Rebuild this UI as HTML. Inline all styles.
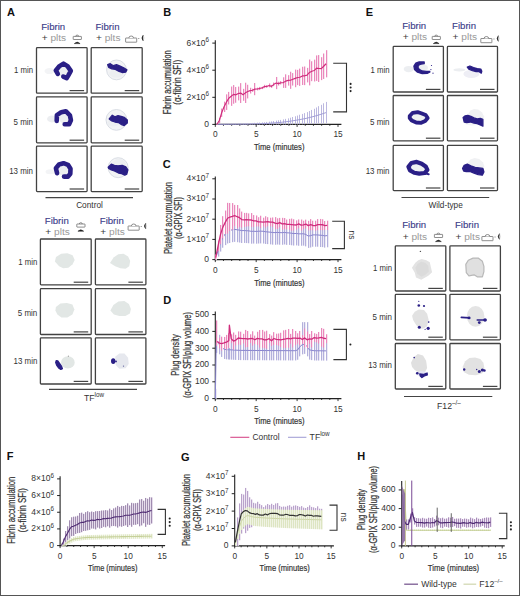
<!DOCTYPE html>
<html><head><meta charset="utf-8"><style>
html,body{margin:0;padding:0;background:#fff;}
svg{display:block;}
text{font-family:"Liberation Sans", sans-serif;}
text.w{stroke-width:0.3px;paint-order:stroke;}
</style></head><body>
<svg width="520" height="596" viewBox="0 0 520 596">
<rect x="0" y="0" width="520" height="596" fill="#fff"/>
<text x="6.9" y="16.2" font-size="11" fill="#111" font-weight="bold">A</text>
<text x="163.2" y="16.2" font-size="11" fill="#111" font-weight="bold">B</text>
<text x="162.8" y="168.4" font-size="11" fill="#111" font-weight="bold">C</text>
<text x="163.2" y="303.5" font-size="11" fill="#111" font-weight="bold">D</text>
<text x="365.8" y="16.2" font-size="11" fill="#111" font-weight="bold">E</text>
<text x="6.7" y="460.4" font-size="11" fill="#111" font-weight="bold">F</text>
<text x="181.0" y="460.6" font-size="11" fill="#111" font-weight="bold">G</text>
<text x="357.2" y="460.4" font-size="11" fill="#111" font-weight="bold">H</text>
<text x="41.2" y="30.2" font-size="9.6" fill="#3a3a88" textLength="24" lengthAdjust="spacingAndGlyphs" stroke="#3a3a88" stroke-width="0.12">Fibrin</text>
<text x="41.7" y="41.2" font-size="9.6" fill="#9a9a9a" textLength="24.5" lengthAdjust="spacingAndGlyphs"><tspan fill="#3a3a3a">+</tspan> plts</text>
<text x="95.5" y="30.2" font-size="9.6" fill="#3a3a88" textLength="24" lengthAdjust="spacingAndGlyphs" stroke="#3a3a88" stroke-width="0.12">Fibrin</text>
<text x="96.0" y="41.2" font-size="9.6" fill="#9a9a9a" textLength="24.5" lengthAdjust="spacingAndGlyphs"><tspan fill="#3a3a3a">+</tspan> plts</text>
<g transform="translate(72.8,35)" fill="none" stroke="#6a6a6a" stroke-width="0.75"><rect x="0.4" y="1.4" width="8.2" height="3.1" rx="0.3"/><path d="M2.9 1.4 A1.5 1.3 0 0 1 5.9 1.4"/><path d="M1.5 8.6 Q4.4 5.6 7.3 8.6 Z" fill="#1e1e1e" stroke="#1e1e1e" stroke-width="0.5"/></g>
<g transform="translate(125.3,35)" fill="none" stroke="#6a6a6a" stroke-width="0.75"><rect x="0.3" y="3.0" width="11.1" height="4.2" rx="0.3"/><path d="M3.6 3.0 A2.3 2.0 0 0 1 8.2 3.0" fill="#fff"/><line x1="12.9" y1="3.5" x2="14.0" y2="3.5"/><path d="M17.9 0.2 Q15.2 3.0 17.9 5.8 Q17.0 3.0 17.9 0.2 Z" fill="#1e1e1e" stroke="#1e1e1e" stroke-width="0.5"/><path d="M17.9 0.2 Q19.4 3.0 17.9 5.8" stroke-width="0.5" stroke="#aaa"/></g>
<rect x="36.50" y="47.60" width="50.60" height="45.60" rx="0.8" fill="#fff" stroke="#424242" stroke-width="1.3"/>
<g transform="translate(36.50,47.60)"><ellipse cx="13" cy="23.5" rx="5" ry="3" fill="#f3f4f6" opacity="1" transform="rotate(0 13 23.5)"/><ellipse cx="27" cy="23.5" rx="6" ry="6" fill="#eceef1" opacity="1" transform="rotate(0 27 23.5)"/><path d="M21.3 26.3 L19.3 22.8 L23.0 18.5 L27.0 16.0 L31.0 18.5 L34.3 23.3 L32.0 27.5 L30.2 30.6 L26.8 29.0" fill="none" stroke="#2a1f86" stroke-width="4.6" stroke-linejoin="round" stroke-linecap="round"/></g>
<line x1="69.60" y1="90.60" x2="84.10" y2="90.60" stroke="#444" stroke-width="1.2"/>
<rect x="91.20" y="47.60" width="51.00" height="45.60" rx="0.8" fill="#fff" stroke="#424242" stroke-width="1.3"/>
<g transform="translate(91.20,47.60)"><circle cx="25.3" cy="22.3" r="9.9" fill="#f2f3f5" stroke="#d6dae2" stroke-width="0.9"/><ellipse cx="25" cy="26" rx="7" ry="4" fill="#eceef1" opacity="1" transform="rotate(0 25 26)"/><path d="M16.5 17.1 L19.1 16.1 L22.2 18.1 L25.3 17.1 L28.9 18.6 L32.5 20.2 L35.7 22.3 L34.6 24.4 L31.0 24.9 L27.9 23.8 L24.2 21.8 L20.6 21.2 L17.5 19.7 Z" fill="#2a1f86" opacity="1" stroke="#2a1f86" stroke-width="1.3" stroke-linejoin="round"/></g>
<line x1="124.70" y1="90.60" x2="139.20" y2="90.60" stroke="#444" stroke-width="1.2"/>
<text x="33.0" y="73.3" font-size="9" fill="#333" text-anchor="end" textLength="19" lengthAdjust="spacingAndGlyphs">1 min</text>
<rect x="36.50" y="96.90" width="50.60" height="45.90" rx="0.8" fill="#fff" stroke="#424242" stroke-width="1.3"/>
<g transform="translate(36.50,96.90)"><ellipse cx="15.5" cy="22" rx="5" ry="3.5" fill="#eceef1" opacity="1" transform="rotate(0 15.5 22)"/><ellipse cx="28" cy="21.5" rx="5.5" ry="5" fill="#eceef1" opacity="1" transform="rotate(0 28 21.5)"/><path d="M20.2 24.0 L20.4 18.2 L24.8 15.3 L29.3 14.3 L33.4 18.4 L34.4 23.3 L32.6 27.3 L28.2 27.4" fill="none" stroke="#2a1f86" stroke-width="4.6" stroke-linejoin="round" stroke-linecap="round"/></g>
<line x1="69.60" y1="140.20" x2="84.10" y2="140.20" stroke="#444" stroke-width="1.2"/>
<rect x="91.20" y="96.90" width="51.00" height="45.90" rx="0.8" fill="#fff" stroke="#424242" stroke-width="1.3"/>
<g transform="translate(91.20,96.90)"><circle cx="25.2" cy="23" r="10.4" fill="#f2f3f5" stroke="#d6dae2" stroke-width="0.9"/><ellipse cx="22" cy="26" rx="6" ry="3.5" fill="#eceef1" opacity="1" transform="rotate(0 22 26)"/><path d="M18.0 22.0 L21.1 18.3 L23.7 19.9 L26.8 18.8 L29.9 19.4 L33.0 20.4 L36.1 23.0 L36.1 26.1 L33.0 28.7 L30.4 27.7 L27.3 25.6 L23.7 25.1 L20.6 24.0 Z" fill="#2a1f86" opacity="1" stroke="#2a1f86" stroke-width="1.3" stroke-linejoin="round"/></g>
<line x1="124.70" y1="140.20" x2="139.20" y2="140.20" stroke="#444" stroke-width="1.2"/>
<text x="33.0" y="125.2" font-size="9" fill="#333" text-anchor="end" textLength="19.5" lengthAdjust="spacingAndGlyphs">5 min</text>
<rect x="36.50" y="146.20" width="50.60" height="45.40" rx="0.8" fill="#fff" stroke="#424242" stroke-width="1.3"/>
<g transform="translate(36.50,146.20)"><ellipse cx="14" cy="25.5" rx="5" ry="2.5" fill="#f3f4f6" opacity="1" transform="rotate(0 14 25.5)"/><ellipse cx="27.5" cy="24.5" rx="5.5" ry="5" fill="#eceef1" opacity="1" transform="rotate(0 27.5 24.5)"/><path d="M20.6 27.0 L19.4 22.0 L22.5 18.3 L27.0 17.0 L31.5 18.6 L34.0 22.5 L33.8 27.5 L31.5 30.4 L27.5 30.4" fill="none" stroke="#2a1f86" stroke-width="4.6" stroke-linejoin="round" stroke-linecap="round"/></g>
<line x1="69.60" y1="189.00" x2="84.10" y2="189.00" stroke="#444" stroke-width="1.2"/>
<rect x="91.20" y="146.20" width="51.00" height="45.40" rx="0.8" fill="#fff" stroke="#424242" stroke-width="1.3"/>
<g transform="translate(91.20,146.20)"><circle cx="27" cy="21.5" r="10" fill="#f2f3f5" stroke="#d6dae2" stroke-width="0.9"/><circle cx="27.8" cy="19.5" r="7" fill="#eceef1"/><path d="M17.0 21.1 L20.1 18.0 L23.2 19.1 L26.8 19.6 L31.0 19.1 L34.6 20.6 L36.7 23.7 L35.6 27.9 L33.6 28.9 L30.4 27.4 L27.3 26.8 L23.2 24.8 L20.1 23.7 L17.5 22.2 Z" fill="#2a1f86" opacity="1" stroke="#2a1f86" stroke-width="1.3" stroke-linejoin="round"/></g>
<line x1="124.70" y1="189.00" x2="139.20" y2="189.00" stroke="#444" stroke-width="1.2"/>
<text x="33.0" y="173.7" font-size="9" fill="#333" text-anchor="end" textLength="23.8" lengthAdjust="spacingAndGlyphs">13 min</text>
<line x1="45.50" y1="197.60" x2="133.00" y2="197.60" stroke="#444" stroke-width="1.2"/>
<text x="89.5" y="207.9" font-size="9" fill="#333" text-anchor="middle" textLength="26.7" lengthAdjust="spacingAndGlyphs">Control</text>
<text x="44.8" y="223.6" font-size="9.6" fill="#3a3a88" textLength="24" lengthAdjust="spacingAndGlyphs" stroke="#3a3a88" stroke-width="0.12">Fibrin</text>
<text x="45.3" y="234.6" font-size="9.6" fill="#9a9a9a" textLength="24.5" lengthAdjust="spacingAndGlyphs"><tspan fill="#3a3a3a">+</tspan> plts</text>
<text x="99.8" y="223.6" font-size="9.6" fill="#3a3a88" textLength="24" lengthAdjust="spacingAndGlyphs" stroke="#3a3a88" stroke-width="0.12">Fibrin</text>
<text x="100.3" y="234.6" font-size="9.6" fill="#9a9a9a" textLength="24.5" lengthAdjust="spacingAndGlyphs"><tspan fill="#3a3a3a">+</tspan> plts</text>
<g transform="translate(76.4,222.6)" fill="none" stroke="#6a6a6a" stroke-width="0.75"><rect x="0.4" y="1.4" width="8.2" height="3.1" rx="0.3"/><path d="M2.9 1.4 A1.5 1.3 0 0 1 5.9 1.4"/><path d="M1.5 8.6 Q4.4 5.6 7.3 8.6 Z" fill="#1e1e1e" stroke="#1e1e1e" stroke-width="0.5"/></g>
<g transform="translate(127.8,223)" fill="none" stroke="#6a6a6a" stroke-width="0.75"><rect x="0.3" y="3.0" width="11.1" height="4.2" rx="0.3"/><path d="M3.6 3.0 A2.3 2.0 0 0 1 8.2 3.0" fill="#fff"/><line x1="12.9" y1="3.5" x2="14.0" y2="3.5"/><path d="M17.9 0.2 Q15.2 3.0 17.9 5.8 Q17.0 3.0 17.9 0.2 Z" fill="#1e1e1e" stroke="#1e1e1e" stroke-width="0.5"/><path d="M17.9 0.2 Q19.4 3.0 17.9 5.8" stroke-width="0.5" stroke="#aaa"/></g>
<rect x="40.40" y="239.00" width="50.80" height="45.80" rx="0.8" fill="#fff" stroke="#424242" stroke-width="1.3"/>
<g transform="translate(40.40,239.00)"><path d="M15.6 17.9 L20.8 14.8 L27.0 14.3 L32.2 16.3 L34.3 21.0 L32.2 25.2 L28.0 28.8 L22.8 29.3 L18.7 27.2 L14.5 22.6 Z" fill="#e2e7e5" opacity="1"/></g>
<line x1="73.70" y1="282.20" x2="88.20" y2="282.20" stroke="#444" stroke-width="1.2"/>
<rect x="95.40" y="239.00" width="50.50" height="45.80" rx="0.8" fill="#fff" stroke="#424242" stroke-width="1.3"/>
<g transform="translate(95.40,239.00)"><path d="M14.6 24.1 L18.2 18.4 L22.9 15.3 L28.1 14.8 L32.7 17.4 L34.8 22.0 L33.8 27.2 L30.2 29.8 L25.0 29.3 L19.8 27.2 Z" fill="#e2e7e5" opacity="1"/></g>
<line x1="128.40" y1="282.20" x2="142.90" y2="282.20" stroke="#444" stroke-width="1.2"/>
<text x="37.3" y="264.7" font-size="9" fill="#333" text-anchor="end" textLength="19" lengthAdjust="spacingAndGlyphs">1 min</text>
<rect x="40.40" y="288.60" width="50.80" height="45.90" rx="0.8" fill="#fff" stroke="#424242" stroke-width="1.3"/>
<g transform="translate(40.40,288.60)"><path d="M15.5 18.5 L20.0 15.0 L26.5 14.4 L32.0 16.0 L34.0 21.0 L32.0 26.0 L27.0 29.0 L21.0 28.8 L17.0 26.0 L15.0 22.0 Z" fill="#e2e7e5" opacity="1"/></g>
<line x1="73.70" y1="331.90" x2="88.20" y2="331.90" stroke="#444" stroke-width="1.2"/>
<rect x="95.40" y="288.60" width="50.50" height="45.90" rx="0.8" fill="#fff" stroke="#424242" stroke-width="1.3"/>
<g transform="translate(95.40,288.60)"><path d="M15.0 22.0 L18.0 16.5 L23.0 13.0 L29.0 12.5 L33.5 15.5 L35.5 20.5 L34.5 25.0 L30.0 27.5 L24.0 27.5 L18.5 26.0 Z" fill="#e2e7e5" opacity="1"/></g>
<line x1="128.40" y1="331.90" x2="142.90" y2="331.90" stroke="#444" stroke-width="1.2"/>
<text x="37.3" y="315.9" font-size="9" fill="#333" text-anchor="end" textLength="19.5" lengthAdjust="spacingAndGlyphs">5 min</text>
<rect x="40.40" y="337.80" width="50.80" height="46.20" rx="0.8" fill="#fff" stroke="#424242" stroke-width="1.3"/>
<g transform="translate(40.40,337.80)"><ellipse cx="27.5" cy="24.6" rx="6.8" ry="6.2" fill="#e2e7e5" opacity="1" transform="rotate(0 27.5 24.6)"/><circle cx="28" cy="18.4" r="0.6" fill="#999"/><path d="M15.8 22.8 L17.4 23.2 L19.3 25.8 L21.2 28.6 L22.0 30.8 L20.4 31.6 L18.2 30.2 L16.4 27.6 L15.3 24.8 Z" fill="#2a1f86" opacity="1" stroke="#2a1f86" stroke-width="1.3" stroke-linejoin="round"/></g>
<line x1="73.70" y1="381.40" x2="88.20" y2="381.40" stroke="#444" stroke-width="1.2"/>
<rect x="95.40" y="337.80" width="50.50" height="46.20" rx="0.8" fill="#fff" stroke="#424242" stroke-width="1.3"/>
<g transform="translate(95.40,337.80)"><path d="M19.8 18.9 L23.9 15.8 L29.1 15.8 L32.7 20.0 L33.3 26.2 L30.2 30.4 L23.9 30.9 L20.3 27.2 Z" fill="#e6e8ee" opacity="1"/><ellipse cx="17.8" cy="23.3" rx="2.2" ry="2.9" fill="#2a1f86" opacity="1" transform="rotate(0 17.8 23.3)"/><circle cx="20.6" cy="23.6" r="0.9" fill="#2a1f86"/><circle cx="28.1" cy="28.3" r="0.7" fill="#5a5a9a"/></g>
<line x1="128.40" y1="381.40" x2="142.90" y2="381.40" stroke="#444" stroke-width="1.2"/>
<text x="37.3" y="364.1" font-size="9" fill="#333" text-anchor="end" textLength="23.8" lengthAdjust="spacingAndGlyphs">13 min</text>
<line x1="49.00" y1="389.30" x2="137.00" y2="389.30" stroke="#444" stroke-width="1.2"/>
<text x="83.9" y="400.9" font-size="8.7" fill="#333" text-anchor="start">TF<tspan font-size="6.3" dy="-4">low</tspan></text>
<text x="402.2" y="29.1" font-size="9.6" fill="#3a3a88" textLength="24" lengthAdjust="spacingAndGlyphs" stroke="#3a3a88" stroke-width="0.12">Fibrin</text>
<text x="402.7" y="40.1" font-size="9.6" fill="#9a9a9a" textLength="24.5" lengthAdjust="spacingAndGlyphs"><tspan fill="#3a3a3a">+</tspan> plts</text>
<text x="452.1" y="29.1" font-size="9.6" fill="#3a3a88" textLength="24" lengthAdjust="spacingAndGlyphs" stroke="#3a3a88" stroke-width="0.12">Fibrin</text>
<text x="452.6" y="40.1" font-size="9.6" fill="#9a9a9a" textLength="24.5" lengthAdjust="spacingAndGlyphs"><tspan fill="#3a3a3a">+</tspan> plts</text>
<g transform="translate(431.8,35)" fill="none" stroke="#6a6a6a" stroke-width="0.75"><rect x="0.4" y="1.4" width="8.2" height="3.1" rx="0.3"/><path d="M2.9 1.4 A1.5 1.3 0 0 1 5.9 1.4"/><path d="M1.5 8.6 Q4.4 5.6 7.3 8.6 Z" fill="#1e1e1e" stroke="#1e1e1e" stroke-width="0.5"/></g>
<g transform="translate(480.5,35.5)" fill="none" stroke="#6a6a6a" stroke-width="0.75"><rect x="0.3" y="3.0" width="11.1" height="4.2" rx="0.3"/><path d="M3.6 3.0 A2.3 2.0 0 0 1 8.2 3.0" fill="#fff"/><line x1="12.9" y1="3.5" x2="14.0" y2="3.5"/><path d="M17.9 0.2 Q15.2 3.0 17.9 5.8 Q17.0 3.0 17.9 0.2 Z" fill="#1e1e1e" stroke="#1e1e1e" stroke-width="0.5"/><path d="M17.9 0.2 Q19.4 3.0 17.9 5.8" stroke-width="0.5" stroke="#aaa"/></g>
<rect x="393.20" y="46.40" width="50.20" height="45.60" rx="0.8" fill="#fff" stroke="#424242" stroke-width="1.3"/>
<g transform="translate(393.20,46.40)"><ellipse cx="15.5" cy="22.7" rx="5" ry="3.2" fill="#eceef1" opacity="1" transform="rotate(0 15.5 22.7)"/><ellipse cx="29" cy="21.5" rx="6" ry="3.8" fill="#f3f4f6" opacity="1" transform="rotate(0 29 21.5)"/><ellipse cx="29.5" cy="21.3" rx="5" ry="3" fill="#eceef1" opacity="1" transform="rotate(0 29.5 21.3)"/><path d="M31.0 15.5 L26.0 15.5 L22.6 16.8 L20.7 19.7 L21.3 23.0 L24.3 25.8 L29.0 27.3 L34.0 26.9 L36.8 25.5 L36.2 24.9 L33.0 25.0 L29.0 24.6 L26.0 23.0 L24.6 20.6 L25.8 18.6 L28.2 17.6 L31.0 17.3 Z" fill="#2a1f86" opacity="1" stroke="#2a1f86" stroke-width="1.3" stroke-linejoin="round"/><circle cx="38.3" cy="19.1" r="0.6" fill="#2a1f86"/><circle cx="37.7" cy="23.2" r="0.6" fill="#2a1f86"/><circle cx="39.8" cy="26.8" r="0.6" fill="#2a1f86"/></g>
<line x1="425.90" y1="89.40" x2="440.40" y2="89.40" stroke="#444" stroke-width="1.2"/>
<rect x="447.40" y="46.40" width="50.10" height="45.60" rx="0.8" fill="#fff" stroke="#424242" stroke-width="1.3"/>
<g transform="translate(447.40,46.40)"><ellipse cx="12" cy="23.5" rx="6" ry="1.6" fill="#eceef1" opacity="1" transform="rotate(0 12 23.5)"/><ellipse cx="24" cy="27.5" rx="8" ry="4" fill="#eeeef5" opacity="1" transform="rotate(0 24 27.5)"/><path d="M19.9 20.6 L22.5 19.6 L26.1 21.1 L29.8 22.2 L33.4 22.7 L34.4 24.8 L33.9 26.8 L31.8 25.3 L28.7 25.3 L25.1 24.2 L21.4 22.7 Z" fill="#2a1f86" opacity="1" stroke="#2a1f86" stroke-width="1.3" stroke-linejoin="round"/></g>
<line x1="480.00" y1="89.40" x2="494.50" y2="89.40" stroke="#444" stroke-width="1.2"/>
<text x="389.5" y="73.4" font-size="9" fill="#333" text-anchor="end" textLength="19" lengthAdjust="spacingAndGlyphs">1 min</text>
<rect x="393.20" y="95.50" width="50.20" height="45.30" rx="0.8" fill="#fff" stroke="#424242" stroke-width="1.3"/>
<g transform="translate(393.20,95.50)"><path d="M16.5 20.5 L19.5 17.3 L24.5 16.6 L28.0 17.7 L32.5 19.5 L34.5 22.5 L32.0 25.5 L28.0 27.3 L23.0 27.0 L18.5 25.0 L16.5 22.5 Z" fill="#eef0f2" opacity="1" stroke="#2a1f86" stroke-width="3.8" stroke-linejoin="round"/></g>
<line x1="425.90" y1="138.20" x2="440.40" y2="138.20" stroke="#444" stroke-width="1.2"/>
<rect x="447.40" y="95.50" width="50.10" height="45.30" rx="0.8" fill="#fff" stroke="#424242" stroke-width="1.3"/>
<g transform="translate(447.40,95.50)"><path d="M20.9 18.2 L23.0 15.1 L26.6 13.6 L30.8 14.1 L34.4 16.7 L37.0 21.3 L35.5 24.0 L20.0 21.0 Z" fill="#f0f1f3" opacity="1"/><ellipse cx="25" cy="27.5" rx="8" ry="2.5" fill="#f3f4f6" opacity="1" transform="rotate(0 25 27.5)"/><path d="M15.7 21.9 L17.8 20.3 L20.4 19.8 L23.5 20.8 L26.6 22.4 L29.8 23.4 L32.9 22.9 L35.5 23.9 L35.5 30.7 L33.4 29.7 L29.8 28.1 L26.6 27.6 L23.0 26.5 L19.4 27.1 L16.8 26.5 Z" fill="#2a1f86" opacity="1" stroke="#2a1f86" stroke-width="1.3" stroke-linejoin="round"/></g>
<line x1="480.00" y1="138.20" x2="494.50" y2="138.20" stroke="#444" stroke-width="1.2"/>
<text x="389.5" y="125.1" font-size="9" fill="#333" text-anchor="end" textLength="19.5" lengthAdjust="spacingAndGlyphs">5 min</text>
<rect x="393.20" y="145.40" width="50.20" height="45.20" rx="0.8" fill="#fff" stroke="#424242" stroke-width="1.3"/>
<g transform="translate(393.20,145.40)"><path d="M15.2 21.3 L18.2 17.6 L23.5 16.5 L28.5 18.3 L32.5 21.0 L34.2 24.5 L31.5 27.6 L26.0 28.2 L21.0 27.4 L16.8 25.0 Z" fill="#eef0f2" opacity="1" stroke="#2a1f86" stroke-width="4.2" stroke-linejoin="round"/><path d="M32.0 28.0 L35.5 28.8" fill="none" stroke="#2a1f86" stroke-width="2" stroke-linejoin="round" stroke-linecap="round"/></g>
<line x1="425.90" y1="188.00" x2="440.40" y2="188.00" stroke="#444" stroke-width="1.2"/>
<rect x="447.40" y="145.40" width="50.10" height="45.20" rx="0.8" fill="#fff" stroke="#424242" stroke-width="1.3"/>
<g transform="translate(447.40,145.40)"><path d="M19.4 18.3 L23.0 14.2 L27.2 12.6 L31.8 13.7 L35.5 16.8 L37.0 20.9 L35.5 24.0 L20.0 21.0 Z" fill="#f0f1f3" opacity="1"/><path d="M15.2 23.0 L16.8 19.9 L19.9 18.8 L23.5 20.4 L27.7 22.0 L31.8 22.5 L35.5 23.0 L36.5 26.6 L34.9 29.8 L30.8 29.2 L26.6 27.7 L22.5 26.1 L18.9 26.1 L16.3 25.6 Z" fill="#2a1f86" opacity="1" stroke="#2a1f86" stroke-width="1.3" stroke-linejoin="round"/></g>
<line x1="480.00" y1="188.00" x2="494.50" y2="188.00" stroke="#444" stroke-width="1.2"/>
<text x="389.5" y="173.9" font-size="9" fill="#333" text-anchor="end" textLength="23.8" lengthAdjust="spacingAndGlyphs">13 min</text>
<line x1="401.50" y1="197.50" x2="489.20" y2="197.50" stroke="#444" stroke-width="1.2"/>
<text x="445.6" y="207.5" font-size="9" fill="#333" text-anchor="middle" textLength="34.3" lengthAdjust="spacingAndGlyphs">Wild-type</text>
<text x="402.2" y="228.4" font-size="9.6" fill="#3a3a88" textLength="24" lengthAdjust="spacingAndGlyphs" stroke="#3a3a88" stroke-width="0.12">Fibrin</text>
<text x="402.7" y="239.8" font-size="9.6" fill="#9a9a9a" textLength="24.5" lengthAdjust="spacingAndGlyphs"><tspan fill="#3a3a3a">+</tspan> plts</text>
<text x="455.0" y="228.4" font-size="9.6" fill="#3a3a88" textLength="24" lengthAdjust="spacingAndGlyphs" stroke="#3a3a88" stroke-width="0.12">Fibrin</text>
<text x="455.5" y="239.8" font-size="9.6" fill="#9a9a9a" textLength="24.5" lengthAdjust="spacingAndGlyphs"><tspan fill="#3a3a3a">+</tspan> plts</text>
<g transform="translate(434,233)" fill="none" stroke="#6a6a6a" stroke-width="0.75"><rect x="0.4" y="1.4" width="8.2" height="3.1" rx="0.3"/><path d="M2.9 1.4 A1.5 1.3 0 0 1 5.9 1.4"/><path d="M1.5 8.6 Q4.4 5.6 7.3 8.6 Z" fill="#1e1e1e" stroke="#1e1e1e" stroke-width="0.5"/></g>
<g transform="translate(481.6,233.5)" fill="none" stroke="#6a6a6a" stroke-width="0.75"><rect x="0.3" y="3.0" width="11.1" height="4.2" rx="0.3"/><path d="M3.6 3.0 A2.3 2.0 0 0 1 8.2 3.0" fill="#fff"/><line x1="12.9" y1="3.5" x2="14.0" y2="3.5"/><path d="M17.9 0.2 Q15.2 3.0 17.9 5.8 Q17.0 3.0 17.9 0.2 Z" fill="#1e1e1e" stroke="#1e1e1e" stroke-width="0.5"/><path d="M17.9 0.2 Q19.4 3.0 17.9 5.8" stroke-width="0.5" stroke="#aaa"/></g>
<rect x="395.30" y="245.80" width="50.50" height="45.20" rx="0.8" fill="#fff" stroke="#424242" stroke-width="1.3"/>
<g transform="translate(395.30,245.80)"><path d="M26.4 13.2 L31.0 14.5 L34.5 16.5 L35.5 21.0 L36.8 26.5 L33.0 30.0 L25.9 34.0 L20.7 31.7 L19.5 27.0 L16.6 21.9 L20.0 17.0 L23.0 14.5 Z" fill="#e3e3e3" opacity="1"/><path d="M26.0 16.0 L30.0 17.0 L33.0 20.0 L33.5 26.0 L30.0 29.0 L26.0 31.0 L22.0 28.0 L20.0 22.0 L22.5 18.0 Z" fill="#dbdbdb" opacity="1"/><circle cx="25.1" cy="5.6" r="0.7" fill="#555"/></g>
<line x1="428.30" y1="288.40" x2="442.80" y2="288.40" stroke="#444" stroke-width="1.2"/>
<rect x="449.90" y="245.80" width="50.50" height="45.20" rx="0.8" fill="#fff" stroke="#424242" stroke-width="1.3"/>
<g transform="translate(449.90,245.80)"><path d="M15.9 18.6 L18.4 14.4 L23.1 12.3 L28.3 12.3 L32.5 15.5 L34.0 20.6 L34.0 25.8 L32.5 31.0 L27.3 31.0 L24.2 29.0 L19.0 30.0 L16.4 26.9 Z" fill="#e0e0e0" opacity="1" stroke="#b8b8b8" stroke-width="1.2" stroke-linejoin="round"/></g>
<line x1="482.90" y1="288.40" x2="497.40" y2="288.40" stroke="#444" stroke-width="1.2"/>
<text x="392.0" y="271.3" font-size="9" fill="#333" text-anchor="end" textLength="19" lengthAdjust="spacingAndGlyphs">1 min</text>
<rect x="395.30" y="294.40" width="50.50" height="45.40" rx="0.8" fill="#fff" stroke="#424242" stroke-width="1.3"/>
<g transform="translate(395.30,294.40)"><path d="M16.8 21.4 L19.4 17.3 L23.5 15.2 L28.7 15.7 L31.8 19.4 L33.4 25.6 L31.8 31.8 L27.7 34.4 L23.5 33.9 L20.4 29.8 L17.8 25.6 Z" fill="#e2e2e2" opacity="1"/><circle cx="23.5" cy="6.9" r="0.6" fill="#2a1f86"/><circle cx="23.5" cy="11.1" r="1.3" fill="#2a1f86"/><circle cx="28.7" cy="11.6" r="1.1" fill="#2a1f86"/><circle cx="24" cy="32.9" r="1.5" fill="#2a1f86"/><circle cx="32.9" cy="33.9" r="1.6" fill="#2a1f86"/><circle cx="33.4" cy="27.7" r="0.8" fill="#2a1f86"/><circle cx="29.8" cy="34.9" r="0.6" fill="#2a1f86"/></g>
<line x1="428.30" y1="337.20" x2="442.80" y2="337.20" stroke="#444" stroke-width="1.2"/>
<rect x="449.90" y="294.40" width="50.50" height="45.40" rx="0.8" fill="#fff" stroke="#424242" stroke-width="1.3"/>
<g transform="translate(449.90,294.40)"><ellipse cx="25.7" cy="22" rx="8.8" ry="10.4" fill="#e4e4e4" opacity="1" transform="rotate(0 25.7 22)"/><path d="M11.5 23.0 L19.5 23.5" fill="none" stroke="#2a1f86" stroke-width="1.8" stroke-linejoin="round" stroke-linecap="round"/><circle cx="19.2" cy="23.5" r="1.4" fill="#2a1f86"/><path d="M27.3 25.6 L36.0 25.6" fill="none" stroke="#2a1f86" stroke-width="1.5" stroke-linejoin="round" stroke-linecap="round"/><circle cx="29.4" cy="28.2" r="1.4" fill="#2a1f86"/><circle cx="35.1" cy="25.6" r="1.8" fill="#2a1f86"/></g>
<line x1="482.90" y1="337.20" x2="497.40" y2="337.20" stroke="#444" stroke-width="1.2"/>
<text x="392.0" y="319.9" font-size="9" fill="#333" text-anchor="end" textLength="19.5" lengthAdjust="spacingAndGlyphs">5 min</text>
<rect x="395.30" y="343.50" width="50.50" height="45.50" rx="0.8" fill="#fff" stroke="#424242" stroke-width="1.3"/>
<g transform="translate(395.30,343.50)"><path d="M15.7 19.3 L18.3 14.1 L22.5 10.4 L27.7 12.0 L30.8 17.2 L31.8 24.5 L29.8 28.6 L24.6 29.7 L19.4 26.5 L16.8 23.4 Z" fill="#e0e0e0" opacity="1"/><ellipse cx="26" cy="30" rx="5.5" ry="2.5" fill="#e4e4f2" opacity="1" transform="rotate(0 26 30)"/><circle cx="18.9" cy="14.1" r="0.8" fill="#2a1f86"/><circle cx="22" cy="29.7" r="1.3" fill="#2a1f86"/><path d="M24.5 30.5 L28.0 31.0 L31.8 29.5 L32.0 31.5 L29.0 32.5 L26.6 34.0 L25.0 32.5 Z" fill="#2a1f86" opacity="1" stroke="#2a1f86" stroke-width="1.3" stroke-linejoin="round"/></g>
<line x1="428.30" y1="386.40" x2="442.80" y2="386.40" stroke="#444" stroke-width="1.2"/>
<rect x="449.90" y="343.50" width="50.50" height="45.50" rx="0.8" fill="#fff" stroke="#424242" stroke-width="1.3"/>
<g transform="translate(449.90,343.50)"><path d="M12.7 23.4 L15.3 17.7 L19.5 14.6 L25.2 14.1 L30.4 15.6 L33.5 19.3 L34.5 24.5 L32.5 29.7 L26.2 31.7 L19.0 31.2 L13.8 28.6 Z" fill="#e2e2e2" opacity="1"/><circle cx="14.3" cy="26" r="1.2" fill="#2a1f86"/><circle cx="29.4" cy="28.1" r="1.5" fill="#2a1f86"/><circle cx="32.5" cy="26.5" r="1.6" fill="#2a1f86"/><circle cx="34.5" cy="27" r="1.3" fill="#2a1f86"/><circle cx="26.8" cy="26" r="0.7" fill="#2a1f86"/></g>
<line x1="482.90" y1="386.40" x2="497.40" y2="386.40" stroke="#444" stroke-width="1.2"/>
<text x="392.0" y="368.0" font-size="9" fill="#333" text-anchor="end" textLength="23.8" lengthAdjust="spacingAndGlyphs">13 min</text>
<line x1="404.00" y1="396.50" x2="492.30" y2="396.50" stroke="#444" stroke-width="1.2"/>
<text x="437" y="409.2" font-size="8.7" fill="#333" text-anchor="start">F12<tspan font-size="6.3" dy="-4">–/–</tspan></text>
<line x1="215.30" y1="40.30" x2="215.30" y2="125.00" stroke="#222" stroke-width="1.1"/>
<line x1="214.80" y1="124.40" x2="341.40" y2="124.40" stroke="#222" stroke-width="1.1"/>
<line x1="212.30" y1="124.40" x2="215.30" y2="124.40" stroke="#222" stroke-width="1"/>
<text x="209.1" y="126.8" font-size="8.5" fill="#333" text-anchor="end">0</text>
<line x1="212.30" y1="97.30" x2="215.30" y2="97.30" stroke="#222" stroke-width="1"/>
<text x="209.1" y="99.7" font-size="8.5" fill="#333" text-anchor="end">2×10<tspan font-size="6.3" dy="-3.5">6</tspan></text>
<line x1="212.30" y1="70.20" x2="215.30" y2="70.20" stroke="#222" stroke-width="1"/>
<text x="209.1" y="72.6" font-size="8.5" fill="#333" text-anchor="end">4×10<tspan font-size="6.3" dy="-3.5">6</tspan></text>
<line x1="212.30" y1="43.10" x2="215.30" y2="43.10" stroke="#222" stroke-width="1"/>
<text x="209.1" y="45.5" font-size="8.5" fill="#333" text-anchor="end">6×10<tspan font-size="6.3" dy="-3.5">6</tspan></text>
<line x1="215.30" y1="124.40" x2="215.30" y2="126.90" stroke="#222" stroke-width="0.9"/>
<line x1="223.48" y1="124.40" x2="223.48" y2="125.80" stroke="#222" stroke-width="0.9"/>
<line x1="231.66" y1="124.40" x2="231.66" y2="125.80" stroke="#222" stroke-width="0.9"/>
<line x1="239.84" y1="124.40" x2="239.84" y2="125.80" stroke="#222" stroke-width="0.9"/>
<line x1="248.02" y1="124.40" x2="248.02" y2="125.80" stroke="#222" stroke-width="0.9"/>
<line x1="256.20" y1="124.40" x2="256.20" y2="126.90" stroke="#222" stroke-width="0.9"/>
<line x1="264.38" y1="124.40" x2="264.38" y2="125.80" stroke="#222" stroke-width="0.9"/>
<line x1="272.56" y1="124.40" x2="272.56" y2="125.80" stroke="#222" stroke-width="0.9"/>
<line x1="280.74" y1="124.40" x2="280.74" y2="125.80" stroke="#222" stroke-width="0.9"/>
<line x1="288.92" y1="124.40" x2="288.92" y2="125.80" stroke="#222" stroke-width="0.9"/>
<line x1="297.10" y1="124.40" x2="297.10" y2="126.90" stroke="#222" stroke-width="0.9"/>
<line x1="305.28" y1="124.40" x2="305.28" y2="125.80" stroke="#222" stroke-width="0.9"/>
<line x1="313.46" y1="124.40" x2="313.46" y2="125.80" stroke="#222" stroke-width="0.9"/>
<line x1="321.64" y1="124.40" x2="321.64" y2="125.80" stroke="#222" stroke-width="0.9"/>
<line x1="329.82" y1="124.40" x2="329.82" y2="125.80" stroke="#222" stroke-width="0.9"/>
<line x1="338.00" y1="124.40" x2="338.00" y2="126.90" stroke="#222" stroke-width="0.9"/>
<text x="215.3" y="137.3" font-size="8.3" fill="#333" text-anchor="middle">0</text>
<text x="256.2" y="137.3" font-size="8.3" fill="#333" text-anchor="middle">5</text>
<text x="297.1" y="137.3" font-size="8.3" fill="#333" text-anchor="middle">10</text>
<text x="338.0" y="137.3" font-size="8.3" fill="#333" text-anchor="middle">15</text>
<text transform="translate(171.4,82.3) rotate(-90)" x="0" y="0" font-size="10.4" fill="#333" text-anchor="middle" textLength="64" lengthAdjust="spacingAndGlyphs" stroke="#333" stroke-width="0.22">Fibrin accumulation</text>
<text transform="translate(180.5,82.3) rotate(-90)" x="0" y="0" font-size="10.4" fill="#333" text-anchor="middle" textLength="45" lengthAdjust="spacingAndGlyphs" stroke="#333" stroke-width="0.22">(α-fibrin SFI)</text>
<line x1="216.50" y1="123.72" x2="216.50" y2="124.40" stroke="#bcb8e0" stroke-width="1.0" opacity="1"/>
<line x1="219.50" y1="123.72" x2="219.50" y2="124.40" stroke="#bcb8e0" stroke-width="1.0" opacity="1"/>
<line x1="221.50" y1="123.68" x2="221.50" y2="124.40" stroke="#bcb8e0" stroke-width="1.0" opacity="1"/>
<line x1="224.50" y1="123.64" x2="224.50" y2="124.40" stroke="#bcb8e0" stroke-width="1.0" opacity="1"/>
<line x1="226.50" y1="123.60" x2="226.50" y2="124.40" stroke="#bcb8e0" stroke-width="1.0" opacity="1"/>
<line x1="228.50" y1="123.56" x2="228.50" y2="124.40" stroke="#bcb8e0" stroke-width="1.0" opacity="1"/>
<line x1="231.50" y1="123.52" x2="231.50" y2="124.40" stroke="#bcb8e0" stroke-width="1.0" opacity="1"/>
<line x1="233.50" y1="123.47" x2="233.50" y2="124.40" stroke="#bcb8e0" stroke-width="1.0" opacity="1"/>
<line x1="235.50" y1="123.43" x2="235.50" y2="124.40" stroke="#bcb8e0" stroke-width="1.0" opacity="1"/>
<line x1="238.50" y1="123.39" x2="238.50" y2="124.40" stroke="#bcb8e0" stroke-width="1.0" opacity="1"/>
<line x1="240.50" y1="123.35" x2="240.50" y2="124.40" stroke="#bcb8e0" stroke-width="1.0" opacity="1"/>
<line x1="243.50" y1="123.31" x2="243.50" y2="124.40" stroke="#bcb8e0" stroke-width="1.0" opacity="1"/>
<line x1="245.50" y1="123.27" x2="245.50" y2="124.40" stroke="#bcb8e0" stroke-width="1.0" opacity="1"/>
<line x1="247.50" y1="123.23" x2="247.50" y2="124.40" stroke="#bcb8e0" stroke-width="1.0" opacity="1"/>
<line x1="250.50" y1="123.09" x2="250.50" y2="124.40" stroke="#bcb8e0" stroke-width="1.0" opacity="1"/>
<line x1="252.50" y1="122.95" x2="252.50" y2="124.40" stroke="#bcb8e0" stroke-width="1.0" opacity="1"/>
<line x1="254.50" y1="122.80" x2="254.50" y2="124.40" stroke="#bcb8e0" stroke-width="1.0" opacity="1"/>
<line x1="257.50" y1="122.65" x2="257.50" y2="124.40" stroke="#bcb8e0" stroke-width="1.0" opacity="1"/>
<line x1="259.50" y1="122.51" x2="259.50" y2="124.40" stroke="#bcb8e0" stroke-width="1.0" opacity="1"/>
<line x1="262.50" y1="122.36" x2="262.50" y2="124.40" stroke="#bcb8e0" stroke-width="1.0" opacity="1"/>
<line x1="264.50" y1="122.22" x2="264.50" y2="124.40" stroke="#bcb8e0" stroke-width="1.0" opacity="1"/>
<line x1="266.50" y1="121.93" x2="266.50" y2="124.40" stroke="#bcb8e0" stroke-width="1.0" opacity="1"/>
<line x1="269.50" y1="121.64" x2="269.50" y2="124.40" stroke="#bcb8e0" stroke-width="1.0" opacity="1"/>
<line x1="271.50" y1="121.35" x2="271.50" y2="124.40" stroke="#bcb8e0" stroke-width="1.0" opacity="1"/>
<line x1="273.50" y1="121.02" x2="273.50" y2="124.40" stroke="#bcb8e0" stroke-width="1.0" opacity="1"/>
<line x1="276.50" y1="120.65" x2="276.50" y2="124.40" stroke="#bcb8e0" stroke-width="1.0" opacity="1"/>
<line x1="278.50" y1="120.29" x2="278.50" y2="124.40" stroke="#bcb8e0" stroke-width="1.0" opacity="1"/>
<line x1="280.50" y1="119.91" x2="280.50" y2="124.40" stroke="#bcb8e0" stroke-width="1.0" opacity="1"/>
<line x1="283.50" y1="119.40" x2="283.50" y2="124.40" stroke="#bcb8e0" stroke-width="1.0" opacity="1"/>
<line x1="285.50" y1="118.89" x2="285.50" y2="124.40" stroke="#bcb8e0" stroke-width="1.0" opacity="1"/>
<line x1="288.50" y1="118.38" x2="288.50" y2="124.40" stroke="#bcb8e0" stroke-width="1.0" opacity="1"/>
<line x1="290.50" y1="117.73" x2="290.50" y2="124.40" stroke="#bcb8e0" stroke-width="1.0" opacity="1"/>
<line x1="292.50" y1="117.00" x2="292.50" y2="124.40" stroke="#bcb8e0" stroke-width="1.0" opacity="1"/>
<line x1="295.50" y1="116.28" x2="295.50" y2="124.40" stroke="#bcb8e0" stroke-width="1.0" opacity="1"/>
<line x1="297.50" y1="115.54" x2="297.50" y2="124.40" stroke="#bcb8e0" stroke-width="1.0" opacity="1"/>
<line x1="299.50" y1="114.74" x2="299.50" y2="124.35" stroke="#bcb8e0" stroke-width="1.0" opacity="1"/>
<line x1="302.50" y1="113.94" x2="302.50" y2="124.28" stroke="#bcb8e0" stroke-width="1.0" opacity="1"/>
<line x1="304.50" y1="113.14" x2="304.50" y2="124.22" stroke="#bcb8e0" stroke-width="1.0" opacity="1"/>
<line x1="307.50" y1="112.12" x2="307.50" y2="124.14" stroke="#bcb8e0" stroke-width="1.0" opacity="1"/>
<line x1="309.50" y1="111.03" x2="309.50" y2="124.05" stroke="#bcb8e0" stroke-width="1.0" opacity="1"/>
<line x1="311.50" y1="109.94" x2="311.50" y2="123.96" stroke="#bcb8e0" stroke-width="1.0" opacity="1"/>
<line x1="314.50" y1="108.78" x2="314.50" y2="123.87" stroke="#bcb8e0" stroke-width="1.0" opacity="1"/>
<line x1="316.50" y1="107.47" x2="316.50" y2="123.76" stroke="#bcb8e0" stroke-width="1.0" opacity="1"/>
<line x1="318.50" y1="106.16" x2="318.50" y2="123.65" stroke="#bcb8e0" stroke-width="1.0" opacity="1"/>
<line x1="321.50" y1="104.85" x2="321.50" y2="123.55" stroke="#bcb8e0" stroke-width="1.0" opacity="1"/>
<line x1="323.50" y1="103.29" x2="323.50" y2="123.42" stroke="#bcb8e0" stroke-width="1.0" opacity="1"/>
<line x1="326.50" y1="101.91" x2="326.50" y2="123.31" stroke="#bcb8e0" stroke-width="1.0" opacity="1"/>
<path d="M216.94 124.40 L219.31 124.40 L221.68 124.38 L224.05 124.36 L226.42 124.33 L228.80 124.31 L231.17 124.29 L233.54 124.27 L235.91 124.24 L238.29 124.22 L240.66 124.20 L243.03 124.18 L245.40 124.15 L247.77 124.13 L250.15 124.06 L252.52 123.98 L254.89 123.90 L257.26 123.82 L259.64 123.74 L262.01 123.67 L264.38 123.59 L266.75 123.43 L269.12 123.27 L271.50 123.12 L273.87 122.94 L276.24 122.74 L278.61 122.54 L280.99 122.34 L283.36 122.06 L285.73 121.79 L288.10 121.51 L290.47 121.16 L292.85 120.77 L295.22 120.38 L297.59 119.97 L299.96 119.54 L302.34 119.11 L304.71 118.68 L307.08 118.13 L309.45 117.54 L311.82 116.95 L314.20 116.32 L316.57 115.61 L318.94 114.91 L321.31 114.20 L323.69 113.36 L326.06 112.61" fill="none" stroke="#9a96d2" stroke-width="0.9" stroke-linejoin="round"/>
<line x1="217.50" y1="123.86" x2="217.50" y2="124.40" stroke="#f9e3ee" stroke-width="1"/>
<line x1="216.50" y1="123.86" x2="216.50" y2="124.40" stroke="#ea88bc" stroke-width="1.0" opacity="1"/>
<line x1="220.50" y1="117.90" x2="220.50" y2="123.04" stroke="#f9e3ee" stroke-width="1"/>
<line x1="219.50" y1="117.90" x2="219.50" y2="123.04" stroke="#ea88bc" stroke-width="1.0" opacity="1"/>
<line x1="222.50" y1="108.59" x2="222.50" y2="116.91" stroke="#f9e3ee" stroke-width="1"/>
<line x1="221.50" y1="108.59" x2="221.50" y2="116.91" stroke="#ea88bc" stroke-width="1.0" opacity="1"/>
<line x1="225.50" y1="101.62" x2="225.50" y2="112.02" stroke="#f9e3ee" stroke-width="1"/>
<line x1="224.50" y1="101.62" x2="224.50" y2="112.02" stroke="#ea88bc" stroke-width="1.0" opacity="1"/>
<line x1="227.50" y1="94.35" x2="227.50" y2="109.93" stroke="#f9e3ee" stroke-width="1"/>
<line x1="226.50" y1="94.35" x2="226.50" y2="109.93" stroke="#ea88bc" stroke-width="1.0" opacity="1"/>
<line x1="229.50" y1="91.91" x2="229.50" y2="104.47" stroke="#f9e3ee" stroke-width="1"/>
<line x1="228.50" y1="91.91" x2="228.50" y2="104.47" stroke="#ea88bc" stroke-width="1.0" opacity="1"/>
<line x1="232.50" y1="86.54" x2="232.50" y2="105.85" stroke="#f9e3ee" stroke-width="1"/>
<line x1="231.50" y1="86.54" x2="231.50" y2="105.85" stroke="#ea88bc" stroke-width="1.0" opacity="1"/>
<line x1="234.50" y1="85.08" x2="234.50" y2="103.73" stroke="#f9e3ee" stroke-width="1"/>
<line x1="233.50" y1="85.08" x2="233.50" y2="103.73" stroke="#ea88bc" stroke-width="1.0" opacity="1"/>
<line x1="236.50" y1="86.98" x2="236.50" y2="102.74" stroke="#f9e3ee" stroke-width="1"/>
<line x1="235.50" y1="86.98" x2="235.50" y2="102.74" stroke="#ea88bc" stroke-width="1.0" opacity="1"/>
<line x1="239.50" y1="86.60" x2="239.50" y2="100.39" stroke="#f9e3ee" stroke-width="1"/>
<line x1="238.50" y1="86.60" x2="238.50" y2="100.39" stroke="#ea88bc" stroke-width="1.0" opacity="1"/>
<line x1="241.50" y1="83.11" x2="241.50" y2="103.03" stroke="#f9e3ee" stroke-width="1"/>
<line x1="240.50" y1="83.11" x2="240.50" y2="103.03" stroke="#ea88bc" stroke-width="1.0" opacity="1"/>
<line x1="244.50" y1="88.83" x2="244.50" y2="100.77" stroke="#f9e3ee" stroke-width="1"/>
<line x1="243.50" y1="88.83" x2="243.50" y2="100.77" stroke="#ea88bc" stroke-width="1.0" opacity="1"/>
<line x1="246.50" y1="82.73" x2="246.50" y2="102.99" stroke="#f9e3ee" stroke-width="1"/>
<line x1="245.50" y1="82.73" x2="245.50" y2="102.99" stroke="#ea88bc" stroke-width="1.0" opacity="1"/>
<line x1="248.50" y1="84.75" x2="248.50" y2="98.43" stroke="#f9e3ee" stroke-width="1"/>
<line x1="247.50" y1="84.75" x2="247.50" y2="98.43" stroke="#ea88bc" stroke-width="1.0" opacity="1"/>
<line x1="251.50" y1="87.77" x2="251.50" y2="93.52" stroke="#f9e3ee" stroke-width="1"/>
<line x1="250.50" y1="87.77" x2="250.50" y2="93.52" stroke="#ea88bc" stroke-width="1.0" opacity="1"/>
<line x1="253.50" y1="88.70" x2="253.50" y2="91.84" stroke="#f9e3ee" stroke-width="1"/>
<line x1="252.50" y1="88.70" x2="252.50" y2="91.84" stroke="#ea88bc" stroke-width="1.0" opacity="1"/>
<line x1="255.50" y1="83.02" x2="255.50" y2="95.22" stroke="#f9e3ee" stroke-width="1"/>
<line x1="254.50" y1="83.02" x2="254.50" y2="95.22" stroke="#ea88bc" stroke-width="1.0" opacity="1"/>
<line x1="258.50" y1="87.64" x2="258.50" y2="90.40" stroke="#f9e3ee" stroke-width="1"/>
<line x1="257.50" y1="87.64" x2="257.50" y2="90.40" stroke="#ea88bc" stroke-width="1.0" opacity="1"/>
<line x1="260.50" y1="86.91" x2="260.50" y2="90.09" stroke="#f9e3ee" stroke-width="1"/>
<line x1="259.50" y1="86.91" x2="259.50" y2="90.09" stroke="#ea88bc" stroke-width="1.0" opacity="1"/>
<line x1="263.50" y1="86.74" x2="263.50" y2="89.12" stroke="#f9e3ee" stroke-width="1"/>
<line x1="262.50" y1="86.74" x2="262.50" y2="89.12" stroke="#ea88bc" stroke-width="1.0" opacity="1"/>
<line x1="265.50" y1="84.82" x2="265.50" y2="88.17" stroke="#f9e3ee" stroke-width="1"/>
<line x1="264.50" y1="84.82" x2="264.50" y2="88.17" stroke="#ea88bc" stroke-width="1.0" opacity="1"/>
<line x1="267.50" y1="85.13" x2="267.50" y2="87.81" stroke="#f9e3ee" stroke-width="1"/>
<line x1="266.50" y1="85.13" x2="266.50" y2="87.81" stroke="#ea88bc" stroke-width="1.0" opacity="1"/>
<line x1="270.50" y1="83.46" x2="270.50" y2="87.37" stroke="#f9e3ee" stroke-width="1"/>
<line x1="269.50" y1="83.46" x2="269.50" y2="87.37" stroke="#ea88bc" stroke-width="1.0" opacity="1"/>
<line x1="272.50" y1="84.92" x2="272.50" y2="87.86" stroke="#f9e3ee" stroke-width="1"/>
<line x1="271.50" y1="84.92" x2="271.50" y2="87.86" stroke="#ea88bc" stroke-width="1.0" opacity="1"/>
<line x1="274.50" y1="82.55" x2="274.50" y2="86.18" stroke="#f9e3ee" stroke-width="1"/>
<line x1="273.50" y1="82.55" x2="273.50" y2="86.18" stroke="#ea88bc" stroke-width="1.0" opacity="1"/>
<line x1="277.50" y1="76.98" x2="277.50" y2="89.17" stroke="#f9e3ee" stroke-width="1"/>
<line x1="276.50" y1="76.98" x2="276.50" y2="89.17" stroke="#ea88bc" stroke-width="1.0" opacity="1"/>
<line x1="279.50" y1="81.68" x2="279.50" y2="85.54" stroke="#f9e3ee" stroke-width="1"/>
<line x1="278.50" y1="81.68" x2="278.50" y2="85.54" stroke="#ea88bc" stroke-width="1.0" opacity="1"/>
<line x1="281.50" y1="81.11" x2="281.50" y2="84.46" stroke="#f9e3ee" stroke-width="1"/>
<line x1="280.50" y1="81.11" x2="280.50" y2="84.46" stroke="#ea88bc" stroke-width="1.0" opacity="1"/>
<line x1="284.50" y1="77.29" x2="284.50" y2="87.90" stroke="#f9e3ee" stroke-width="1"/>
<line x1="283.50" y1="77.29" x2="283.50" y2="87.90" stroke="#ea88bc" stroke-width="1.0" opacity="1"/>
<line x1="286.50" y1="74.32" x2="286.50" y2="87.93" stroke="#f9e3ee" stroke-width="1"/>
<line x1="285.50" y1="74.32" x2="285.50" y2="87.93" stroke="#ea88bc" stroke-width="1.0" opacity="1"/>
<line x1="289.50" y1="75.18" x2="289.50" y2="85.63" stroke="#f9e3ee" stroke-width="1"/>
<line x1="288.50" y1="75.18" x2="288.50" y2="85.63" stroke="#ea88bc" stroke-width="1.0" opacity="1"/>
<line x1="291.50" y1="71.73" x2="291.50" y2="88.87" stroke="#f9e3ee" stroke-width="1"/>
<line x1="290.50" y1="71.73" x2="290.50" y2="88.87" stroke="#ea88bc" stroke-width="1.0" opacity="1"/>
<line x1="293.50" y1="73.09" x2="293.50" y2="85.55" stroke="#f9e3ee" stroke-width="1"/>
<line x1="292.50" y1="73.09" x2="292.50" y2="85.55" stroke="#ea88bc" stroke-width="1.0" opacity="1"/>
<line x1="296.50" y1="69.60" x2="296.50" y2="87.21" stroke="#f9e3ee" stroke-width="1"/>
<line x1="295.50" y1="69.60" x2="295.50" y2="87.21" stroke="#ea88bc" stroke-width="1.0" opacity="1"/>
<line x1="298.50" y1="69.87" x2="298.50" y2="85.14" stroke="#f9e3ee" stroke-width="1"/>
<line x1="297.50" y1="69.87" x2="297.50" y2="85.14" stroke="#ea88bc" stroke-width="1.0" opacity="1"/>
<line x1="300.50" y1="68.61" x2="300.50" y2="85.90" stroke="#f9e3ee" stroke-width="1"/>
<line x1="299.50" y1="68.61" x2="299.50" y2="85.90" stroke="#ea88bc" stroke-width="1.0" opacity="1"/>
<line x1="303.50" y1="66.78" x2="303.50" y2="84.98" stroke="#f9e3ee" stroke-width="1"/>
<line x1="302.50" y1="66.78" x2="302.50" y2="84.98" stroke="#ea88bc" stroke-width="1.0" opacity="1"/>
<line x1="305.50" y1="66.48" x2="305.50" y2="85.15" stroke="#f9e3ee" stroke-width="1"/>
<line x1="304.50" y1="66.48" x2="304.50" y2="85.15" stroke="#ea88bc" stroke-width="1.0" opacity="1"/>
<line x1="308.50" y1="67.85" x2="308.50" y2="82.41" stroke="#f9e3ee" stroke-width="1"/>
<line x1="307.50" y1="67.85" x2="307.50" y2="82.41" stroke="#ea88bc" stroke-width="1.0" opacity="1"/>
<line x1="310.50" y1="59.54" x2="310.50" y2="85.40" stroke="#f9e3ee" stroke-width="1"/>
<line x1="309.50" y1="59.54" x2="309.50" y2="85.40" stroke="#ea88bc" stroke-width="1.0" opacity="1"/>
<line x1="312.50" y1="61.28" x2="312.50" y2="81.16" stroke="#f9e3ee" stroke-width="1"/>
<line x1="311.50" y1="61.28" x2="311.50" y2="81.16" stroke="#ea88bc" stroke-width="1.0" opacity="1"/>
<line x1="315.50" y1="59.66" x2="315.50" y2="81.47" stroke="#f9e3ee" stroke-width="1"/>
<line x1="314.50" y1="59.66" x2="314.50" y2="81.47" stroke="#ea88bc" stroke-width="1.0" opacity="1"/>
<line x1="317.50" y1="55.45" x2="317.50" y2="80.91" stroke="#f9e3ee" stroke-width="1"/>
<line x1="316.50" y1="55.45" x2="316.50" y2="80.91" stroke="#ea88bc" stroke-width="1.0" opacity="1"/>
<line x1="319.50" y1="55.07" x2="319.50" y2="82.03" stroke="#f9e3ee" stroke-width="1"/>
<line x1="318.50" y1="55.07" x2="318.50" y2="82.03" stroke="#ea88bc" stroke-width="1.0" opacity="1"/>
<line x1="322.50" y1="57.19" x2="322.50" y2="80.13" stroke="#f9e3ee" stroke-width="1"/>
<line x1="321.50" y1="57.19" x2="321.50" y2="80.13" stroke="#ea88bc" stroke-width="1.0" opacity="1"/>
<line x1="324.50" y1="53.50" x2="324.50" y2="78.95" stroke="#f9e3ee" stroke-width="1"/>
<line x1="323.50" y1="53.50" x2="323.50" y2="78.95" stroke="#ea88bc" stroke-width="1.0" opacity="1"/>
<line x1="327.50" y1="50.20" x2="327.50" y2="77.34" stroke="#f9e3ee" stroke-width="1"/>
<line x1="326.50" y1="50.20" x2="326.50" y2="77.34" stroke="#ea88bc" stroke-width="1.0" opacity="1"/>
<path d="M216.94 124.40 L219.31 120.47 L221.68 112.75 L224.05 106.82 L226.42 102.14 L228.80 98.19 L231.17 96.20 L233.54 94.41 L235.91 94.86 L238.29 93.49 L240.66 93.07 L243.03 94.80 L245.40 92.86 L247.77 91.59 L250.15 90.65 L252.52 90.27 L254.89 89.12 L257.26 89.02 L259.64 88.50 L262.01 87.93 L264.38 86.50 L266.75 86.47 L269.12 85.42 L271.50 86.39 L273.87 84.37 L276.24 83.07 L278.61 83.61 L280.99 82.79 L283.36 82.60 L285.73 81.13 L288.10 80.40 L290.47 80.30 L292.85 79.32 L295.22 78.40 L297.59 77.50 L299.96 77.26 L302.34 75.88 L304.71 75.82 L307.08 75.13 L309.45 72.47 L311.82 71.22 L314.20 70.57 L316.57 68.18 L318.94 68.55 L321.31 68.66 L323.69 66.23 L326.06 63.77" fill="none" stroke="#d02c7c" stroke-width="1.15" stroke-linejoin="round"/>
<path d="M333.2 63.2 H346.5 V111.9 H333.2" fill="none" stroke="#333" stroke-width="1.1"/>
<circle cx="350.6" cy="83.9" r="1.05" fill="#222"/>
<circle cx="350.6" cy="87.5" r="1.05" fill="#222"/>
<circle cx="350.6" cy="91.1" r="1.05" fill="#222"/>
<text x="279.2" y="150.1" font-size="9.5" fill="#333" text-anchor="middle" textLength="50.5" lengthAdjust="spacingAndGlyphs" stroke="#333" stroke-width="0.2">Time (minutes)</text>
<line x1="215.30" y1="176.60" x2="215.30" y2="260.20" stroke="#222" stroke-width="1.1"/>
<line x1="214.80" y1="259.60" x2="341.40" y2="259.60" stroke="#222" stroke-width="1.1"/>
<line x1="212.30" y1="259.60" x2="215.30" y2="259.60" stroke="#222" stroke-width="1"/>
<text x="209.1" y="262.0" font-size="8.5" fill="#333" text-anchor="end">0</text>
<line x1="212.30" y1="239.40" x2="215.30" y2="239.40" stroke="#222" stroke-width="1"/>
<text x="209.1" y="241.8" font-size="8.5" fill="#333" text-anchor="end">1×10<tspan font-size="6.3" dy="-3.5">7</tspan></text>
<line x1="212.30" y1="219.20" x2="215.30" y2="219.20" stroke="#222" stroke-width="1"/>
<text x="209.1" y="221.6" font-size="8.5" fill="#333" text-anchor="end">2×10<tspan font-size="6.3" dy="-3.5">7</tspan></text>
<line x1="212.30" y1="199.00" x2="215.30" y2="199.00" stroke="#222" stroke-width="1"/>
<text x="209.1" y="201.4" font-size="8.5" fill="#333" text-anchor="end">3×10<tspan font-size="6.3" dy="-3.5">7</tspan></text>
<line x1="212.30" y1="178.80" x2="215.30" y2="178.80" stroke="#222" stroke-width="1"/>
<text x="209.1" y="181.2" font-size="8.5" fill="#333" text-anchor="end">4×10<tspan font-size="6.3" dy="-3.5">7</tspan></text>
<line x1="215.30" y1="259.60" x2="215.30" y2="262.10" stroke="#222" stroke-width="0.9"/>
<line x1="223.48" y1="259.60" x2="223.48" y2="261.00" stroke="#222" stroke-width="0.9"/>
<line x1="231.66" y1="259.60" x2="231.66" y2="261.00" stroke="#222" stroke-width="0.9"/>
<line x1="239.84" y1="259.60" x2="239.84" y2="261.00" stroke="#222" stroke-width="0.9"/>
<line x1="248.02" y1="259.60" x2="248.02" y2="261.00" stroke="#222" stroke-width="0.9"/>
<line x1="256.20" y1="259.60" x2="256.20" y2="262.10" stroke="#222" stroke-width="0.9"/>
<line x1="264.38" y1="259.60" x2="264.38" y2="261.00" stroke="#222" stroke-width="0.9"/>
<line x1="272.56" y1="259.60" x2="272.56" y2="261.00" stroke="#222" stroke-width="0.9"/>
<line x1="280.74" y1="259.60" x2="280.74" y2="261.00" stroke="#222" stroke-width="0.9"/>
<line x1="288.92" y1="259.60" x2="288.92" y2="261.00" stroke="#222" stroke-width="0.9"/>
<line x1="297.10" y1="259.60" x2="297.10" y2="262.10" stroke="#222" stroke-width="0.9"/>
<line x1="305.28" y1="259.60" x2="305.28" y2="261.00" stroke="#222" stroke-width="0.9"/>
<line x1="313.46" y1="259.60" x2="313.46" y2="261.00" stroke="#222" stroke-width="0.9"/>
<line x1="321.64" y1="259.60" x2="321.64" y2="261.00" stroke="#222" stroke-width="0.9"/>
<line x1="329.82" y1="259.60" x2="329.82" y2="261.00" stroke="#222" stroke-width="0.9"/>
<line x1="338.00" y1="259.60" x2="338.00" y2="262.10" stroke="#222" stroke-width="0.9"/>
<text x="215.3" y="272.5" font-size="8.3" fill="#333" text-anchor="middle">0</text>
<text x="256.2" y="272.5" font-size="8.3" fill="#333" text-anchor="middle">5</text>
<text x="297.1" y="272.5" font-size="8.3" fill="#333" text-anchor="middle">10</text>
<text x="338.0" y="272.5" font-size="8.3" fill="#333" text-anchor="middle">15</text>
<text transform="translate(171.8,218.0) rotate(-90)" x="0" y="0" font-size="10.4" fill="#333" text-anchor="middle" textLength="72" lengthAdjust="spacingAndGlyphs" stroke="#333" stroke-width="0.22">Platelet accumulation</text>
<text transform="translate(182.0,218.0) rotate(-90)" x="0" y="0" font-size="10.4" fill="#333" text-anchor="middle" textLength="42" lengthAdjust="spacingAndGlyphs" stroke="#333" stroke-width="0.22">(α-GPIX SFI)</text>
<line x1="216.50" y1="255.63" x2="216.50" y2="259.60" stroke="#eceaf6" stroke-width="1"/>
<line x1="215.50" y1="255.63" x2="215.50" y2="259.60" stroke="#b3b0dc" stroke-width="1.0" opacity="1"/>
<line x1="219.50" y1="244.30" x2="219.50" y2="256.58" stroke="#eceaf6" stroke-width="1"/>
<line x1="218.50" y1="244.30" x2="218.50" y2="256.58" stroke="#b3b0dc" stroke-width="1.0" opacity="1"/>
<line x1="221.50" y1="234.25" x2="221.50" y2="251.57" stroke="#eceaf6" stroke-width="1"/>
<line x1="220.50" y1="234.25" x2="220.50" y2="251.57" stroke="#b3b0dc" stroke-width="1.0" opacity="1"/>
<line x1="223.50" y1="227.84" x2="223.50" y2="247.73" stroke="#eceaf6" stroke-width="1"/>
<line x1="222.50" y1="227.84" x2="222.50" y2="247.73" stroke="#b3b0dc" stroke-width="1.0" opacity="1"/>
<line x1="226.50" y1="222.65" x2="226.50" y2="245.12" stroke="#eceaf6" stroke-width="1"/>
<line x1="225.50" y1="222.65" x2="225.50" y2="245.12" stroke="#b3b0dc" stroke-width="1.0" opacity="1"/>
<line x1="228.50" y1="218.43" x2="228.50" y2="243.48" stroke="#eceaf6" stroke-width="1"/>
<line x1="227.50" y1="218.43" x2="227.50" y2="243.48" stroke="#b3b0dc" stroke-width="1.0" opacity="1"/>
<line x1="230.50" y1="218.00" x2="230.50" y2="243.01" stroke="#eceaf6" stroke-width="1"/>
<line x1="229.50" y1="218.00" x2="229.50" y2="243.01" stroke="#b3b0dc" stroke-width="1.0" opacity="1"/>
<line x1="233.50" y1="217.23" x2="233.50" y2="242.20" stroke="#eceaf6" stroke-width="1"/>
<line x1="232.50" y1="217.23" x2="232.50" y2="242.20" stroke="#b3b0dc" stroke-width="1.0" opacity="1"/>
<line x1="235.50" y1="216.94" x2="235.50" y2="241.87" stroke="#eceaf6" stroke-width="1"/>
<line x1="234.50" y1="216.94" x2="234.50" y2="241.87" stroke="#b3b0dc" stroke-width="1.0" opacity="1"/>
<line x1="238.50" y1="217.33" x2="238.50" y2="242.22" stroke="#eceaf6" stroke-width="1"/>
<line x1="237.50" y1="217.33" x2="237.50" y2="242.22" stroke="#b3b0dc" stroke-width="1.0" opacity="1"/>
<line x1="240.50" y1="217.69" x2="240.50" y2="242.55" stroke="#eceaf6" stroke-width="1"/>
<line x1="239.50" y1="217.69" x2="239.50" y2="242.55" stroke="#b3b0dc" stroke-width="1.0" opacity="1"/>
<line x1="242.50" y1="218.20" x2="242.50" y2="243.02" stroke="#eceaf6" stroke-width="1"/>
<line x1="241.50" y1="218.20" x2="241.50" y2="243.02" stroke="#b3b0dc" stroke-width="1.0" opacity="1"/>
<line x1="245.50" y1="218.16" x2="245.50" y2="242.94" stroke="#eceaf6" stroke-width="1"/>
<line x1="244.50" y1="218.16" x2="244.50" y2="242.94" stroke="#b3b0dc" stroke-width="1.0" opacity="1"/>
<line x1="247.50" y1="218.35" x2="247.50" y2="243.09" stroke="#eceaf6" stroke-width="1"/>
<line x1="246.50" y1="218.35" x2="246.50" y2="243.09" stroke="#b3b0dc" stroke-width="1.0" opacity="1"/>
<line x1="249.50" y1="218.54" x2="249.50" y2="243.25" stroke="#eceaf6" stroke-width="1"/>
<line x1="248.50" y1="218.54" x2="248.50" y2="243.25" stroke="#b3b0dc" stroke-width="1.0" opacity="1"/>
<line x1="252.50" y1="219.02" x2="252.50" y2="243.69" stroke="#eceaf6" stroke-width="1"/>
<line x1="251.50" y1="219.02" x2="251.50" y2="243.69" stroke="#b3b0dc" stroke-width="1.0" opacity="1"/>
<line x1="254.50" y1="218.94" x2="254.50" y2="243.56" stroke="#eceaf6" stroke-width="1"/>
<line x1="253.50" y1="218.94" x2="253.50" y2="243.56" stroke="#b3b0dc" stroke-width="1.0" opacity="1"/>
<line x1="257.50" y1="219.10" x2="257.50" y2="243.69" stroke="#eceaf6" stroke-width="1"/>
<line x1="256.50" y1="219.10" x2="256.50" y2="243.69" stroke="#b3b0dc" stroke-width="1.0" opacity="1"/>
<line x1="259.50" y1="218.97" x2="259.50" y2="243.52" stroke="#eceaf6" stroke-width="1"/>
<line x1="258.50" y1="218.97" x2="258.50" y2="243.52" stroke="#b3b0dc" stroke-width="1.0" opacity="1"/>
<line x1="261.50" y1="218.89" x2="261.50" y2="243.40" stroke="#eceaf6" stroke-width="1"/>
<line x1="260.50" y1="218.89" x2="260.50" y2="243.40" stroke="#b3b0dc" stroke-width="1.0" opacity="1"/>
<line x1="264.50" y1="219.06" x2="264.50" y2="243.54" stroke="#eceaf6" stroke-width="1"/>
<line x1="263.50" y1="219.06" x2="263.50" y2="243.54" stroke="#b3b0dc" stroke-width="1.0" opacity="1"/>
<line x1="266.50" y1="219.53" x2="266.50" y2="243.96" stroke="#eceaf6" stroke-width="1"/>
<line x1="265.50" y1="219.53" x2="265.50" y2="243.96" stroke="#b3b0dc" stroke-width="1.0" opacity="1"/>
<line x1="268.50" y1="219.74" x2="268.50" y2="244.14" stroke="#eceaf6" stroke-width="1"/>
<line x1="267.50" y1="219.74" x2="267.50" y2="244.14" stroke="#b3b0dc" stroke-width="1.0" opacity="1"/>
<line x1="271.50" y1="220.02" x2="271.50" y2="244.38" stroke="#eceaf6" stroke-width="1"/>
<line x1="270.50" y1="220.02" x2="270.50" y2="244.38" stroke="#b3b0dc" stroke-width="1.0" opacity="1"/>
<line x1="273.50" y1="220.35" x2="273.50" y2="244.67" stroke="#eceaf6" stroke-width="1"/>
<line x1="272.50" y1="220.35" x2="272.50" y2="244.67" stroke="#b3b0dc" stroke-width="1.0" opacity="1"/>
<line x1="276.50" y1="220.49" x2="276.50" y2="244.77" stroke="#eceaf6" stroke-width="1"/>
<line x1="275.50" y1="220.49" x2="275.50" y2="244.77" stroke="#b3b0dc" stroke-width="1.0" opacity="1"/>
<line x1="278.50" y1="220.27" x2="278.50" y2="244.52" stroke="#eceaf6" stroke-width="1"/>
<line x1="277.50" y1="220.27" x2="277.50" y2="244.52" stroke="#b3b0dc" stroke-width="1.0" opacity="1"/>
<line x1="280.50" y1="220.53" x2="280.50" y2="244.73" stroke="#eceaf6" stroke-width="1"/>
<line x1="279.50" y1="220.53" x2="279.50" y2="244.73" stroke="#b3b0dc" stroke-width="1.0" opacity="1"/>
<line x1="283.50" y1="220.62" x2="283.50" y2="244.78" stroke="#eceaf6" stroke-width="1"/>
<line x1="282.50" y1="220.62" x2="282.50" y2="244.78" stroke="#b3b0dc" stroke-width="1.0" opacity="1"/>
<line x1="285.50" y1="220.34" x2="285.50" y2="244.46" stroke="#eceaf6" stroke-width="1"/>
<line x1="284.50" y1="220.34" x2="284.50" y2="244.46" stroke="#b3b0dc" stroke-width="1.0" opacity="1"/>
<line x1="287.50" y1="220.77" x2="287.50" y2="244.86" stroke="#eceaf6" stroke-width="1"/>
<line x1="286.50" y1="220.77" x2="286.50" y2="244.86" stroke="#b3b0dc" stroke-width="1.0" opacity="1"/>
<line x1="290.50" y1="220.88" x2="290.50" y2="244.93" stroke="#eceaf6" stroke-width="1"/>
<line x1="289.50" y1="220.88" x2="289.50" y2="244.93" stroke="#b3b0dc" stroke-width="1.0" opacity="1"/>
<line x1="292.50" y1="221.28" x2="292.50" y2="245.29" stroke="#eceaf6" stroke-width="1"/>
<line x1="291.50" y1="221.28" x2="291.50" y2="245.29" stroke="#b3b0dc" stroke-width="1.0" opacity="1"/>
<line x1="294.50" y1="221.58" x2="294.50" y2="245.56" stroke="#eceaf6" stroke-width="1"/>
<line x1="293.50" y1="221.58" x2="293.50" y2="245.56" stroke="#b3b0dc" stroke-width="1.0" opacity="1"/>
<line x1="297.50" y1="221.48" x2="297.50" y2="245.41" stroke="#eceaf6" stroke-width="1"/>
<line x1="296.50" y1="221.48" x2="296.50" y2="245.41" stroke="#b3b0dc" stroke-width="1.0" opacity="1"/>
<line x1="299.50" y1="221.89" x2="299.50" y2="245.78" stroke="#eceaf6" stroke-width="1"/>
<line x1="298.50" y1="221.89" x2="298.50" y2="245.78" stroke="#b3b0dc" stroke-width="1.0" opacity="1"/>
<line x1="302.50" y1="221.90" x2="302.50" y2="245.76" stroke="#eceaf6" stroke-width="1"/>
<line x1="301.50" y1="221.90" x2="301.50" y2="245.76" stroke="#b3b0dc" stroke-width="1.0" opacity="1"/>
<line x1="304.50" y1="221.82" x2="304.50" y2="245.63" stroke="#eceaf6" stroke-width="1"/>
<line x1="303.50" y1="221.82" x2="303.50" y2="245.63" stroke="#b3b0dc" stroke-width="1.0" opacity="1"/>
<line x1="306.50" y1="222.60" x2="306.50" y2="246.38" stroke="#eceaf6" stroke-width="1"/>
<line x1="305.50" y1="222.60" x2="305.50" y2="246.38" stroke="#b3b0dc" stroke-width="1.0" opacity="1"/>
<line x1="309.50" y1="224.19" x2="309.50" y2="247.93" stroke="#eceaf6" stroke-width="1"/>
<line x1="308.50" y1="224.19" x2="308.50" y2="247.93" stroke="#b3b0dc" stroke-width="1.0" opacity="1"/>
<line x1="311.50" y1="223.78" x2="311.50" y2="247.48" stroke="#eceaf6" stroke-width="1"/>
<line x1="310.50" y1="223.78" x2="310.50" y2="247.48" stroke="#b3b0dc" stroke-width="1.0" opacity="1"/>
<line x1="313.50" y1="223.05" x2="313.50" y2="246.72" stroke="#eceaf6" stroke-width="1"/>
<line x1="312.50" y1="223.05" x2="312.50" y2="246.72" stroke="#b3b0dc" stroke-width="1.0" opacity="1"/>
<line x1="316.50" y1="223.09" x2="316.50" y2="246.72" stroke="#eceaf6" stroke-width="1"/>
<line x1="315.50" y1="223.09" x2="315.50" y2="246.72" stroke="#b3b0dc" stroke-width="1.0" opacity="1"/>
<line x1="318.50" y1="223.14" x2="318.50" y2="246.73" stroke="#eceaf6" stroke-width="1"/>
<line x1="317.50" y1="223.14" x2="317.50" y2="246.73" stroke="#b3b0dc" stroke-width="1.0" opacity="1"/>
<line x1="321.50" y1="223.45" x2="321.50" y2="247.00" stroke="#eceaf6" stroke-width="1"/>
<line x1="320.50" y1="223.45" x2="320.50" y2="247.00" stroke="#b3b0dc" stroke-width="1.0" opacity="1"/>
<line x1="323.50" y1="223.62" x2="323.50" y2="247.13" stroke="#eceaf6" stroke-width="1"/>
<line x1="322.50" y1="223.62" x2="322.50" y2="247.13" stroke="#b3b0dc" stroke-width="1.0" opacity="1"/>
<line x1="325.50" y1="224.16" x2="325.50" y2="247.64" stroke="#eceaf6" stroke-width="1"/>
<line x1="324.50" y1="224.16" x2="324.50" y2="247.64" stroke="#b3b0dc" stroke-width="1.0" opacity="1"/>
<line x1="328.50" y1="223.85" x2="328.50" y2="247.28" stroke="#eceaf6" stroke-width="1"/>
<line x1="327.50" y1="223.85" x2="327.50" y2="247.28" stroke="#b3b0dc" stroke-width="1.0" opacity="1"/>
<path d="M215.71 258.25 L218.08 250.44 L220.45 242.91 L222.83 237.78 L225.20 233.88 L227.57 230.96 L229.94 230.51 L232.31 229.72 L234.69 229.40 L237.06 229.78 L239.43 230.12 L241.80 230.61 L244.18 230.55 L246.55 230.72 L248.92 230.89 L251.29 231.35 L253.66 231.25 L256.04 231.40 L258.41 231.25 L260.78 231.15 L263.15 231.30 L265.53 231.74 L267.90 231.94 L270.27 232.20 L272.64 232.51 L275.01 232.63 L277.39 232.39 L279.76 232.63 L282.13 232.70 L284.50 232.40 L286.88 232.81 L289.25 232.90 L291.62 233.28 L293.99 233.57 L296.36 233.44 L298.74 233.84 L301.11 233.83 L303.48 233.72 L305.85 234.49 L308.22 236.06 L310.60 235.63 L312.97 234.89 L315.34 234.90 L317.71 234.94 L320.09 235.22 L322.46 235.38 L324.83 235.90 L327.20 235.57" fill="none" stroke="#8a86cf" stroke-width="1.0" stroke-linejoin="round"/>
<line x1="216.50" y1="254.47" x2="216.50" y2="259.60" stroke="#f9e3ee" stroke-width="1"/>
<line x1="215.50" y1="254.47" x2="215.50" y2="259.60" stroke="#ea88bc" stroke-width="1.0" opacity="1"/>
<line x1="219.50" y1="240.56" x2="219.50" y2="251.17" stroke="#f9e3ee" stroke-width="1"/>
<line x1="218.50" y1="240.56" x2="218.50" y2="251.17" stroke="#ea88bc" stroke-width="1.0" opacity="1"/>
<line x1="221.50" y1="224.98" x2="221.50" y2="244.23" stroke="#f9e3ee" stroke-width="1"/>
<line x1="220.50" y1="224.98" x2="220.50" y2="244.23" stroke="#ea88bc" stroke-width="1.0" opacity="1"/>
<line x1="223.50" y1="216.20" x2="223.50" y2="238.36" stroke="#f9e3ee" stroke-width="1"/>
<line x1="222.50" y1="216.20" x2="222.50" y2="238.36" stroke="#ea88bc" stroke-width="1.0" opacity="1"/>
<line x1="226.50" y1="210.55" x2="226.50" y2="234.16" stroke="#f9e3ee" stroke-width="1"/>
<line x1="225.50" y1="210.55" x2="225.50" y2="234.16" stroke="#ea88bc" stroke-width="1.0" opacity="1"/>
<line x1="228.50" y1="202.84" x2="228.50" y2="233.57" stroke="#f9e3ee" stroke-width="1"/>
<line x1="227.50" y1="202.84" x2="227.50" y2="233.57" stroke="#ea88bc" stroke-width="1.0" opacity="1"/>
<line x1="230.50" y1="203.03" x2="230.50" y2="231.00" stroke="#f9e3ee" stroke-width="1"/>
<line x1="229.50" y1="203.03" x2="229.50" y2="231.00" stroke="#ea88bc" stroke-width="1.0" opacity="1"/>
<line x1="233.50" y1="203.07" x2="233.50" y2="229.75" stroke="#f9e3ee" stroke-width="1"/>
<line x1="232.50" y1="203.07" x2="232.50" y2="229.75" stroke="#ea88bc" stroke-width="1.0" opacity="1"/>
<line x1="235.50" y1="204.91" x2="235.50" y2="226.14" stroke="#f9e3ee" stroke-width="1"/>
<line x1="234.50" y1="204.91" x2="234.50" y2="226.14" stroke="#ea88bc" stroke-width="1.0" opacity="1"/>
<line x1="238.50" y1="205.02" x2="238.50" y2="228.40" stroke="#f9e3ee" stroke-width="1"/>
<line x1="237.50" y1="205.02" x2="237.50" y2="228.40" stroke="#ea88bc" stroke-width="1.0" opacity="1"/>
<line x1="240.50" y1="208.45" x2="240.50" y2="226.80" stroke="#f9e3ee" stroke-width="1"/>
<line x1="239.50" y1="208.45" x2="239.50" y2="226.80" stroke="#ea88bc" stroke-width="1.0" opacity="1"/>
<line x1="242.50" y1="211.58" x2="242.50" y2="227.63" stroke="#f9e3ee" stroke-width="1"/>
<line x1="241.50" y1="211.58" x2="241.50" y2="227.63" stroke="#ea88bc" stroke-width="1.0" opacity="1"/>
<line x1="245.50" y1="212.91" x2="245.50" y2="226.89" stroke="#f9e3ee" stroke-width="1"/>
<line x1="244.50" y1="212.91" x2="244.50" y2="226.89" stroke="#ea88bc" stroke-width="1.0" opacity="1"/>
<line x1="247.50" y1="212.86" x2="247.50" y2="226.50" stroke="#f9e3ee" stroke-width="1"/>
<line x1="246.50" y1="212.86" x2="246.50" y2="226.50" stroke="#ea88bc" stroke-width="1.0" opacity="1"/>
<line x1="249.50" y1="213.41" x2="249.50" y2="226.27" stroke="#f9e3ee" stroke-width="1"/>
<line x1="248.50" y1="213.41" x2="248.50" y2="226.27" stroke="#ea88bc" stroke-width="1.0" opacity="1"/>
<line x1="252.50" y1="213.06" x2="252.50" y2="226.93" stroke="#f9e3ee" stroke-width="1"/>
<line x1="251.50" y1="213.06" x2="251.50" y2="226.93" stroke="#ea88bc" stroke-width="1.0" opacity="1"/>
<line x1="254.50" y1="215.07" x2="254.50" y2="226.85" stroke="#f9e3ee" stroke-width="1"/>
<line x1="253.50" y1="215.07" x2="253.50" y2="226.85" stroke="#ea88bc" stroke-width="1.0" opacity="1"/>
<line x1="257.50" y1="215.48" x2="257.50" y2="226.44" stroke="#f9e3ee" stroke-width="1"/>
<line x1="256.50" y1="215.48" x2="256.50" y2="226.44" stroke="#ea88bc" stroke-width="1.0" opacity="1"/>
<line x1="259.50" y1="217.22" x2="259.50" y2="226.48" stroke="#f9e3ee" stroke-width="1"/>
<line x1="258.50" y1="217.22" x2="258.50" y2="226.48" stroke="#ea88bc" stroke-width="1.0" opacity="1"/>
<line x1="261.50" y1="215.73" x2="261.50" y2="228.03" stroke="#f9e3ee" stroke-width="1"/>
<line x1="260.50" y1="215.73" x2="260.50" y2="228.03" stroke="#ea88bc" stroke-width="1.0" opacity="1"/>
<line x1="264.50" y1="217.71" x2="264.50" y2="226.39" stroke="#f9e3ee" stroke-width="1"/>
<line x1="263.50" y1="217.71" x2="263.50" y2="226.39" stroke="#ea88bc" stroke-width="1.0" opacity="1"/>
<line x1="266.50" y1="216.22" x2="266.50" y2="227.61" stroke="#f9e3ee" stroke-width="1"/>
<line x1="265.50" y1="216.22" x2="265.50" y2="227.61" stroke="#ea88bc" stroke-width="1.0" opacity="1"/>
<line x1="268.50" y1="217.20" x2="268.50" y2="226.35" stroke="#f9e3ee" stroke-width="1"/>
<line x1="267.50" y1="217.20" x2="267.50" y2="226.35" stroke="#ea88bc" stroke-width="1.0" opacity="1"/>
<line x1="271.50" y1="217.74" x2="271.50" y2="226.33" stroke="#f9e3ee" stroke-width="1"/>
<line x1="270.50" y1="217.74" x2="270.50" y2="226.33" stroke="#ea88bc" stroke-width="1.0" opacity="1"/>
<line x1="273.50" y1="217.46" x2="273.50" y2="226.93" stroke="#f9e3ee" stroke-width="1"/>
<line x1="272.50" y1="217.46" x2="272.50" y2="226.93" stroke="#ea88bc" stroke-width="1.0" opacity="1"/>
<line x1="276.50" y1="217.14" x2="276.50" y2="229.10" stroke="#f9e3ee" stroke-width="1"/>
<line x1="275.50" y1="217.14" x2="275.50" y2="229.10" stroke="#ea88bc" stroke-width="1.0" opacity="1"/>
<line x1="278.50" y1="218.31" x2="278.50" y2="228.78" stroke="#f9e3ee" stroke-width="1"/>
<line x1="277.50" y1="218.31" x2="277.50" y2="228.78" stroke="#ea88bc" stroke-width="1.0" opacity="1"/>
<line x1="280.50" y1="217.92" x2="280.50" y2="227.23" stroke="#f9e3ee" stroke-width="1"/>
<line x1="279.50" y1="217.92" x2="279.50" y2="227.23" stroke="#ea88bc" stroke-width="1.0" opacity="1"/>
<line x1="283.50" y1="217.84" x2="283.50" y2="229.78" stroke="#f9e3ee" stroke-width="1"/>
<line x1="282.50" y1="217.84" x2="282.50" y2="229.78" stroke="#ea88bc" stroke-width="1.0" opacity="1"/>
<line x1="285.50" y1="218.02" x2="285.50" y2="229.26" stroke="#f9e3ee" stroke-width="1"/>
<line x1="284.50" y1="218.02" x2="284.50" y2="229.26" stroke="#ea88bc" stroke-width="1.0" opacity="1"/>
<line x1="287.50" y1="219.57" x2="287.50" y2="229.33" stroke="#f9e3ee" stroke-width="1"/>
<line x1="286.50" y1="219.57" x2="286.50" y2="229.33" stroke="#ea88bc" stroke-width="1.0" opacity="1"/>
<line x1="290.50" y1="218.88" x2="290.50" y2="229.91" stroke="#f9e3ee" stroke-width="1"/>
<line x1="289.50" y1="218.88" x2="289.50" y2="229.91" stroke="#ea88bc" stroke-width="1.0" opacity="1"/>
<line x1="292.50" y1="218.57" x2="292.50" y2="230.74" stroke="#f9e3ee" stroke-width="1"/>
<line x1="291.50" y1="218.57" x2="291.50" y2="230.74" stroke="#ea88bc" stroke-width="1.0" opacity="1"/>
<line x1="294.50" y1="219.25" x2="294.50" y2="230.48" stroke="#f9e3ee" stroke-width="1"/>
<line x1="293.50" y1="219.25" x2="293.50" y2="230.48" stroke="#ea88bc" stroke-width="1.0" opacity="1"/>
<line x1="297.50" y1="220.35" x2="297.50" y2="229.62" stroke="#f9e3ee" stroke-width="1"/>
<line x1="296.50" y1="220.35" x2="296.50" y2="229.62" stroke="#ea88bc" stroke-width="1.0" opacity="1"/>
<line x1="299.50" y1="219.44" x2="299.50" y2="228.29" stroke="#f9e3ee" stroke-width="1"/>
<line x1="298.50" y1="219.44" x2="298.50" y2="228.29" stroke="#ea88bc" stroke-width="1.0" opacity="1"/>
<line x1="302.50" y1="219.54" x2="302.50" y2="230.58" stroke="#f9e3ee" stroke-width="1"/>
<line x1="301.50" y1="219.54" x2="301.50" y2="230.58" stroke="#ea88bc" stroke-width="1.0" opacity="1"/>
<line x1="304.50" y1="220.73" x2="304.50" y2="229.09" stroke="#f9e3ee" stroke-width="1"/>
<line x1="303.50" y1="220.73" x2="303.50" y2="229.09" stroke="#ea88bc" stroke-width="1.0" opacity="1"/>
<line x1="306.50" y1="219.67" x2="306.50" y2="228.46" stroke="#f9e3ee" stroke-width="1"/>
<line x1="305.50" y1="219.67" x2="305.50" y2="228.46" stroke="#ea88bc" stroke-width="1.0" opacity="1"/>
<line x1="309.50" y1="220.82" x2="309.50" y2="230.39" stroke="#f9e3ee" stroke-width="1"/>
<line x1="308.50" y1="220.82" x2="308.50" y2="230.39" stroke="#ea88bc" stroke-width="1.0" opacity="1"/>
<line x1="311.50" y1="219.08" x2="311.50" y2="230.26" stroke="#f9e3ee" stroke-width="1"/>
<line x1="310.50" y1="219.08" x2="310.50" y2="230.26" stroke="#ea88bc" stroke-width="1.0" opacity="1"/>
<line x1="313.50" y1="220.72" x2="313.50" y2="230.24" stroke="#f9e3ee" stroke-width="1"/>
<line x1="312.50" y1="220.72" x2="312.50" y2="230.24" stroke="#ea88bc" stroke-width="1.0" opacity="1"/>
<line x1="316.50" y1="220.73" x2="316.50" y2="230.69" stroke="#f9e3ee" stroke-width="1"/>
<line x1="315.50" y1="220.73" x2="315.50" y2="230.69" stroke="#ea88bc" stroke-width="1.0" opacity="1"/>
<line x1="318.50" y1="219.07" x2="318.50" y2="230.20" stroke="#f9e3ee" stroke-width="1"/>
<line x1="317.50" y1="219.07" x2="317.50" y2="230.20" stroke="#ea88bc" stroke-width="1.0" opacity="1"/>
<line x1="321.50" y1="218.94" x2="321.50" y2="230.12" stroke="#f9e3ee" stroke-width="1"/>
<line x1="320.50" y1="218.94" x2="320.50" y2="230.12" stroke="#ea88bc" stroke-width="1.0" opacity="1"/>
<line x1="323.50" y1="219.25" x2="323.50" y2="230.21" stroke="#f9e3ee" stroke-width="1"/>
<line x1="322.50" y1="219.25" x2="322.50" y2="230.21" stroke="#ea88bc" stroke-width="1.0" opacity="1"/>
<line x1="325.50" y1="221.03" x2="325.50" y2="230.03" stroke="#f9e3ee" stroke-width="1"/>
<line x1="324.50" y1="221.03" x2="324.50" y2="230.03" stroke="#ea88bc" stroke-width="1.0" opacity="1"/>
<line x1="328.50" y1="220.71" x2="328.50" y2="230.07" stroke="#f9e3ee" stroke-width="1"/>
<line x1="327.50" y1="220.71" x2="327.50" y2="230.07" stroke="#ea88bc" stroke-width="1.0" opacity="1"/>
<path d="M215.71 257.58 L218.08 245.86 L220.45 234.60 L222.83 227.28 L225.20 222.35 L227.57 218.21 L229.94 217.02 L232.31 216.41 L234.69 215.52 L237.06 216.71 L239.43 217.63 L241.80 219.61 L244.18 219.90 L246.55 219.68 L248.92 219.84 L251.29 220.00 L253.66 220.96 L256.04 220.96 L258.41 221.85 L260.78 221.88 L263.15 222.05 L265.53 221.91 L267.90 221.77 L270.27 222.04 L272.64 222.19 L275.01 223.12 L277.39 223.54 L279.76 222.57 L282.13 223.81 L284.50 223.64 L286.88 224.45 L289.25 224.39 L291.62 224.65 L293.99 224.86 L296.36 224.99 L298.74 223.86 L301.11 225.06 L303.48 224.91 L305.85 224.06 L308.22 225.61 L310.60 224.67 L312.97 225.48 L315.34 225.71 L317.71 224.64 L320.09 224.53 L322.46 224.73 L324.83 225.53 L327.20 225.39" fill="none" stroke="#d02c7c" stroke-width="1.3" stroke-linejoin="round"/>
<path d="M332.2 221.3 H344.4 V248.6 H332.2" fill="none" stroke="#333" stroke-width="1.1"/>
<text transform="translate(349.09999999999997,235) rotate(90)" x="0" y="0" font-size="8.4" fill="#333" text-anchor="middle">ns</text>
<text x="279.4" y="285.5" font-size="9.5" fill="#333" text-anchor="middle" textLength="50.5" lengthAdjust="spacingAndGlyphs" stroke="#333" stroke-width="0.2">Time (minutes)</text>
<line x1="215.30" y1="311.40" x2="215.30" y2="399.20" stroke="#222" stroke-width="1.1"/>
<line x1="214.80" y1="398.60" x2="341.40" y2="398.60" stroke="#222" stroke-width="1.1"/>
<line x1="212.30" y1="398.60" x2="215.30" y2="398.60" stroke="#222" stroke-width="1"/>
<text x="209.1" y="401.0" font-size="8.5" fill="#333" text-anchor="end">0</text>
<line x1="212.30" y1="381.80" x2="215.30" y2="381.80" stroke="#222" stroke-width="1"/>
<text x="209.1" y="384.2" font-size="8.5" fill="#333" text-anchor="end">100</text>
<line x1="212.30" y1="365.00" x2="215.30" y2="365.00" stroke="#222" stroke-width="1"/>
<text x="209.1" y="367.4" font-size="8.5" fill="#333" text-anchor="end">200</text>
<line x1="212.30" y1="348.20" x2="215.30" y2="348.20" stroke="#222" stroke-width="1"/>
<text x="209.1" y="350.6" font-size="8.5" fill="#333" text-anchor="end">300</text>
<line x1="212.30" y1="331.40" x2="215.30" y2="331.40" stroke="#222" stroke-width="1"/>
<text x="209.1" y="333.8" font-size="8.5" fill="#333" text-anchor="end">400</text>
<line x1="212.30" y1="314.60" x2="215.30" y2="314.60" stroke="#222" stroke-width="1"/>
<text x="209.1" y="317.0" font-size="8.5" fill="#333" text-anchor="end">500</text>
<line x1="215.30" y1="398.60" x2="215.30" y2="401.10" stroke="#222" stroke-width="0.9"/>
<line x1="223.48" y1="398.60" x2="223.48" y2="400.00" stroke="#222" stroke-width="0.9"/>
<line x1="231.66" y1="398.60" x2="231.66" y2="400.00" stroke="#222" stroke-width="0.9"/>
<line x1="239.84" y1="398.60" x2="239.84" y2="400.00" stroke="#222" stroke-width="0.9"/>
<line x1="248.02" y1="398.60" x2="248.02" y2="400.00" stroke="#222" stroke-width="0.9"/>
<line x1="256.20" y1="398.60" x2="256.20" y2="401.10" stroke="#222" stroke-width="0.9"/>
<line x1="264.38" y1="398.60" x2="264.38" y2="400.00" stroke="#222" stroke-width="0.9"/>
<line x1="272.56" y1="398.60" x2="272.56" y2="400.00" stroke="#222" stroke-width="0.9"/>
<line x1="280.74" y1="398.60" x2="280.74" y2="400.00" stroke="#222" stroke-width="0.9"/>
<line x1="288.92" y1="398.60" x2="288.92" y2="400.00" stroke="#222" stroke-width="0.9"/>
<line x1="297.10" y1="398.60" x2="297.10" y2="401.10" stroke="#222" stroke-width="0.9"/>
<line x1="305.28" y1="398.60" x2="305.28" y2="400.00" stroke="#222" stroke-width="0.9"/>
<line x1="313.46" y1="398.60" x2="313.46" y2="400.00" stroke="#222" stroke-width="0.9"/>
<line x1="321.64" y1="398.60" x2="321.64" y2="400.00" stroke="#222" stroke-width="0.9"/>
<line x1="329.82" y1="398.60" x2="329.82" y2="400.00" stroke="#222" stroke-width="0.9"/>
<line x1="338.00" y1="398.60" x2="338.00" y2="401.10" stroke="#222" stroke-width="0.9"/>
<text x="215.3" y="411.5" font-size="8.3" fill="#333" text-anchor="middle">0</text>
<text x="256.2" y="411.5" font-size="8.3" fill="#333" text-anchor="middle">5</text>
<text x="297.1" y="411.5" font-size="8.3" fill="#333" text-anchor="middle">10</text>
<text x="338.0" y="411.5" font-size="8.3" fill="#333" text-anchor="middle">15</text>
<text transform="translate(178.5,355) rotate(-90)" x="0" y="0" font-size="10.4" fill="#333" text-anchor="middle" textLength="41.5" lengthAdjust="spacingAndGlyphs" stroke="#333" stroke-width="0.22">Plug density</text>
<text transform="translate(190.5,355) rotate(-90)" x="0" y="0" font-size="10.4" fill="#333" text-anchor="middle" textLength="86" lengthAdjust="spacingAndGlyphs" stroke="#333" stroke-width="0.22">(α-GPIX SFI/plug volume)</text>
<line x1="216.50" y1="388.86" x2="216.50" y2="398.60" stroke="#eceaf6" stroke-width="1"/>
<line x1="215.50" y1="388.86" x2="215.50" y2="398.60" stroke="#b3b0dc" stroke-width="1.0" opacity="1"/>
<line x1="217.50" y1="333.42" x2="217.50" y2="352.90" stroke="#eceaf6" stroke-width="1"/>
<line x1="216.50" y1="333.42" x2="216.50" y2="352.90" stroke="#b3b0dc" stroke-width="1.0" opacity="1"/>
<line x1="217.50" y1="329.90" x2="217.50" y2="349.39" stroke="#eceaf6" stroke-width="1"/>
<line x1="216.50" y1="329.90" x2="216.50" y2="349.39" stroke="#b3b0dc" stroke-width="1.0" opacity="1"/>
<line x1="220.50" y1="334.80" x2="220.50" y2="354.29" stroke="#eceaf6" stroke-width="1"/>
<line x1="219.50" y1="334.80" x2="219.50" y2="354.29" stroke="#b3b0dc" stroke-width="1.0" opacity="1"/>
<line x1="222.50" y1="337.45" x2="222.50" y2="356.94" stroke="#eceaf6" stroke-width="1"/>
<line x1="221.50" y1="337.45" x2="221.50" y2="356.94" stroke="#b3b0dc" stroke-width="1.0" opacity="1"/>
<line x1="225.50" y1="339.47" x2="225.50" y2="358.96" stroke="#eceaf6" stroke-width="1"/>
<line x1="224.50" y1="339.47" x2="224.50" y2="358.96" stroke="#b3b0dc" stroke-width="1.0" opacity="1"/>
<line x1="227.50" y1="339.87" x2="227.50" y2="359.36" stroke="#eceaf6" stroke-width="1"/>
<line x1="226.50" y1="339.87" x2="226.50" y2="359.36" stroke="#b3b0dc" stroke-width="1.0" opacity="1"/>
<line x1="229.50" y1="340.01" x2="229.50" y2="359.50" stroke="#eceaf6" stroke-width="1"/>
<line x1="228.50" y1="340.01" x2="228.50" y2="359.50" stroke="#b3b0dc" stroke-width="1.0" opacity="1"/>
<line x1="230.50" y1="340.04" x2="230.50" y2="359.53" stroke="#eceaf6" stroke-width="1"/>
<line x1="229.50" y1="340.04" x2="229.50" y2="359.53" stroke="#b3b0dc" stroke-width="1.0" opacity="1"/>
<line x1="232.50" y1="340.15" x2="232.50" y2="359.63" stroke="#eceaf6" stroke-width="1"/>
<line x1="231.50" y1="340.15" x2="231.50" y2="359.63" stroke="#b3b0dc" stroke-width="1.0" opacity="1"/>
<line x1="234.50" y1="340.28" x2="234.50" y2="359.77" stroke="#eceaf6" stroke-width="1"/>
<line x1="233.50" y1="340.28" x2="233.50" y2="359.77" stroke="#b3b0dc" stroke-width="1.0" opacity="1"/>
<line x1="236.50" y1="340.42" x2="236.50" y2="359.90" stroke="#eceaf6" stroke-width="1"/>
<line x1="235.50" y1="340.42" x2="235.50" y2="359.90" stroke="#b3b0dc" stroke-width="1.0" opacity="1"/>
<line x1="239.50" y1="340.55" x2="239.50" y2="360.04" stroke="#eceaf6" stroke-width="1"/>
<line x1="238.50" y1="340.55" x2="238.50" y2="360.04" stroke="#b3b0dc" stroke-width="1.0" opacity="1"/>
<line x1="241.50" y1="340.64" x2="241.50" y2="360.13" stroke="#eceaf6" stroke-width="1"/>
<line x1="240.50" y1="340.64" x2="240.50" y2="360.13" stroke="#b3b0dc" stroke-width="1.0" opacity="1"/>
<line x1="244.50" y1="340.66" x2="244.50" y2="360.15" stroke="#eceaf6" stroke-width="1"/>
<line x1="243.50" y1="340.66" x2="243.50" y2="360.15" stroke="#b3b0dc" stroke-width="1.0" opacity="1"/>
<line x1="246.50" y1="340.67" x2="246.50" y2="360.16" stroke="#eceaf6" stroke-width="1"/>
<line x1="245.50" y1="340.67" x2="245.50" y2="360.16" stroke="#b3b0dc" stroke-width="1.0" opacity="1"/>
<line x1="248.50" y1="340.69" x2="248.50" y2="360.17" stroke="#eceaf6" stroke-width="1"/>
<line x1="247.50" y1="340.69" x2="247.50" y2="360.17" stroke="#b3b0dc" stroke-width="1.0" opacity="1"/>
<line x1="251.50" y1="340.70" x2="251.50" y2="360.19" stroke="#eceaf6" stroke-width="1"/>
<line x1="250.50" y1="340.70" x2="250.50" y2="360.19" stroke="#b3b0dc" stroke-width="1.0" opacity="1"/>
<line x1="253.50" y1="340.71" x2="253.50" y2="360.20" stroke="#eceaf6" stroke-width="1"/>
<line x1="252.50" y1="340.71" x2="252.50" y2="360.20" stroke="#b3b0dc" stroke-width="1.0" opacity="1"/>
<line x1="255.50" y1="340.73" x2="255.50" y2="360.22" stroke="#eceaf6" stroke-width="1"/>
<line x1="254.50" y1="340.73" x2="254.50" y2="360.22" stroke="#b3b0dc" stroke-width="1.0" opacity="1"/>
<line x1="258.50" y1="340.74" x2="258.50" y2="360.23" stroke="#eceaf6" stroke-width="1"/>
<line x1="257.50" y1="340.74" x2="257.50" y2="360.23" stroke="#b3b0dc" stroke-width="1.0" opacity="1"/>
<line x1="260.50" y1="340.76" x2="260.50" y2="360.24" stroke="#eceaf6" stroke-width="1"/>
<line x1="259.50" y1="340.76" x2="259.50" y2="360.24" stroke="#b3b0dc" stroke-width="1.0" opacity="1"/>
<line x1="263.50" y1="340.77" x2="263.50" y2="360.26" stroke="#eceaf6" stroke-width="1"/>
<line x1="262.50" y1="340.77" x2="262.50" y2="360.26" stroke="#b3b0dc" stroke-width="1.0" opacity="1"/>
<line x1="265.50" y1="340.78" x2="265.50" y2="360.27" stroke="#eceaf6" stroke-width="1"/>
<line x1="264.50" y1="340.78" x2="264.50" y2="360.27" stroke="#b3b0dc" stroke-width="1.0" opacity="1"/>
<line x1="267.50" y1="340.80" x2="267.50" y2="360.29" stroke="#eceaf6" stroke-width="1"/>
<line x1="266.50" y1="340.80" x2="266.50" y2="360.29" stroke="#b3b0dc" stroke-width="1.0" opacity="1"/>
<line x1="270.50" y1="340.81" x2="270.50" y2="360.30" stroke="#eceaf6" stroke-width="1"/>
<line x1="269.50" y1="340.81" x2="269.50" y2="360.30" stroke="#b3b0dc" stroke-width="1.0" opacity="1"/>
<line x1="272.50" y1="340.83" x2="272.50" y2="360.31" stroke="#eceaf6" stroke-width="1"/>
<line x1="271.50" y1="340.83" x2="271.50" y2="360.31" stroke="#b3b0dc" stroke-width="1.0" opacity="1"/>
<line x1="274.50" y1="340.84" x2="274.50" y2="360.33" stroke="#eceaf6" stroke-width="1"/>
<line x1="273.50" y1="340.84" x2="273.50" y2="360.33" stroke="#b3b0dc" stroke-width="1.0" opacity="1"/>
<line x1="277.50" y1="340.85" x2="277.50" y2="360.34" stroke="#eceaf6" stroke-width="1"/>
<line x1="276.50" y1="340.85" x2="276.50" y2="360.34" stroke="#b3b0dc" stroke-width="1.0" opacity="1"/>
<line x1="279.50" y1="340.87" x2="279.50" y2="360.36" stroke="#eceaf6" stroke-width="1"/>
<line x1="278.50" y1="340.87" x2="278.50" y2="360.36" stroke="#b3b0dc" stroke-width="1.0" opacity="1"/>
<line x1="281.50" y1="340.88" x2="281.50" y2="360.37" stroke="#eceaf6" stroke-width="1"/>
<line x1="280.50" y1="340.88" x2="280.50" y2="360.37" stroke="#b3b0dc" stroke-width="1.0" opacity="1"/>
<line x1="284.50" y1="340.90" x2="284.50" y2="360.38" stroke="#eceaf6" stroke-width="1"/>
<line x1="283.50" y1="340.90" x2="283.50" y2="360.38" stroke="#b3b0dc" stroke-width="1.0" opacity="1"/>
<line x1="286.50" y1="340.91" x2="286.50" y2="360.40" stroke="#eceaf6" stroke-width="1"/>
<line x1="285.50" y1="340.91" x2="285.50" y2="360.40" stroke="#b3b0dc" stroke-width="1.0" opacity="1"/>
<line x1="289.50" y1="340.92" x2="289.50" y2="360.41" stroke="#eceaf6" stroke-width="1"/>
<line x1="288.50" y1="340.92" x2="288.50" y2="360.41" stroke="#b3b0dc" stroke-width="1.0" opacity="1"/>
<line x1="291.50" y1="340.94" x2="291.50" y2="360.43" stroke="#eceaf6" stroke-width="1"/>
<line x1="290.50" y1="340.94" x2="290.50" y2="360.43" stroke="#b3b0dc" stroke-width="1.0" opacity="1"/>
<line x1="293.50" y1="340.95" x2="293.50" y2="360.44" stroke="#eceaf6" stroke-width="1"/>
<line x1="292.50" y1="340.95" x2="292.50" y2="360.44" stroke="#b3b0dc" stroke-width="1.0" opacity="1"/>
<line x1="296.50" y1="340.96" x2="296.50" y2="360.45" stroke="#eceaf6" stroke-width="1"/>
<line x1="295.50" y1="340.96" x2="295.50" y2="360.45" stroke="#b3b0dc" stroke-width="1.0" opacity="1"/>
<line x1="298.50" y1="340.27" x2="298.50" y2="359.76" stroke="#eceaf6" stroke-width="1"/>
<line x1="297.50" y1="340.27" x2="297.50" y2="359.76" stroke="#b3b0dc" stroke-width="1.0" opacity="1"/>
<line x1="300.50" y1="336.86" x2="300.50" y2="356.35" stroke="#eceaf6" stroke-width="1"/>
<line x1="299.50" y1="336.86" x2="299.50" y2="356.35" stroke="#b3b0dc" stroke-width="1.0" opacity="1"/>
<line x1="303.50" y1="322.16" x2="303.50" y2="354.35" stroke="#eceaf6" stroke-width="1"/>
<line x1="302.50" y1="322.16" x2="302.50" y2="354.35" stroke="#b3b0dc" stroke-width="1.0" opacity="1"/>
<line x1="305.50" y1="322.16" x2="305.50" y2="353.86" stroke="#eceaf6" stroke-width="1"/>
<line x1="304.50" y1="322.16" x2="304.50" y2="353.86" stroke="#b3b0dc" stroke-width="1.0" opacity="1"/>
<line x1="308.50" y1="322.16" x2="308.50" y2="356.33" stroke="#eceaf6" stroke-width="1"/>
<line x1="307.50" y1="322.16" x2="307.50" y2="356.33" stroke="#b3b0dc" stroke-width="1.0" opacity="1"/>
<line x1="310.50" y1="340.15" x2="310.50" y2="359.64" stroke="#eceaf6" stroke-width="1"/>
<line x1="309.50" y1="340.15" x2="309.50" y2="359.64" stroke="#b3b0dc" stroke-width="1.0" opacity="1"/>
<line x1="312.50" y1="340.64" x2="312.50" y2="360.13" stroke="#eceaf6" stroke-width="1"/>
<line x1="311.50" y1="340.64" x2="311.50" y2="360.13" stroke="#b3b0dc" stroke-width="1.0" opacity="1"/>
<line x1="315.50" y1="340.98" x2="315.50" y2="360.47" stroke="#eceaf6" stroke-width="1"/>
<line x1="314.50" y1="340.98" x2="314.50" y2="360.47" stroke="#b3b0dc" stroke-width="1.0" opacity="1"/>
<line x1="317.50" y1="341.01" x2="317.50" y2="360.50" stroke="#eceaf6" stroke-width="1"/>
<line x1="316.50" y1="341.01" x2="316.50" y2="360.50" stroke="#b3b0dc" stroke-width="1.0" opacity="1"/>
<line x1="319.50" y1="341.04" x2="319.50" y2="360.53" stroke="#eceaf6" stroke-width="1"/>
<line x1="318.50" y1="341.04" x2="318.50" y2="360.53" stroke="#b3b0dc" stroke-width="1.0" opacity="1"/>
<line x1="322.50" y1="341.07" x2="322.50" y2="360.55" stroke="#eceaf6" stroke-width="1"/>
<line x1="321.50" y1="341.07" x2="321.50" y2="360.55" stroke="#b3b0dc" stroke-width="1.0" opacity="1"/>
<line x1="324.50" y1="341.09" x2="324.50" y2="360.58" stroke="#eceaf6" stroke-width="1"/>
<line x1="323.50" y1="341.09" x2="323.50" y2="360.58" stroke="#b3b0dc" stroke-width="1.0" opacity="1"/>
<line x1="327.50" y1="341.12" x2="327.50" y2="360.61" stroke="#eceaf6" stroke-width="1"/>
<line x1="326.50" y1="341.12" x2="326.50" y2="360.61" stroke="#b3b0dc" stroke-width="1.0" opacity="1"/>
<path d="M215.30 398.60 L216.28 343.16 L216.94 339.64 L219.31 344.54 L221.68 347.19 L224.05 349.22 L226.42 349.62 L228.80 349.75 L229.37 349.79 L231.17 349.89 L233.54 350.02 L235.91 350.16 L238.29 350.30 L240.66 350.39 L243.03 350.40 L245.40 350.42 L247.77 350.43 L250.15 350.44 L252.52 350.46 L254.89 350.47 L257.26 350.49 L259.64 350.50 L262.01 350.51 L264.38 350.53 L266.75 350.54 L269.12 350.56 L271.50 350.57 L273.87 350.58 L276.24 350.60 L278.61 350.61 L280.99 350.63 L283.36 350.64 L285.73 350.65 L288.10 350.67 L290.47 350.68 L292.85 350.70 L295.22 350.71 L297.59 350.01 L299.96 346.60 L302.34 344.60 L304.71 344.12 L307.08 346.59 L309.45 349.90 L311.82 350.38 L314.20 350.73 L316.57 350.76 L318.94 350.78 L321.31 350.81 L323.69 350.84 L326.06 350.86" fill="none" stroke="#8a86cf" stroke-width="1.0" stroke-linejoin="round"/>
<line x1="217.50" y1="320.48" x2="217.50" y2="345.68" stroke="#f9e3ee" stroke-width="1"/>
<line x1="216.50" y1="320.48" x2="216.50" y2="345.68" stroke="#ea88bc" stroke-width="1.0" opacity="1"/>
<line x1="220.50" y1="337.70" x2="220.50" y2="348.33" stroke="#f9e3ee" stroke-width="1"/>
<line x1="219.50" y1="337.70" x2="219.50" y2="348.33" stroke="#ea88bc" stroke-width="1.0" opacity="1"/>
<line x1="222.50" y1="336.66" x2="222.50" y2="350.58" stroke="#f9e3ee" stroke-width="1"/>
<line x1="221.50" y1="336.66" x2="221.50" y2="350.58" stroke="#ea88bc" stroke-width="1.0" opacity="1"/>
<line x1="225.50" y1="336.95" x2="225.50" y2="348.99" stroke="#f9e3ee" stroke-width="1"/>
<line x1="224.50" y1="336.95" x2="224.50" y2="348.99" stroke="#ea88bc" stroke-width="1.0" opacity="1"/>
<line x1="227.50" y1="334.91" x2="227.50" y2="349.47" stroke="#f9e3ee" stroke-width="1"/>
<line x1="226.50" y1="334.91" x2="226.50" y2="349.47" stroke="#ea88bc" stroke-width="1.0" opacity="1"/>
<line x1="229.50" y1="333.24" x2="229.50" y2="348.04" stroke="#f9e3ee" stroke-width="1"/>
<line x1="228.50" y1="333.24" x2="228.50" y2="348.04" stroke="#ea88bc" stroke-width="1.0" opacity="1"/>
<line x1="230.50" y1="325.18" x2="230.50" y2="325.18" stroke="#f9e3ee" stroke-width="1"/>
<line x1="229.50" y1="325.18" x2="229.50" y2="325.18" stroke="#ea88bc" stroke-width="1.0" opacity="1"/>
<line x1="232.50" y1="334.35" x2="232.50" y2="343.12" stroke="#f9e3ee" stroke-width="1"/>
<line x1="231.50" y1="334.35" x2="231.50" y2="343.12" stroke="#ea88bc" stroke-width="1.0" opacity="1"/>
<line x1="234.50" y1="332.49" x2="234.50" y2="349.56" stroke="#f9e3ee" stroke-width="1"/>
<line x1="233.50" y1="332.49" x2="233.50" y2="349.56" stroke="#ea88bc" stroke-width="1.0" opacity="1"/>
<line x1="236.50" y1="334.81" x2="236.50" y2="345.39" stroke="#f9e3ee" stroke-width="1"/>
<line x1="235.50" y1="334.81" x2="235.50" y2="345.39" stroke="#ea88bc" stroke-width="1.0" opacity="1"/>
<line x1="239.50" y1="331.43" x2="239.50" y2="344.55" stroke="#f9e3ee" stroke-width="1"/>
<line x1="238.50" y1="331.43" x2="238.50" y2="344.55" stroke="#ea88bc" stroke-width="1.0" opacity="1"/>
<line x1="241.50" y1="331.69" x2="241.50" y2="344.88" stroke="#f9e3ee" stroke-width="1"/>
<line x1="240.50" y1="331.69" x2="240.50" y2="344.88" stroke="#ea88bc" stroke-width="1.0" opacity="1"/>
<line x1="244.50" y1="333.84" x2="244.50" y2="343.52" stroke="#f9e3ee" stroke-width="1"/>
<line x1="243.50" y1="333.84" x2="243.50" y2="343.52" stroke="#ea88bc" stroke-width="1.0" opacity="1"/>
<line x1="246.50" y1="329.92" x2="246.50" y2="347.32" stroke="#f9e3ee" stroke-width="1"/>
<line x1="245.50" y1="329.92" x2="245.50" y2="347.32" stroke="#ea88bc" stroke-width="1.0" opacity="1"/>
<line x1="248.50" y1="330.97" x2="248.50" y2="347.01" stroke="#f9e3ee" stroke-width="1"/>
<line x1="247.50" y1="330.97" x2="247.50" y2="347.01" stroke="#ea88bc" stroke-width="1.0" opacity="1"/>
<line x1="251.50" y1="334.29" x2="251.50" y2="343.04" stroke="#f9e3ee" stroke-width="1"/>
<line x1="250.50" y1="334.29" x2="250.50" y2="343.04" stroke="#ea88bc" stroke-width="1.0" opacity="1"/>
<line x1="253.50" y1="331.29" x2="253.50" y2="345.71" stroke="#f9e3ee" stroke-width="1"/>
<line x1="252.50" y1="331.29" x2="252.50" y2="345.71" stroke="#ea88bc" stroke-width="1.0" opacity="1"/>
<line x1="255.50" y1="335.60" x2="255.50" y2="344.00" stroke="#f9e3ee" stroke-width="1"/>
<line x1="254.50" y1="335.60" x2="254.50" y2="344.00" stroke="#ea88bc" stroke-width="1.0" opacity="1"/>
<line x1="258.50" y1="331.78" x2="258.50" y2="344.93" stroke="#f9e3ee" stroke-width="1"/>
<line x1="257.50" y1="331.78" x2="257.50" y2="344.93" stroke="#ea88bc" stroke-width="1.0" opacity="1"/>
<line x1="260.50" y1="330.06" x2="260.50" y2="347.58" stroke="#f9e3ee" stroke-width="1"/>
<line x1="259.50" y1="330.06" x2="259.50" y2="347.58" stroke="#ea88bc" stroke-width="1.0" opacity="1"/>
<line x1="263.50" y1="329.92" x2="263.50" y2="347.89" stroke="#f9e3ee" stroke-width="1"/>
<line x1="262.50" y1="329.92" x2="262.50" y2="347.89" stroke="#ea88bc" stroke-width="1.0" opacity="1"/>
<line x1="265.50" y1="331.50" x2="265.50" y2="348.17" stroke="#f9e3ee" stroke-width="1"/>
<line x1="264.50" y1="331.50" x2="264.50" y2="348.17" stroke="#ea88bc" stroke-width="1.0" opacity="1"/>
<line x1="267.50" y1="330.71" x2="267.50" y2="348.84" stroke="#f9e3ee" stroke-width="1"/>
<line x1="266.50" y1="330.71" x2="266.50" y2="348.84" stroke="#ea88bc" stroke-width="1.0" opacity="1"/>
<line x1="270.50" y1="334.12" x2="270.50" y2="343.23" stroke="#f9e3ee" stroke-width="1"/>
<line x1="269.50" y1="334.12" x2="269.50" y2="343.23" stroke="#ea88bc" stroke-width="1.0" opacity="1"/>
<line x1="272.50" y1="335.55" x2="272.50" y2="345.94" stroke="#f9e3ee" stroke-width="1"/>
<line x1="271.50" y1="335.55" x2="271.50" y2="345.94" stroke="#ea88bc" stroke-width="1.0" opacity="1"/>
<line x1="274.50" y1="332.13" x2="274.50" y2="344.89" stroke="#f9e3ee" stroke-width="1"/>
<line x1="273.50" y1="332.13" x2="273.50" y2="344.89" stroke="#ea88bc" stroke-width="1.0" opacity="1"/>
<line x1="277.50" y1="333.70" x2="277.50" y2="345.00" stroke="#f9e3ee" stroke-width="1"/>
<line x1="276.50" y1="333.70" x2="276.50" y2="345.00" stroke="#ea88bc" stroke-width="1.0" opacity="1"/>
<line x1="279.50" y1="333.49" x2="279.50" y2="345.70" stroke="#f9e3ee" stroke-width="1"/>
<line x1="278.50" y1="333.49" x2="278.50" y2="345.70" stroke="#ea88bc" stroke-width="1.0" opacity="1"/>
<line x1="281.50" y1="332.77" x2="281.50" y2="347.12" stroke="#f9e3ee" stroke-width="1"/>
<line x1="280.50" y1="332.77" x2="280.50" y2="347.12" stroke="#ea88bc" stroke-width="1.0" opacity="1"/>
<line x1="284.50" y1="330.35" x2="284.50" y2="348.14" stroke="#f9e3ee" stroke-width="1"/>
<line x1="283.50" y1="330.35" x2="283.50" y2="348.14" stroke="#ea88bc" stroke-width="1.0" opacity="1"/>
<line x1="286.50" y1="329.89" x2="286.50" y2="347.94" stroke="#f9e3ee" stroke-width="1"/>
<line x1="285.50" y1="329.89" x2="285.50" y2="347.94" stroke="#ea88bc" stroke-width="1.0" opacity="1"/>
<line x1="289.50" y1="329.01" x2="289.50" y2="347.73" stroke="#f9e3ee" stroke-width="1"/>
<line x1="288.50" y1="329.01" x2="288.50" y2="347.73" stroke="#ea88bc" stroke-width="1.0" opacity="1"/>
<line x1="291.50" y1="333.89" x2="291.50" y2="343.71" stroke="#f9e3ee" stroke-width="1"/>
<line x1="290.50" y1="333.89" x2="290.50" y2="343.71" stroke="#ea88bc" stroke-width="1.0" opacity="1"/>
<line x1="293.50" y1="329.00" x2="293.50" y2="347.44" stroke="#f9e3ee" stroke-width="1"/>
<line x1="292.50" y1="329.00" x2="292.50" y2="347.44" stroke="#ea88bc" stroke-width="1.0" opacity="1"/>
<line x1="296.50" y1="330.94" x2="296.50" y2="345.12" stroke="#f9e3ee" stroke-width="1"/>
<line x1="295.50" y1="330.94" x2="295.50" y2="345.12" stroke="#ea88bc" stroke-width="1.0" opacity="1"/>
<line x1="298.50" y1="333.30" x2="298.50" y2="343.64" stroke="#f9e3ee" stroke-width="1"/>
<line x1="297.50" y1="333.30" x2="297.50" y2="343.64" stroke="#ea88bc" stroke-width="1.0" opacity="1"/>
<line x1="300.50" y1="330.97" x2="300.50" y2="345.20" stroke="#f9e3ee" stroke-width="1"/>
<line x1="299.50" y1="330.97" x2="299.50" y2="345.20" stroke="#ea88bc" stroke-width="1.0" opacity="1"/>
<line x1="303.50" y1="335.11" x2="303.50" y2="343.85" stroke="#f9e3ee" stroke-width="1"/>
<line x1="302.50" y1="335.11" x2="302.50" y2="343.85" stroke="#ea88bc" stroke-width="1.0" opacity="1"/>
<line x1="305.50" y1="328.52" x2="305.50" y2="347.23" stroke="#f9e3ee" stroke-width="1"/>
<line x1="304.50" y1="328.52" x2="304.50" y2="347.23" stroke="#ea88bc" stroke-width="1.0" opacity="1"/>
<line x1="308.50" y1="331.53" x2="308.50" y2="348.20" stroke="#f9e3ee" stroke-width="1"/>
<line x1="307.50" y1="331.53" x2="307.50" y2="348.20" stroke="#ea88bc" stroke-width="1.0" opacity="1"/>
<line x1="310.50" y1="334.08" x2="310.50" y2="343.77" stroke="#f9e3ee" stroke-width="1"/>
<line x1="309.50" y1="334.08" x2="309.50" y2="343.77" stroke="#ea88bc" stroke-width="1.0" opacity="1"/>
<line x1="312.50" y1="331.00" x2="312.50" y2="347.33" stroke="#f9e3ee" stroke-width="1"/>
<line x1="311.50" y1="331.00" x2="311.50" y2="347.33" stroke="#ea88bc" stroke-width="1.0" opacity="1"/>
<line x1="315.50" y1="333.27" x2="315.50" y2="341.81" stroke="#f9e3ee" stroke-width="1"/>
<line x1="314.50" y1="333.27" x2="314.50" y2="341.81" stroke="#ea88bc" stroke-width="1.0" opacity="1"/>
<line x1="317.50" y1="333.89" x2="317.50" y2="342.44" stroke="#f9e3ee" stroke-width="1"/>
<line x1="316.50" y1="333.89" x2="316.50" y2="342.44" stroke="#ea88bc" stroke-width="1.0" opacity="1"/>
<line x1="319.50" y1="332.00" x2="319.50" y2="343.62" stroke="#f9e3ee" stroke-width="1"/>
<line x1="318.50" y1="332.00" x2="318.50" y2="343.62" stroke="#ea88bc" stroke-width="1.0" opacity="1"/>
<line x1="322.50" y1="328.00" x2="322.50" y2="346.61" stroke="#f9e3ee" stroke-width="1"/>
<line x1="321.50" y1="328.00" x2="321.50" y2="346.61" stroke="#ea88bc" stroke-width="1.0" opacity="1"/>
<line x1="324.50" y1="328.84" x2="324.50" y2="347.64" stroke="#f9e3ee" stroke-width="1"/>
<line x1="323.50" y1="328.84" x2="323.50" y2="347.64" stroke="#ea88bc" stroke-width="1.0" opacity="1"/>
<line x1="327.50" y1="334.25" x2="327.50" y2="343.14" stroke="#f9e3ee" stroke-width="1"/>
<line x1="326.50" y1="334.25" x2="326.50" y2="343.14" stroke="#ea88bc" stroke-width="1.0" opacity="1"/>
<path d="M216.94 341.48 L219.31 343.01 L221.68 343.62 L224.05 342.97 L226.42 342.19 L228.80 340.64 L229.37 325.18 L231.17 338.74 L233.54 341.02 L235.91 340.10 L238.29 337.99 L240.66 338.28 L243.03 338.68 L245.40 338.62 L247.77 338.99 L250.15 338.66 L252.52 338.50 L254.89 339.80 L257.26 338.36 L259.64 338.82 L262.01 338.91 L264.38 339.84 L266.75 339.77 L269.12 338.68 L271.50 340.75 L273.87 338.51 L276.24 339.35 L278.61 339.60 L280.99 339.95 L283.36 339.25 L285.73 338.91 L288.10 338.37 L290.47 338.80 L292.85 338.22 L295.22 338.03 L297.59 338.47 L299.96 338.08 L302.34 339.48 L304.71 337.88 L307.08 339.86 L309.45 338.93 L311.82 339.17 L314.20 337.54 L316.57 338.16 L318.94 337.81 L321.31 337.30 L323.69 338.24 L326.06 338.70" fill="none" stroke="#d02c7c" stroke-width="1.3" stroke-linejoin="round"/>
<path d="M333.4 329.4 H346.4 V359.6 H333.4" fill="none" stroke="#333" stroke-width="1.1"/>
<circle cx="350.4" cy="344.5" r="1.05" fill="#222"/>
<text x="279.4" y="424.4" font-size="9.5" fill="#333" text-anchor="middle" textLength="50.5" lengthAdjust="spacingAndGlyphs" stroke="#333" stroke-width="0.2">Time (minutes)</text>
<line x1="230.30" y1="437.30" x2="249.30" y2="437.30" stroke="#d64a8a" stroke-width="1.1"/>
<text x="252.5" y="439.8" font-size="8.7" fill="#333" textLength="27" lengthAdjust="spacingAndGlyphs">Control</text>
<line x1="288.00" y1="437.30" x2="306.40" y2="437.30" stroke="#a5a1d6" stroke-width="1.1"/>
<text x="309.6" y="439.8" font-size="8.7" fill="#333">TF<tspan font-size="6.3" dy="-3.6">low</tspan></text>
<line x1="60.10" y1="476.30" x2="60.10" y2="546.20" stroke="#222" stroke-width="1.1"/>
<line x1="59.60" y1="545.60" x2="165.10" y2="545.60" stroke="#222" stroke-width="1.1"/>
<line x1="57.10" y1="545.60" x2="60.10" y2="545.60" stroke="#222" stroke-width="1"/>
<text x="53.9" y="548.0" font-size="8.5" fill="#333" text-anchor="end">0</text>
<line x1="57.10" y1="528.92" x2="60.10" y2="528.92" stroke="#222" stroke-width="1"/>
<text x="53.9" y="531.3" font-size="8.5" fill="#333" text-anchor="end">2×10<tspan font-size="6.3" dy="-3.5">6</tspan></text>
<line x1="57.10" y1="512.24" x2="60.10" y2="512.24" stroke="#222" stroke-width="1"/>
<text x="53.9" y="514.6" font-size="8.5" fill="#333" text-anchor="end">4×10<tspan font-size="6.3" dy="-3.5">6</tspan></text>
<line x1="57.10" y1="495.56" x2="60.10" y2="495.56" stroke="#222" stroke-width="1"/>
<text x="53.9" y="498.0" font-size="8.5" fill="#333" text-anchor="end">6×10<tspan font-size="6.3" dy="-3.5">6</tspan></text>
<line x1="57.10" y1="478.88" x2="60.10" y2="478.88" stroke="#222" stroke-width="1"/>
<text x="53.9" y="481.3" font-size="8.5" fill="#333" text-anchor="end">8×10<tspan font-size="6.3" dy="-3.5">6</tspan></text>
<line x1="60.10" y1="545.60" x2="60.10" y2="548.10" stroke="#222" stroke-width="0.9"/>
<line x1="66.91" y1="545.60" x2="66.91" y2="547.00" stroke="#222" stroke-width="0.9"/>
<line x1="73.72" y1="545.60" x2="73.72" y2="547.00" stroke="#222" stroke-width="0.9"/>
<line x1="80.53" y1="545.60" x2="80.53" y2="547.00" stroke="#222" stroke-width="0.9"/>
<line x1="87.34" y1="545.60" x2="87.34" y2="547.00" stroke="#222" stroke-width="0.9"/>
<line x1="94.15" y1="545.60" x2="94.15" y2="548.10" stroke="#222" stroke-width="0.9"/>
<line x1="100.96" y1="545.60" x2="100.96" y2="547.00" stroke="#222" stroke-width="0.9"/>
<line x1="107.77" y1="545.60" x2="107.77" y2="547.00" stroke="#222" stroke-width="0.9"/>
<line x1="114.58" y1="545.60" x2="114.58" y2="547.00" stroke="#222" stroke-width="0.9"/>
<line x1="121.39" y1="545.60" x2="121.39" y2="547.00" stroke="#222" stroke-width="0.9"/>
<line x1="128.20" y1="545.60" x2="128.20" y2="548.10" stroke="#222" stroke-width="0.9"/>
<line x1="135.01" y1="545.60" x2="135.01" y2="547.00" stroke="#222" stroke-width="0.9"/>
<line x1="141.82" y1="545.60" x2="141.82" y2="547.00" stroke="#222" stroke-width="0.9"/>
<line x1="148.63" y1="545.60" x2="148.63" y2="547.00" stroke="#222" stroke-width="0.9"/>
<line x1="155.44" y1="545.60" x2="155.44" y2="547.00" stroke="#222" stroke-width="0.9"/>
<line x1="162.25" y1="545.60" x2="162.25" y2="548.10" stroke="#222" stroke-width="0.9"/>
<text x="60.1" y="558.5" font-size="8.3" fill="#333" text-anchor="middle">0</text>
<text x="94.2" y="558.5" font-size="8.3" fill="#333" text-anchor="middle">5</text>
<text x="128.2" y="558.5" font-size="8.3" fill="#333" text-anchor="middle">10</text>
<text x="162.2" y="558.5" font-size="8.3" fill="#333" text-anchor="middle">15</text>
<text transform="translate(15.4,510.2) rotate(-90)" x="0" y="0" font-size="10.4" fill="#333" text-anchor="middle" textLength="67" lengthAdjust="spacingAndGlyphs" stroke="#333" stroke-width="0.22">Fibrin accumulation</text>
<text transform="translate(25.8,510.2) rotate(-90)" x="0" y="0" font-size="10.4" fill="#333" text-anchor="middle" textLength="44" lengthAdjust="spacingAndGlyphs" stroke="#333" stroke-width="0.22">(α-fibrin SFI)</text>
<line x1="62.50" y1="543.26" x2="62.50" y2="545.60" stroke="#f2f5e8" stroke-width="1"/>
<line x1="61.50" y1="543.26" x2="61.50" y2="545.60" stroke="#e0e8c6" stroke-width="1.0" opacity="1"/>
<line x1="64.50" y1="543.26" x2="64.50" y2="545.60" stroke="#f2f5e8" stroke-width="1"/>
<line x1="63.50" y1="543.26" x2="63.50" y2="545.60" stroke="#e0e8c6" stroke-width="1.0" opacity="1"/>
<line x1="66.50" y1="541.58" x2="66.50" y2="545.60" stroke="#f2f5e8" stroke-width="1"/>
<line x1="65.50" y1="541.58" x2="65.50" y2="545.60" stroke="#e0e8c6" stroke-width="1.0" opacity="1"/>
<line x1="68.50" y1="540.05" x2="68.50" y2="544.72" stroke="#f2f5e8" stroke-width="1"/>
<line x1="67.50" y1="540.05" x2="67.50" y2="544.72" stroke="#e0e8c6" stroke-width="1.0" opacity="1"/>
<line x1="70.50" y1="539.00" x2="70.50" y2="543.67" stroke="#f2f5e8" stroke-width="1"/>
<line x1="69.50" y1="539.00" x2="69.50" y2="543.67" stroke="#e0e8c6" stroke-width="1.0" opacity="1"/>
<line x1="72.50" y1="537.94" x2="72.50" y2="542.61" stroke="#f2f5e8" stroke-width="1"/>
<line x1="71.50" y1="537.94" x2="71.50" y2="542.61" stroke="#e0e8c6" stroke-width="1.0" opacity="1"/>
<line x1="74.50" y1="536.89" x2="74.50" y2="541.56" stroke="#f2f5e8" stroke-width="1"/>
<line x1="73.50" y1="536.89" x2="73.50" y2="541.56" stroke="#e0e8c6" stroke-width="1.0" opacity="1"/>
<line x1="76.50" y1="536.50" x2="76.50" y2="541.17" stroke="#f2f5e8" stroke-width="1"/>
<line x1="75.50" y1="536.50" x2="75.50" y2="541.17" stroke="#e0e8c6" stroke-width="1.0" opacity="1"/>
<line x1="78.50" y1="536.21" x2="78.50" y2="540.88" stroke="#f2f5e8" stroke-width="1"/>
<line x1="77.50" y1="536.21" x2="77.50" y2="540.88" stroke="#e0e8c6" stroke-width="1.0" opacity="1"/>
<line x1="80.50" y1="535.91" x2="80.50" y2="540.58" stroke="#f2f5e8" stroke-width="1"/>
<line x1="79.50" y1="535.91" x2="79.50" y2="540.58" stroke="#e0e8c6" stroke-width="1.0" opacity="1"/>
<line x1="82.50" y1="535.67" x2="82.50" y2="540.34" stroke="#f2f5e8" stroke-width="1"/>
<line x1="81.50" y1="535.67" x2="81.50" y2="540.34" stroke="#e0e8c6" stroke-width="1.0" opacity="1"/>
<line x1="84.50" y1="535.47" x2="84.50" y2="540.14" stroke="#f2f5e8" stroke-width="1"/>
<line x1="83.50" y1="535.47" x2="83.50" y2="540.14" stroke="#e0e8c6" stroke-width="1.0" opacity="1"/>
<line x1="86.50" y1="535.27" x2="86.50" y2="539.94" stroke="#f2f5e8" stroke-width="1"/>
<line x1="85.50" y1="535.27" x2="85.50" y2="539.94" stroke="#e0e8c6" stroke-width="1.0" opacity="1"/>
<line x1="88.50" y1="535.09" x2="88.50" y2="539.76" stroke="#f2f5e8" stroke-width="1"/>
<line x1="87.50" y1="535.09" x2="87.50" y2="539.76" stroke="#e0e8c6" stroke-width="1.0" opacity="1"/>
<line x1="90.50" y1="535.04" x2="90.50" y2="539.71" stroke="#f2f5e8" stroke-width="1"/>
<line x1="89.50" y1="535.04" x2="89.50" y2="539.71" stroke="#e0e8c6" stroke-width="1.0" opacity="1"/>
<line x1="92.50" y1="534.99" x2="92.50" y2="539.66" stroke="#f2f5e8" stroke-width="1"/>
<line x1="91.50" y1="534.99" x2="91.50" y2="539.66" stroke="#e0e8c6" stroke-width="1.0" opacity="1"/>
<line x1="94.50" y1="534.94" x2="94.50" y2="539.61" stroke="#f2f5e8" stroke-width="1"/>
<line x1="93.50" y1="534.94" x2="93.50" y2="539.61" stroke="#e0e8c6" stroke-width="1.0" opacity="1"/>
<line x1="96.50" y1="534.89" x2="96.50" y2="539.56" stroke="#f2f5e8" stroke-width="1"/>
<line x1="95.50" y1="534.89" x2="95.50" y2="539.56" stroke="#e0e8c6" stroke-width="1.0" opacity="1"/>
<line x1="98.50" y1="534.84" x2="98.50" y2="539.51" stroke="#f2f5e8" stroke-width="1"/>
<line x1="97.50" y1="534.84" x2="97.50" y2="539.51" stroke="#e0e8c6" stroke-width="1.0" opacity="1"/>
<line x1="100.50" y1="534.79" x2="100.50" y2="539.46" stroke="#f2f5e8" stroke-width="1"/>
<line x1="99.50" y1="534.79" x2="99.50" y2="539.46" stroke="#e0e8c6" stroke-width="1.0" opacity="1"/>
<line x1="102.50" y1="534.74" x2="102.50" y2="539.42" stroke="#f2f5e8" stroke-width="1"/>
<line x1="101.50" y1="534.74" x2="101.50" y2="539.42" stroke="#e0e8c6" stroke-width="1.0" opacity="1"/>
<line x1="104.50" y1="534.70" x2="104.50" y2="539.37" stroke="#f2f5e8" stroke-width="1"/>
<line x1="103.50" y1="534.70" x2="103.50" y2="539.37" stroke="#e0e8c6" stroke-width="1.0" opacity="1"/>
<line x1="106.50" y1="534.65" x2="106.50" y2="539.32" stroke="#f2f5e8" stroke-width="1"/>
<line x1="105.50" y1="534.65" x2="105.50" y2="539.32" stroke="#e0e8c6" stroke-width="1.0" opacity="1"/>
<line x1="108.50" y1="534.60" x2="108.50" y2="539.27" stroke="#f2f5e8" stroke-width="1"/>
<line x1="107.50" y1="534.60" x2="107.50" y2="539.27" stroke="#e0e8c6" stroke-width="1.0" opacity="1"/>
<line x1="110.50" y1="534.55" x2="110.50" y2="539.22" stroke="#f2f5e8" stroke-width="1"/>
<line x1="109.50" y1="534.55" x2="109.50" y2="539.22" stroke="#e0e8c6" stroke-width="1.0" opacity="1"/>
<line x1="112.50" y1="534.50" x2="112.50" y2="539.17" stroke="#f2f5e8" stroke-width="1"/>
<line x1="111.50" y1="534.50" x2="111.50" y2="539.17" stroke="#e0e8c6" stroke-width="1.0" opacity="1"/>
<line x1="114.50" y1="534.45" x2="114.50" y2="539.12" stroke="#f2f5e8" stroke-width="1"/>
<line x1="113.50" y1="534.45" x2="113.50" y2="539.12" stroke="#e0e8c6" stroke-width="1.0" opacity="1"/>
<line x1="116.50" y1="534.41" x2="116.50" y2="539.08" stroke="#f2f5e8" stroke-width="1"/>
<line x1="115.50" y1="534.41" x2="115.50" y2="539.08" stroke="#e0e8c6" stroke-width="1.0" opacity="1"/>
<line x1="118.50" y1="534.38" x2="118.50" y2="539.05" stroke="#f2f5e8" stroke-width="1"/>
<line x1="117.50" y1="534.38" x2="117.50" y2="539.05" stroke="#e0e8c6" stroke-width="1.0" opacity="1"/>
<line x1="120.50" y1="534.35" x2="120.50" y2="539.02" stroke="#f2f5e8" stroke-width="1"/>
<line x1="119.50" y1="534.35" x2="119.50" y2="539.02" stroke="#e0e8c6" stroke-width="1.0" opacity="1"/>
<line x1="122.50" y1="534.32" x2="122.50" y2="538.99" stroke="#f2f5e8" stroke-width="1"/>
<line x1="121.50" y1="534.32" x2="121.50" y2="538.99" stroke="#e0e8c6" stroke-width="1.0" opacity="1"/>
<line x1="124.50" y1="534.28" x2="124.50" y2="538.95" stroke="#f2f5e8" stroke-width="1"/>
<line x1="123.50" y1="534.28" x2="123.50" y2="538.95" stroke="#e0e8c6" stroke-width="1.0" opacity="1"/>
<line x1="126.50" y1="534.25" x2="126.50" y2="538.92" stroke="#f2f5e8" stroke-width="1"/>
<line x1="125.50" y1="534.25" x2="125.50" y2="538.92" stroke="#e0e8c6" stroke-width="1.0" opacity="1"/>
<line x1="128.50" y1="534.22" x2="128.50" y2="538.89" stroke="#f2f5e8" stroke-width="1"/>
<line x1="127.50" y1="534.22" x2="127.50" y2="538.89" stroke="#e0e8c6" stroke-width="1.0" opacity="1"/>
<line x1="130.50" y1="534.19" x2="130.50" y2="538.86" stroke="#f2f5e8" stroke-width="1"/>
<line x1="129.50" y1="534.19" x2="129.50" y2="538.86" stroke="#e0e8c6" stroke-width="1.0" opacity="1"/>
<line x1="132.50" y1="534.16" x2="132.50" y2="538.83" stroke="#f2f5e8" stroke-width="1"/>
<line x1="131.50" y1="534.16" x2="131.50" y2="538.83" stroke="#e0e8c6" stroke-width="1.0" opacity="1"/>
<line x1="134.50" y1="534.13" x2="134.50" y2="538.80" stroke="#f2f5e8" stroke-width="1"/>
<line x1="133.50" y1="534.13" x2="133.50" y2="538.80" stroke="#e0e8c6" stroke-width="1.0" opacity="1"/>
<line x1="136.50" y1="534.09" x2="136.50" y2="538.77" stroke="#f2f5e8" stroke-width="1"/>
<line x1="135.50" y1="534.09" x2="135.50" y2="538.77" stroke="#e0e8c6" stroke-width="1.0" opacity="1"/>
<line x1="138.50" y1="534.06" x2="138.50" y2="538.73" stroke="#f2f5e8" stroke-width="1"/>
<line x1="137.50" y1="534.06" x2="137.50" y2="538.73" stroke="#e0e8c6" stroke-width="1.0" opacity="1"/>
<line x1="140.50" y1="534.03" x2="140.50" y2="538.70" stroke="#f2f5e8" stroke-width="1"/>
<line x1="139.50" y1="534.03" x2="139.50" y2="538.70" stroke="#e0e8c6" stroke-width="1.0" opacity="1"/>
<line x1="142.50" y1="534.00" x2="142.50" y2="538.67" stroke="#f2f5e8" stroke-width="1"/>
<line x1="141.50" y1="534.00" x2="141.50" y2="538.67" stroke="#e0e8c6" stroke-width="1.0" opacity="1"/>
<line x1="144.50" y1="533.97" x2="144.50" y2="538.64" stroke="#f2f5e8" stroke-width="1"/>
<line x1="143.50" y1="533.97" x2="143.50" y2="538.64" stroke="#e0e8c6" stroke-width="1.0" opacity="1"/>
<line x1="146.50" y1="533.94" x2="146.50" y2="538.61" stroke="#f2f5e8" stroke-width="1"/>
<line x1="145.50" y1="533.94" x2="145.50" y2="538.61" stroke="#e0e8c6" stroke-width="1.0" opacity="1"/>
<line x1="148.50" y1="533.91" x2="148.50" y2="538.58" stroke="#f2f5e8" stroke-width="1"/>
<line x1="147.50" y1="533.91" x2="147.50" y2="538.58" stroke="#e0e8c6" stroke-width="1.0" opacity="1"/>
<line x1="150.50" y1="533.87" x2="150.50" y2="538.54" stroke="#f2f5e8" stroke-width="1"/>
<line x1="149.50" y1="533.87" x2="149.50" y2="538.54" stroke="#e0e8c6" stroke-width="1.0" opacity="1"/>
<line x1="152.50" y1="533.84" x2="152.50" y2="538.51" stroke="#f2f5e8" stroke-width="1"/>
<line x1="151.50" y1="533.84" x2="151.50" y2="538.51" stroke="#e0e8c6" stroke-width="1.0" opacity="1"/>
<path d="M61.46 545.60 L63.46 545.60 L65.47 543.92 L67.47 542.39 L69.47 541.33 L71.47 540.28 L73.47 539.22 L75.48 538.84 L77.48 538.54 L79.48 538.25 L81.48 538.00 L83.49 537.80 L85.49 537.61 L87.49 537.42 L89.49 537.37 L91.49 537.33 L93.50 537.28 L95.50 537.23 L97.50 537.18 L99.50 537.13 L101.50 537.08 L103.51 537.03 L105.51 536.98 L107.51 536.93 L109.51 536.88 L111.52 536.83 L113.52 536.79 L115.52 536.74 L117.52 536.71 L119.52 536.68 L121.53 536.65 L123.53 536.62 L125.53 536.59 L127.53 536.56 L129.53 536.52 L131.54 536.49 L133.54 536.46 L135.54 536.43 L137.54 536.40 L139.55 536.37 L141.55 536.34 L143.55 536.30 L145.55 536.27 L147.55 536.24 L149.56 536.21 L151.56 536.18" fill="none" stroke="#c6d09a" stroke-width="1.1" stroke-linejoin="round"/>
<line x1="62.50" y1="544.82" x2="62.50" y2="545.60" stroke="#e6ddec" stroke-width="1"/>
<line x1="61.50" y1="544.82" x2="61.50" y2="545.60" stroke="#a08cb0" stroke-width="1.0" opacity="1"/>
<line x1="64.50" y1="538.54" x2="64.50" y2="544.49" stroke="#e6ddec" stroke-width="1"/>
<line x1="63.50" y1="538.54" x2="63.50" y2="544.49" stroke="#a08cb0" stroke-width="1.0" opacity="1"/>
<line x1="66.50" y1="531.03" x2="66.50" y2="542.22" stroke="#e6ddec" stroke-width="1"/>
<line x1="65.50" y1="531.03" x2="65.50" y2="542.22" stroke="#a08cb0" stroke-width="1.0" opacity="1"/>
<line x1="68.50" y1="526.27" x2="68.50" y2="540.03" stroke="#e6ddec" stroke-width="1"/>
<line x1="67.50" y1="526.27" x2="67.50" y2="540.03" stroke="#a08cb0" stroke-width="1.0" opacity="1"/>
<line x1="70.50" y1="520.28" x2="70.50" y2="538.53" stroke="#e6ddec" stroke-width="1"/>
<line x1="69.50" y1="520.28" x2="69.50" y2="538.53" stroke="#a08cb0" stroke-width="1.0" opacity="1"/>
<line x1="72.50" y1="517.24" x2="72.50" y2="536.18" stroke="#e6ddec" stroke-width="1"/>
<line x1="71.50" y1="517.24" x2="71.50" y2="536.18" stroke="#a08cb0" stroke-width="1.0" opacity="1"/>
<line x1="74.50" y1="516.68" x2="74.50" y2="535.88" stroke="#e6ddec" stroke-width="1"/>
<line x1="73.50" y1="516.68" x2="73.50" y2="535.88" stroke="#a08cb0" stroke-width="1.0" opacity="1"/>
<line x1="76.50" y1="516.48" x2="76.50" y2="533.96" stroke="#e6ddec" stroke-width="1"/>
<line x1="75.50" y1="516.48" x2="75.50" y2="533.96" stroke="#a08cb0" stroke-width="1.0" opacity="1"/>
<line x1="78.50" y1="515.72" x2="78.50" y2="533.16" stroke="#e6ddec" stroke-width="1"/>
<line x1="77.50" y1="515.72" x2="77.50" y2="533.16" stroke="#a08cb0" stroke-width="1.0" opacity="1"/>
<line x1="80.50" y1="512.99" x2="80.50" y2="532.93" stroke="#e6ddec" stroke-width="1"/>
<line x1="79.50" y1="512.99" x2="79.50" y2="532.93" stroke="#a08cb0" stroke-width="1.0" opacity="1"/>
<line x1="82.50" y1="512.64" x2="82.50" y2="532.19" stroke="#e6ddec" stroke-width="1"/>
<line x1="81.50" y1="512.64" x2="81.50" y2="532.19" stroke="#a08cb0" stroke-width="1.0" opacity="1"/>
<line x1="84.50" y1="513.83" x2="84.50" y2="531.00" stroke="#e6ddec" stroke-width="1"/>
<line x1="83.50" y1="513.83" x2="83.50" y2="531.00" stroke="#a08cb0" stroke-width="1.0" opacity="1"/>
<line x1="86.50" y1="512.13" x2="86.50" y2="530.85" stroke="#e6ddec" stroke-width="1"/>
<line x1="85.50" y1="512.13" x2="85.50" y2="530.85" stroke="#a08cb0" stroke-width="1.0" opacity="1"/>
<line x1="88.50" y1="511.23" x2="88.50" y2="530.32" stroke="#e6ddec" stroke-width="1"/>
<line x1="87.50" y1="511.23" x2="87.50" y2="530.32" stroke="#a08cb0" stroke-width="1.0" opacity="1"/>
<line x1="90.50" y1="512.21" x2="90.50" y2="529.89" stroke="#e6ddec" stroke-width="1"/>
<line x1="89.50" y1="512.21" x2="89.50" y2="529.89" stroke="#a08cb0" stroke-width="1.0" opacity="1"/>
<line x1="92.50" y1="511.53" x2="92.50" y2="528.56" stroke="#e6ddec" stroke-width="1"/>
<line x1="91.50" y1="511.53" x2="91.50" y2="528.56" stroke="#a08cb0" stroke-width="1.0" opacity="1"/>
<line x1="94.50" y1="512.05" x2="94.50" y2="528.70" stroke="#e6ddec" stroke-width="1"/>
<line x1="93.50" y1="512.05" x2="93.50" y2="528.70" stroke="#a08cb0" stroke-width="1.0" opacity="1"/>
<line x1="96.50" y1="511.18" x2="96.50" y2="529.42" stroke="#e6ddec" stroke-width="1"/>
<line x1="95.50" y1="511.18" x2="95.50" y2="529.42" stroke="#a08cb0" stroke-width="1.0" opacity="1"/>
<line x1="98.50" y1="511.13" x2="98.50" y2="527.58" stroke="#e6ddec" stroke-width="1"/>
<line x1="97.50" y1="511.13" x2="97.50" y2="527.58" stroke="#a08cb0" stroke-width="1.0" opacity="1"/>
<line x1="100.50" y1="510.96" x2="100.50" y2="528.56" stroke="#e6ddec" stroke-width="1"/>
<line x1="99.50" y1="510.96" x2="99.50" y2="528.56" stroke="#a08cb0" stroke-width="1.0" opacity="1"/>
<line x1="102.50" y1="510.51" x2="102.50" y2="527.94" stroke="#e6ddec" stroke-width="1"/>
<line x1="101.50" y1="510.51" x2="101.50" y2="527.94" stroke="#a08cb0" stroke-width="1.0" opacity="1"/>
<line x1="104.50" y1="510.41" x2="104.50" y2="526.83" stroke="#e6ddec" stroke-width="1"/>
<line x1="103.50" y1="510.41" x2="103.50" y2="526.83" stroke="#a08cb0" stroke-width="1.0" opacity="1"/>
<line x1="106.50" y1="510.12" x2="106.50" y2="527.34" stroke="#e6ddec" stroke-width="1"/>
<line x1="105.50" y1="510.12" x2="105.50" y2="527.34" stroke="#a08cb0" stroke-width="1.0" opacity="1"/>
<line x1="108.50" y1="510.46" x2="108.50" y2="526.31" stroke="#e6ddec" stroke-width="1"/>
<line x1="107.50" y1="510.46" x2="107.50" y2="526.31" stroke="#a08cb0" stroke-width="1.0" opacity="1"/>
<line x1="110.50" y1="508.68" x2="110.50" y2="527.69" stroke="#e6ddec" stroke-width="1"/>
<line x1="109.50" y1="508.68" x2="109.50" y2="527.69" stroke="#a08cb0" stroke-width="1.0" opacity="1"/>
<line x1="112.50" y1="510.04" x2="112.50" y2="526.18" stroke="#e6ddec" stroke-width="1"/>
<line x1="111.50" y1="510.04" x2="111.50" y2="526.18" stroke="#a08cb0" stroke-width="1.0" opacity="1"/>
<line x1="114.50" y1="508.40" x2="114.50" y2="525.96" stroke="#e6ddec" stroke-width="1"/>
<line x1="113.50" y1="508.40" x2="113.50" y2="525.96" stroke="#a08cb0" stroke-width="1.0" opacity="1"/>
<line x1="116.50" y1="507.50" x2="116.50" y2="526.34" stroke="#e6ddec" stroke-width="1"/>
<line x1="115.50" y1="507.50" x2="115.50" y2="526.34" stroke="#a08cb0" stroke-width="1.0" opacity="1"/>
<line x1="118.50" y1="505.91" x2="118.50" y2="527.62" stroke="#e6ddec" stroke-width="1"/>
<line x1="117.50" y1="505.91" x2="117.50" y2="527.62" stroke="#a08cb0" stroke-width="1.0" opacity="1"/>
<line x1="120.50" y1="506.90" x2="120.50" y2="526.31" stroke="#e6ddec" stroke-width="1"/>
<line x1="119.50" y1="506.90" x2="119.50" y2="526.31" stroke="#a08cb0" stroke-width="1.0" opacity="1"/>
<line x1="122.50" y1="505.88" x2="122.50" y2="526.78" stroke="#e6ddec" stroke-width="1"/>
<line x1="121.50" y1="505.88" x2="121.50" y2="526.78" stroke="#a08cb0" stroke-width="1.0" opacity="1"/>
<line x1="124.50" y1="506.01" x2="124.50" y2="525.98" stroke="#e6ddec" stroke-width="1"/>
<line x1="123.50" y1="506.01" x2="123.50" y2="525.98" stroke="#a08cb0" stroke-width="1.0" opacity="1"/>
<line x1="126.50" y1="505.16" x2="126.50" y2="525.36" stroke="#e6ddec" stroke-width="1"/>
<line x1="125.50" y1="505.16" x2="125.50" y2="525.36" stroke="#a08cb0" stroke-width="1.0" opacity="1"/>
<line x1="128.50" y1="503.37" x2="128.50" y2="527.00" stroke="#e6ddec" stroke-width="1"/>
<line x1="127.50" y1="503.37" x2="127.50" y2="527.00" stroke="#a08cb0" stroke-width="1.0" opacity="1"/>
<line x1="130.50" y1="505.46" x2="130.50" y2="525.16" stroke="#e6ddec" stroke-width="1"/>
<line x1="129.50" y1="505.46" x2="129.50" y2="525.16" stroke="#a08cb0" stroke-width="1.0" opacity="1"/>
<line x1="132.50" y1="502.84" x2="132.50" y2="526.79" stroke="#e6ddec" stroke-width="1"/>
<line x1="131.50" y1="502.84" x2="131.50" y2="526.79" stroke="#a08cb0" stroke-width="1.0" opacity="1"/>
<line x1="134.50" y1="503.28" x2="134.50" y2="524.84" stroke="#e6ddec" stroke-width="1"/>
<line x1="133.50" y1="503.28" x2="133.50" y2="524.84" stroke="#a08cb0" stroke-width="1.0" opacity="1"/>
<line x1="136.50" y1="503.14" x2="136.50" y2="524.82" stroke="#e6ddec" stroke-width="1"/>
<line x1="135.50" y1="503.14" x2="135.50" y2="524.82" stroke="#a08cb0" stroke-width="1.0" opacity="1"/>
<line x1="138.50" y1="502.80" x2="138.50" y2="524.17" stroke="#e6ddec" stroke-width="1"/>
<line x1="137.50" y1="502.80" x2="137.50" y2="524.17" stroke="#a08cb0" stroke-width="1.0" opacity="1"/>
<line x1="140.50" y1="499.46" x2="140.50" y2="526.29" stroke="#e6ddec" stroke-width="1"/>
<line x1="139.50" y1="499.46" x2="139.50" y2="526.29" stroke="#a08cb0" stroke-width="1.0" opacity="1"/>
<line x1="142.50" y1="499.05" x2="142.50" y2="525.46" stroke="#e6ddec" stroke-width="1"/>
<line x1="141.50" y1="499.05" x2="141.50" y2="525.46" stroke="#a08cb0" stroke-width="1.0" opacity="1"/>
<line x1="144.50" y1="500.71" x2="144.50" y2="523.26" stroke="#e6ddec" stroke-width="1"/>
<line x1="143.50" y1="500.71" x2="143.50" y2="523.26" stroke="#a08cb0" stroke-width="1.0" opacity="1"/>
<line x1="146.50" y1="497.96" x2="146.50" y2="526.86" stroke="#e6ddec" stroke-width="1"/>
<line x1="145.50" y1="497.96" x2="145.50" y2="526.86" stroke="#a08cb0" stroke-width="1.0" opacity="1"/>
<line x1="148.50" y1="498.72" x2="148.50" y2="524.64" stroke="#e6ddec" stroke-width="1"/>
<line x1="147.50" y1="498.72" x2="147.50" y2="524.64" stroke="#a08cb0" stroke-width="1.0" opacity="1"/>
<line x1="150.50" y1="497.17" x2="150.50" y2="524.94" stroke="#e6ddec" stroke-width="1"/>
<line x1="149.50" y1="497.17" x2="149.50" y2="524.94" stroke="#a08cb0" stroke-width="1.0" opacity="1"/>
<line x1="152.50" y1="497.41" x2="152.50" y2="523.53" stroke="#e6ddec" stroke-width="1"/>
<line x1="151.50" y1="497.41" x2="151.50" y2="523.53" stroke="#a08cb0" stroke-width="1.0" opacity="1"/>
<path d="M61.46 545.60 L63.46 541.51 L65.47 536.63 L67.47 533.15 L69.47 529.41 L71.47 526.71 L73.47 526.28 L75.48 525.22 L77.48 524.44 L79.48 522.96 L81.48 522.42 L83.49 522.41 L85.49 521.49 L87.49 520.77 L89.49 521.05 L91.49 520.04 L93.50 520.37 L95.50 520.30 L97.50 519.36 L99.50 519.76 L101.50 519.22 L103.51 518.62 L105.51 518.73 L107.51 518.38 L109.51 518.18 L111.52 518.11 L113.52 517.18 L115.52 516.92 L117.52 516.77 L119.52 516.60 L121.53 516.33 L123.53 516.00 L125.53 515.26 L127.53 515.19 L129.53 515.31 L131.54 514.82 L133.54 514.06 L135.54 513.98 L137.54 513.48 L139.55 512.88 L141.55 512.25 L143.55 511.98 L145.55 512.41 L147.55 511.68 L149.56 511.05 L151.56 510.47" fill="none" stroke="#4e2a72" stroke-width="1.1" stroke-linejoin="round"/>
<path d="M157.6 509.4 H165.4 V534.4 H157.6" fill="none" stroke="#333" stroke-width="1.1"/>
<circle cx="169.7" cy="518.5" r="1.05" fill="#222"/>
<circle cx="169.7" cy="522.1" r="1.05" fill="#222"/>
<circle cx="169.7" cy="525.7" r="1.05" fill="#222"/>
<text x="112.7" y="571.2" font-size="9.5" fill="#333" text-anchor="middle" textLength="49.4" lengthAdjust="spacingAndGlyphs" stroke="#333" stroke-width="0.2">Time (minutes)</text>
<line x1="234.70" y1="474.60" x2="234.70" y2="546.50" stroke="#222" stroke-width="1.1"/>
<line x1="234.20" y1="545.90" x2="333.90" y2="545.90" stroke="#222" stroke-width="1.1"/>
<line x1="231.70" y1="545.90" x2="234.70" y2="545.90" stroke="#222" stroke-width="1"/>
<text x="228.5" y="548.3" font-size="8.5" fill="#333" text-anchor="end">0</text>
<line x1="231.70" y1="528.50" x2="234.70" y2="528.50" stroke="#222" stroke-width="1"/>
<text x="228.5" y="530.9" font-size="8.5" fill="#333" text-anchor="end">1×10<tspan font-size="6.3" dy="-3.5">7</tspan></text>
<line x1="231.70" y1="511.10" x2="234.70" y2="511.10" stroke="#222" stroke-width="1"/>
<text x="228.5" y="513.5" font-size="8.5" fill="#333" text-anchor="end">2×10<tspan font-size="6.3" dy="-3.5">7</tspan></text>
<line x1="231.70" y1="493.70" x2="234.70" y2="493.70" stroke="#222" stroke-width="1"/>
<text x="228.5" y="496.1" font-size="8.5" fill="#333" text-anchor="end">3×10<tspan font-size="6.3" dy="-3.5">7</tspan></text>
<line x1="231.70" y1="476.30" x2="234.70" y2="476.30" stroke="#222" stroke-width="1"/>
<text x="228.5" y="478.7" font-size="8.5" fill="#333" text-anchor="end">4×10<tspan font-size="6.3" dy="-3.5">7</tspan></text>
<line x1="234.70" y1="545.90" x2="234.70" y2="548.40" stroke="#222" stroke-width="0.9"/>
<line x1="241.13" y1="545.90" x2="241.13" y2="547.30" stroke="#222" stroke-width="0.9"/>
<line x1="247.56" y1="545.90" x2="247.56" y2="547.30" stroke="#222" stroke-width="0.9"/>
<line x1="253.99" y1="545.90" x2="253.99" y2="547.30" stroke="#222" stroke-width="0.9"/>
<line x1="260.42" y1="545.90" x2="260.42" y2="547.30" stroke="#222" stroke-width="0.9"/>
<line x1="266.85" y1="545.90" x2="266.85" y2="548.40" stroke="#222" stroke-width="0.9"/>
<line x1="273.28" y1="545.90" x2="273.28" y2="547.30" stroke="#222" stroke-width="0.9"/>
<line x1="279.71" y1="545.90" x2="279.71" y2="547.30" stroke="#222" stroke-width="0.9"/>
<line x1="286.14" y1="545.90" x2="286.14" y2="547.30" stroke="#222" stroke-width="0.9"/>
<line x1="292.57" y1="545.90" x2="292.57" y2="547.30" stroke="#222" stroke-width="0.9"/>
<line x1="299.00" y1="545.90" x2="299.00" y2="548.40" stroke="#222" stroke-width="0.9"/>
<line x1="305.43" y1="545.90" x2="305.43" y2="547.30" stroke="#222" stroke-width="0.9"/>
<line x1="311.86" y1="545.90" x2="311.86" y2="547.30" stroke="#222" stroke-width="0.9"/>
<line x1="318.29" y1="545.90" x2="318.29" y2="547.30" stroke="#222" stroke-width="0.9"/>
<line x1="324.72" y1="545.90" x2="324.72" y2="547.30" stroke="#222" stroke-width="0.9"/>
<line x1="331.15" y1="545.90" x2="331.15" y2="548.40" stroke="#222" stroke-width="0.9"/>
<text x="234.7" y="558.8" font-size="8.3" fill="#333" text-anchor="middle">0</text>
<text x="266.8" y="558.8" font-size="8.3" fill="#333" text-anchor="middle">5</text>
<text x="299.0" y="558.8" font-size="8.3" fill="#333" text-anchor="middle">10</text>
<text x="331.1" y="558.8" font-size="8.3" fill="#333" text-anchor="middle">15</text>
<text transform="translate(190.4,510.0) rotate(-90)" x="0" y="0" font-size="10.4" fill="#333" text-anchor="middle" textLength="72" lengthAdjust="spacingAndGlyphs" stroke="#333" stroke-width="0.22">Platelet accumulation</text>
<text transform="translate(201.0,510.0) rotate(-90)" x="0" y="0" font-size="10.4" fill="#333" text-anchor="middle" textLength="42" lengthAdjust="spacingAndGlyphs" stroke="#333" stroke-width="0.22">(α-GPIX SFI)</text>
<line x1="236.50" y1="537.72" x2="236.50" y2="545.90" stroke="#eee7f3" stroke-width="1"/>
<line x1="235.50" y1="537.72" x2="235.50" y2="545.90" stroke="#b9a2cb" stroke-width="1.0" opacity="1"/>
<line x1="238.50" y1="517.40" x2="238.50" y2="545.80" stroke="#eee7f3" stroke-width="1"/>
<line x1="237.50" y1="517.40" x2="237.50" y2="545.80" stroke="#b9a2cb" stroke-width="1.0" opacity="1"/>
<line x1="240.50" y1="503.43" x2="240.50" y2="540.24" stroke="#eee7f3" stroke-width="1"/>
<line x1="239.50" y1="503.43" x2="239.50" y2="540.24" stroke="#b9a2cb" stroke-width="1.0" opacity="1"/>
<line x1="242.50" y1="493.88" x2="242.50" y2="533.59" stroke="#eee7f3" stroke-width="1"/>
<line x1="241.50" y1="493.88" x2="241.50" y2="533.59" stroke="#b9a2cb" stroke-width="1.0" opacity="1"/>
<line x1="244.50" y1="494.56" x2="244.50" y2="528.64" stroke="#eee7f3" stroke-width="1"/>
<line x1="243.50" y1="494.56" x2="243.50" y2="528.64" stroke="#b9a2cb" stroke-width="1.0" opacity="1"/>
<line x1="246.50" y1="487.94" x2="246.50" y2="533.16" stroke="#eee7f3" stroke-width="1"/>
<line x1="245.50" y1="487.94" x2="245.50" y2="533.16" stroke="#b9a2cb" stroke-width="1.0" opacity="1"/>
<line x1="248.50" y1="490.93" x2="248.50" y2="530.73" stroke="#eee7f3" stroke-width="1"/>
<line x1="247.50" y1="490.93" x2="247.50" y2="530.73" stroke="#b9a2cb" stroke-width="1.0" opacity="1"/>
<line x1="250.50" y1="497.28" x2="250.50" y2="527.92" stroke="#eee7f3" stroke-width="1"/>
<line x1="249.50" y1="497.28" x2="249.50" y2="527.92" stroke="#b9a2cb" stroke-width="1.0" opacity="1"/>
<line x1="252.50" y1="499.52" x2="252.50" y2="527.23" stroke="#eee7f3" stroke-width="1"/>
<line x1="251.50" y1="499.52" x2="251.50" y2="527.23" stroke="#b9a2cb" stroke-width="1.0" opacity="1"/>
<line x1="254.50" y1="502.80" x2="254.50" y2="524.34" stroke="#eee7f3" stroke-width="1"/>
<line x1="253.50" y1="502.80" x2="253.50" y2="524.34" stroke="#b9a2cb" stroke-width="1.0" opacity="1"/>
<line x1="256.50" y1="503.40" x2="256.50" y2="525.45" stroke="#eee7f3" stroke-width="1"/>
<line x1="255.50" y1="503.40" x2="255.50" y2="525.45" stroke="#b9a2cb" stroke-width="1.0" opacity="1"/>
<line x1="258.50" y1="501.78" x2="258.50" y2="525.56" stroke="#eee7f3" stroke-width="1"/>
<line x1="257.50" y1="501.78" x2="257.50" y2="525.56" stroke="#b9a2cb" stroke-width="1.0" opacity="1"/>
<line x1="260.50" y1="503.92" x2="260.50" y2="525.95" stroke="#eee7f3" stroke-width="1"/>
<line x1="259.50" y1="503.92" x2="259.50" y2="525.95" stroke="#b9a2cb" stroke-width="1.0" opacity="1"/>
<line x1="262.50" y1="505.17" x2="262.50" y2="525.00" stroke="#eee7f3" stroke-width="1"/>
<line x1="261.50" y1="505.17" x2="261.50" y2="525.00" stroke="#b9a2cb" stroke-width="1.0" opacity="1"/>
<line x1="264.50" y1="507.09" x2="264.50" y2="523.11" stroke="#eee7f3" stroke-width="1"/>
<line x1="263.50" y1="507.09" x2="263.50" y2="523.11" stroke="#b9a2cb" stroke-width="1.0" opacity="1"/>
<line x1="266.50" y1="505.45" x2="266.50" y2="522.68" stroke="#eee7f3" stroke-width="1"/>
<line x1="265.50" y1="505.45" x2="265.50" y2="522.68" stroke="#b9a2cb" stroke-width="1.0" opacity="1"/>
<line x1="268.50" y1="503.98" x2="268.50" y2="525.84" stroke="#eee7f3" stroke-width="1"/>
<line x1="267.50" y1="503.98" x2="267.50" y2="525.84" stroke="#b9a2cb" stroke-width="1.0" opacity="1"/>
<line x1="270.50" y1="504.92" x2="270.50" y2="522.53" stroke="#eee7f3" stroke-width="1"/>
<line x1="269.50" y1="504.92" x2="269.50" y2="522.53" stroke="#b9a2cb" stroke-width="1.0" opacity="1"/>
<line x1="272.50" y1="503.80" x2="272.50" y2="522.86" stroke="#eee7f3" stroke-width="1"/>
<line x1="271.50" y1="503.80" x2="271.50" y2="522.86" stroke="#b9a2cb" stroke-width="1.0" opacity="1"/>
<line x1="274.50" y1="504.97" x2="274.50" y2="521.97" stroke="#eee7f3" stroke-width="1"/>
<line x1="273.50" y1="504.97" x2="273.50" y2="521.97" stroke="#b9a2cb" stroke-width="1.0" opacity="1"/>
<line x1="276.50" y1="503.45" x2="276.50" y2="523.30" stroke="#eee7f3" stroke-width="1"/>
<line x1="275.50" y1="503.45" x2="275.50" y2="523.30" stroke="#b9a2cb" stroke-width="1.0" opacity="1"/>
<line x1="278.50" y1="503.11" x2="278.50" y2="524.11" stroke="#eee7f3" stroke-width="1"/>
<line x1="277.50" y1="503.11" x2="277.50" y2="524.11" stroke="#b9a2cb" stroke-width="1.0" opacity="1"/>
<line x1="280.50" y1="505.92" x2="280.50" y2="523.69" stroke="#eee7f3" stroke-width="1"/>
<line x1="279.50" y1="505.92" x2="279.50" y2="523.69" stroke="#b9a2cb" stroke-width="1.0" opacity="1"/>
<line x1="282.50" y1="506.83" x2="282.50" y2="523.26" stroke="#eee7f3" stroke-width="1"/>
<line x1="281.50" y1="506.83" x2="281.50" y2="523.26" stroke="#b9a2cb" stroke-width="1.0" opacity="1"/>
<line x1="284.50" y1="506.53" x2="284.50" y2="523.84" stroke="#eee7f3" stroke-width="1"/>
<line x1="283.50" y1="506.53" x2="283.50" y2="523.84" stroke="#b9a2cb" stroke-width="1.0" opacity="1"/>
<line x1="286.50" y1="506.69" x2="286.50" y2="522.18" stroke="#eee7f3" stroke-width="1"/>
<line x1="285.50" y1="506.69" x2="285.50" y2="522.18" stroke="#b9a2cb" stroke-width="1.0" opacity="1"/>
<line x1="288.50" y1="505.79" x2="288.50" y2="523.20" stroke="#eee7f3" stroke-width="1"/>
<line x1="287.50" y1="505.79" x2="287.50" y2="523.20" stroke="#b9a2cb" stroke-width="1.0" opacity="1"/>
<line x1="290.50" y1="505.19" x2="290.50" y2="525.36" stroke="#eee7f3" stroke-width="1"/>
<line x1="289.50" y1="505.19" x2="289.50" y2="525.36" stroke="#b9a2cb" stroke-width="1.0" opacity="1"/>
<line x1="292.50" y1="506.72" x2="292.50" y2="523.90" stroke="#eee7f3" stroke-width="1"/>
<line x1="291.50" y1="506.72" x2="291.50" y2="523.90" stroke="#b9a2cb" stroke-width="1.0" opacity="1"/>
<line x1="294.50" y1="505.72" x2="294.50" y2="525.11" stroke="#eee7f3" stroke-width="1"/>
<line x1="293.50" y1="505.72" x2="293.50" y2="525.11" stroke="#b9a2cb" stroke-width="1.0" opacity="1"/>
<line x1="296.50" y1="505.40" x2="296.50" y2="526.29" stroke="#eee7f3" stroke-width="1"/>
<line x1="295.50" y1="505.40" x2="295.50" y2="526.29" stroke="#b9a2cb" stroke-width="1.0" opacity="1"/>
<line x1="298.50" y1="505.97" x2="298.50" y2="525.49" stroke="#eee7f3" stroke-width="1"/>
<line x1="297.50" y1="505.97" x2="297.50" y2="525.49" stroke="#b9a2cb" stroke-width="1.0" opacity="1"/>
<line x1="300.50" y1="506.85" x2="300.50" y2="522.10" stroke="#eee7f3" stroke-width="1"/>
<line x1="299.50" y1="506.85" x2="299.50" y2="522.10" stroke="#b9a2cb" stroke-width="1.0" opacity="1"/>
<line x1="302.50" y1="506.12" x2="302.50" y2="523.31" stroke="#eee7f3" stroke-width="1"/>
<line x1="301.50" y1="506.12" x2="301.50" y2="523.31" stroke="#b9a2cb" stroke-width="1.0" opacity="1"/>
<line x1="304.50" y1="507.62" x2="304.50" y2="522.72" stroke="#eee7f3" stroke-width="1"/>
<line x1="303.50" y1="507.62" x2="303.50" y2="522.72" stroke="#b9a2cb" stroke-width="1.0" opacity="1"/>
<line x1="306.50" y1="508.06" x2="306.50" y2="524.09" stroke="#eee7f3" stroke-width="1"/>
<line x1="305.50" y1="508.06" x2="305.50" y2="524.09" stroke="#b9a2cb" stroke-width="1.0" opacity="1"/>
<line x1="308.50" y1="506.94" x2="308.50" y2="523.00" stroke="#eee7f3" stroke-width="1"/>
<line x1="307.50" y1="506.94" x2="307.50" y2="523.00" stroke="#b9a2cb" stroke-width="1.0" opacity="1"/>
<line x1="310.50" y1="505.33" x2="310.50" y2="525.50" stroke="#eee7f3" stroke-width="1"/>
<line x1="309.50" y1="505.33" x2="309.50" y2="525.50" stroke="#b9a2cb" stroke-width="1.0" opacity="1"/>
<line x1="312.50" y1="506.92" x2="312.50" y2="523.71" stroke="#eee7f3" stroke-width="1"/>
<line x1="311.50" y1="506.92" x2="311.50" y2="523.71" stroke="#b9a2cb" stroke-width="1.0" opacity="1"/>
<line x1="314.50" y1="507.38" x2="314.50" y2="525.13" stroke="#eee7f3" stroke-width="1"/>
<line x1="313.50" y1="507.38" x2="313.50" y2="525.13" stroke="#b9a2cb" stroke-width="1.0" opacity="1"/>
<line x1="316.50" y1="508.10" x2="316.50" y2="523.45" stroke="#eee7f3" stroke-width="1"/>
<line x1="315.50" y1="508.10" x2="315.50" y2="523.45" stroke="#b9a2cb" stroke-width="1.0" opacity="1"/>
<line x1="318.50" y1="506.34" x2="318.50" y2="525.51" stroke="#eee7f3" stroke-width="1"/>
<line x1="317.50" y1="506.34" x2="317.50" y2="525.51" stroke="#b9a2cb" stroke-width="1.0" opacity="1"/>
<line x1="320.50" y1="508.67" x2="320.50" y2="523.53" stroke="#eee7f3" stroke-width="1"/>
<line x1="319.50" y1="508.67" x2="319.50" y2="523.53" stroke="#b9a2cb" stroke-width="1.0" opacity="1"/>
<line x1="322.50" y1="508.83" x2="322.50" y2="523.96" stroke="#eee7f3" stroke-width="1"/>
<line x1="321.50" y1="508.83" x2="321.50" y2="523.96" stroke="#b9a2cb" stroke-width="1.0" opacity="1"/>
<line x1="236.50" y1="540.68" x2="236.50" y2="545.55" stroke="#f0f3e4" stroke-width="1"/>
<line x1="235.50" y1="540.68" x2="235.50" y2="545.55" stroke="#dde5c2" stroke-width="1.0" opacity="1"/>
<line x1="238.50" y1="529.86" x2="238.50" y2="539.06" stroke="#f0f3e4" stroke-width="1"/>
<line x1="237.50" y1="529.86" x2="237.50" y2="539.06" stroke="#dde5c2" stroke-width="1.0" opacity="1"/>
<line x1="240.50" y1="520.58" x2="240.50" y2="534.11" stroke="#f0f3e4" stroke-width="1"/>
<line x1="239.50" y1="520.58" x2="239.50" y2="534.11" stroke="#dde5c2" stroke-width="1.0" opacity="1"/>
<line x1="242.50" y1="512.55" x2="242.50" y2="529.96" stroke="#f0f3e4" stroke-width="1"/>
<line x1="241.50" y1="512.55" x2="241.50" y2="529.96" stroke="#dde5c2" stroke-width="1.0" opacity="1"/>
<line x1="244.50" y1="509.82" x2="244.50" y2="527.27" stroke="#f0f3e4" stroke-width="1"/>
<line x1="243.50" y1="509.82" x2="243.50" y2="527.27" stroke="#dde5c2" stroke-width="1.0" opacity="1"/>
<line x1="246.50" y1="507.90" x2="246.50" y2="525.40" stroke="#f0f3e4" stroke-width="1"/>
<line x1="245.50" y1="507.90" x2="245.50" y2="525.40" stroke="#dde5c2" stroke-width="1.0" opacity="1"/>
<line x1="248.50" y1="506.80" x2="248.50" y2="524.34" stroke="#f0f3e4" stroke-width="1"/>
<line x1="247.50" y1="506.80" x2="247.50" y2="524.34" stroke="#dde5c2" stroke-width="1.0" opacity="1"/>
<line x1="250.50" y1="507.14" x2="250.50" y2="524.72" stroke="#f0f3e4" stroke-width="1"/>
<line x1="249.50" y1="507.14" x2="249.50" y2="524.72" stroke="#dde5c2" stroke-width="1.0" opacity="1"/>
<line x1="252.50" y1="507.66" x2="252.50" y2="525.28" stroke="#f0f3e4" stroke-width="1"/>
<line x1="251.50" y1="507.66" x2="251.50" y2="525.28" stroke="#dde5c2" stroke-width="1.0" opacity="1"/>
<line x1="254.50" y1="508.18" x2="254.50" y2="525.85" stroke="#f0f3e4" stroke-width="1"/>
<line x1="253.50" y1="508.18" x2="253.50" y2="525.85" stroke="#dde5c2" stroke-width="1.0" opacity="1"/>
<line x1="256.50" y1="508.43" x2="256.50" y2="526.14" stroke="#f0f3e4" stroke-width="1"/>
<line x1="255.50" y1="508.43" x2="255.50" y2="526.14" stroke="#dde5c2" stroke-width="1.0" opacity="1"/>
<line x1="258.50" y1="508.54" x2="258.50" y2="526.29" stroke="#f0f3e4" stroke-width="1"/>
<line x1="257.50" y1="508.54" x2="257.50" y2="526.29" stroke="#dde5c2" stroke-width="1.0" opacity="1"/>
<line x1="260.50" y1="508.65" x2="260.50" y2="526.45" stroke="#f0f3e4" stroke-width="1"/>
<line x1="259.50" y1="508.65" x2="259.50" y2="526.45" stroke="#dde5c2" stroke-width="1.0" opacity="1"/>
<line x1="262.50" y1="508.77" x2="262.50" y2="526.61" stroke="#f0f3e4" stroke-width="1"/>
<line x1="261.50" y1="508.77" x2="261.50" y2="526.61" stroke="#dde5c2" stroke-width="1.0" opacity="1"/>
<line x1="264.50" y1="508.88" x2="264.50" y2="526.76" stroke="#f0f3e4" stroke-width="1"/>
<line x1="263.50" y1="508.88" x2="263.50" y2="526.76" stroke="#dde5c2" stroke-width="1.0" opacity="1"/>
<line x1="266.50" y1="508.99" x2="266.50" y2="526.92" stroke="#f0f3e4" stroke-width="1"/>
<line x1="265.50" y1="508.99" x2="265.50" y2="526.92" stroke="#dde5c2" stroke-width="1.0" opacity="1"/>
<line x1="268.50" y1="509.10" x2="268.50" y2="527.07" stroke="#f0f3e4" stroke-width="1"/>
<line x1="267.50" y1="509.10" x2="267.50" y2="527.07" stroke="#dde5c2" stroke-width="1.0" opacity="1"/>
<line x1="270.50" y1="509.16" x2="270.50" y2="527.18" stroke="#f0f3e4" stroke-width="1"/>
<line x1="269.50" y1="509.16" x2="269.50" y2="527.18" stroke="#dde5c2" stroke-width="1.0" opacity="1"/>
<line x1="272.50" y1="509.23" x2="272.50" y2="527.29" stroke="#f0f3e4" stroke-width="1"/>
<line x1="271.50" y1="509.23" x2="271.50" y2="527.29" stroke="#dde5c2" stroke-width="1.0" opacity="1"/>
<line x1="274.50" y1="509.30" x2="274.50" y2="527.40" stroke="#f0f3e4" stroke-width="1"/>
<line x1="273.50" y1="509.30" x2="273.50" y2="527.40" stroke="#dde5c2" stroke-width="1.0" opacity="1"/>
<line x1="276.50" y1="509.37" x2="276.50" y2="527.52" stroke="#f0f3e4" stroke-width="1"/>
<line x1="275.50" y1="509.37" x2="275.50" y2="527.52" stroke="#dde5c2" stroke-width="1.0" opacity="1"/>
<line x1="278.50" y1="509.44" x2="278.50" y2="527.63" stroke="#f0f3e4" stroke-width="1"/>
<line x1="277.50" y1="509.44" x2="277.50" y2="527.63" stroke="#dde5c2" stroke-width="1.0" opacity="1"/>
<line x1="280.50" y1="509.51" x2="280.50" y2="527.74" stroke="#f0f3e4" stroke-width="1"/>
<line x1="279.50" y1="509.51" x2="279.50" y2="527.74" stroke="#dde5c2" stroke-width="1.0" opacity="1"/>
<line x1="282.50" y1="509.57" x2="282.50" y2="527.85" stroke="#f0f3e4" stroke-width="1"/>
<line x1="281.50" y1="509.57" x2="281.50" y2="527.85" stroke="#dde5c2" stroke-width="1.0" opacity="1"/>
<line x1="284.50" y1="509.64" x2="284.50" y2="527.96" stroke="#f0f3e4" stroke-width="1"/>
<line x1="283.50" y1="509.64" x2="283.50" y2="527.96" stroke="#dde5c2" stroke-width="1.0" opacity="1"/>
<line x1="286.50" y1="509.71" x2="286.50" y2="528.08" stroke="#f0f3e4" stroke-width="1"/>
<line x1="285.50" y1="509.71" x2="285.50" y2="528.08" stroke="#dde5c2" stroke-width="1.0" opacity="1"/>
<line x1="288.50" y1="509.76" x2="288.50" y2="528.16" stroke="#f0f3e4" stroke-width="1"/>
<line x1="287.50" y1="509.76" x2="287.50" y2="528.16" stroke="#dde5c2" stroke-width="1.0" opacity="1"/>
<line x1="290.50" y1="509.78" x2="290.50" y2="528.24" stroke="#f0f3e4" stroke-width="1"/>
<line x1="289.50" y1="509.78" x2="289.50" y2="528.24" stroke="#dde5c2" stroke-width="1.0" opacity="1"/>
<line x1="292.50" y1="509.81" x2="292.50" y2="528.31" stroke="#f0f3e4" stroke-width="1"/>
<line x1="291.50" y1="509.81" x2="291.50" y2="528.31" stroke="#dde5c2" stroke-width="1.0" opacity="1"/>
<line x1="294.50" y1="509.84" x2="294.50" y2="528.38" stroke="#f0f3e4" stroke-width="1"/>
<line x1="293.50" y1="509.84" x2="293.50" y2="528.38" stroke="#dde5c2" stroke-width="1.0" opacity="1"/>
<line x1="296.50" y1="509.87" x2="296.50" y2="528.45" stroke="#f0f3e4" stroke-width="1"/>
<line x1="295.50" y1="509.87" x2="295.50" y2="528.45" stroke="#dde5c2" stroke-width="1.0" opacity="1"/>
<line x1="298.50" y1="509.90" x2="298.50" y2="528.52" stroke="#f0f3e4" stroke-width="1"/>
<line x1="297.50" y1="509.90" x2="297.50" y2="528.52" stroke="#dde5c2" stroke-width="1.0" opacity="1"/>
<line x1="300.50" y1="509.93" x2="300.50" y2="528.60" stroke="#f0f3e4" stroke-width="1"/>
<line x1="299.50" y1="509.93" x2="299.50" y2="528.60" stroke="#dde5c2" stroke-width="1.0" opacity="1"/>
<line x1="302.50" y1="509.95" x2="302.50" y2="528.67" stroke="#f0f3e4" stroke-width="1"/>
<line x1="301.50" y1="509.95" x2="301.50" y2="528.67" stroke="#dde5c2" stroke-width="1.0" opacity="1"/>
<line x1="304.50" y1="509.98" x2="304.50" y2="528.74" stroke="#f0f3e4" stroke-width="1"/>
<line x1="303.50" y1="509.98" x2="303.50" y2="528.74" stroke="#dde5c2" stroke-width="1.0" opacity="1"/>
<line x1="306.50" y1="510.01" x2="306.50" y2="528.81" stroke="#f0f3e4" stroke-width="1"/>
<line x1="305.50" y1="510.01" x2="305.50" y2="528.81" stroke="#dde5c2" stroke-width="1.0" opacity="1"/>
<line x1="308.50" y1="510.04" x2="308.50" y2="528.88" stroke="#f0f3e4" stroke-width="1"/>
<line x1="307.50" y1="510.04" x2="307.50" y2="528.88" stroke="#dde5c2" stroke-width="1.0" opacity="1"/>
<line x1="310.50" y1="510.07" x2="310.50" y2="528.96" stroke="#f0f3e4" stroke-width="1"/>
<line x1="309.50" y1="510.07" x2="309.50" y2="528.96" stroke="#dde5c2" stroke-width="1.0" opacity="1"/>
<line x1="312.50" y1="510.10" x2="312.50" y2="529.03" stroke="#f0f3e4" stroke-width="1"/>
<line x1="311.50" y1="510.10" x2="311.50" y2="529.03" stroke="#dde5c2" stroke-width="1.0" opacity="1"/>
<line x1="314.50" y1="510.12" x2="314.50" y2="529.10" stroke="#f0f3e4" stroke-width="1"/>
<line x1="313.50" y1="510.12" x2="313.50" y2="529.10" stroke="#dde5c2" stroke-width="1.0" opacity="1"/>
<line x1="316.50" y1="510.15" x2="316.50" y2="529.17" stroke="#f0f3e4" stroke-width="1"/>
<line x1="315.50" y1="510.15" x2="315.50" y2="529.17" stroke="#dde5c2" stroke-width="1.0" opacity="1"/>
<line x1="318.50" y1="510.18" x2="318.50" y2="529.24" stroke="#f0f3e4" stroke-width="1"/>
<line x1="317.50" y1="510.18" x2="317.50" y2="529.24" stroke="#dde5c2" stroke-width="1.0" opacity="1"/>
<line x1="320.50" y1="510.21" x2="320.50" y2="529.31" stroke="#f0f3e4" stroke-width="1"/>
<line x1="319.50" y1="510.21" x2="319.50" y2="529.31" stroke="#dde5c2" stroke-width="1.0" opacity="1"/>
<line x1="322.50" y1="510.23" x2="322.50" y2="529.37" stroke="#f0f3e4" stroke-width="1"/>
<line x1="321.50" y1="510.23" x2="321.50" y2="529.37" stroke="#dde5c2" stroke-width="1.0" opacity="1"/>
<path d="M235.34 543.12 L237.34 534.46 L239.34 527.34 L241.34 521.25 L243.34 518.55 L245.34 516.65 L247.34 515.57 L249.34 515.93 L251.34 516.47 L253.34 517.01 L255.34 517.28 L257.34 517.42 L259.34 517.55 L261.34 517.69 L263.34 517.82 L265.34 517.96 L267.34 518.08 L269.34 518.17 L271.34 518.26 L273.34 518.35 L275.34 518.44 L277.34 518.53 L279.34 518.62 L281.34 518.71 L283.34 518.80 L285.34 518.89 L287.34 518.96 L289.34 519.01 L291.34 519.06 L293.34 519.11 L295.33 519.16 L297.33 519.21 L299.33 519.26 L301.33 519.31 L303.33 519.36 L305.33 519.41 L307.33 519.46 L309.33 519.51 L311.33 519.56 L313.33 519.61 L315.33 519.66 L317.33 519.71 L319.33 519.76 L321.33 519.80" fill="none" stroke="#cdd6a6" stroke-width="1.0" stroke-linejoin="round"/>
<path d="M235.34 542.42 L237.34 531.60 L239.34 521.84 L241.34 513.73 L243.34 511.60 L245.34 510.55 L247.34 510.83 L249.34 512.60 L251.34 513.38 L253.34 513.57 L255.34 514.42 L257.34 513.67 L259.34 514.94 L261.34 515.08 L263.34 515.10 L265.34 514.06 L267.34 514.91 L269.34 513.72 L271.34 513.33 L273.34 513.47 L275.34 513.37 L277.34 513.61 L279.34 514.81 L281.34 515.04 L283.34 515.19 L285.34 514.44 L287.34 514.49 L289.34 515.28 L291.34 515.31 L293.34 515.41 L295.33 515.84 L297.33 515.73 L299.33 514.48 L301.33 514.72 L303.33 515.17 L305.33 516.07 L307.33 514.97 L309.33 515.41 L311.33 515.31 L313.33 516.25 L315.33 515.78 L317.33 515.92 L319.33 516.10 L321.33 516.40" fill="none" stroke="#333" stroke-width="1.2" stroke-linejoin="round"/>
<path d="M329.5 505.1 H337.0 V530.2 H329.5" fill="none" stroke="#333" stroke-width="1.1"/>
<text transform="translate(340.9,517.2) rotate(90)" x="0" y="0" font-size="8.4" fill="#333" text-anchor="middle">ns</text>
<text x="284.7" y="571.2" font-size="9.5" fill="#333" text-anchor="middle" textLength="50.3" lengthAdjust="spacingAndGlyphs" stroke="#333" stroke-width="0.2">Time (minutes)</text>
<line x1="401.70" y1="480.90" x2="401.70" y2="546.50" stroke="#222" stroke-width="1.1"/>
<line x1="401.20" y1="545.90" x2="504.70" y2="545.90" stroke="#222" stroke-width="1.1"/>
<line x1="398.70" y1="545.90" x2="401.70" y2="545.90" stroke="#222" stroke-width="1"/>
<text x="395.5" y="548.3" font-size="8.5" fill="#333" text-anchor="end">0</text>
<line x1="398.70" y1="527.24" x2="401.70" y2="527.24" stroke="#222" stroke-width="1"/>
<text x="395.5" y="529.6" font-size="8.5" fill="#333" text-anchor="end">200</text>
<line x1="398.70" y1="508.58" x2="401.70" y2="508.58" stroke="#222" stroke-width="1"/>
<text x="395.5" y="511.0" font-size="8.5" fill="#333" text-anchor="end">400</text>
<line x1="398.70" y1="489.92" x2="401.70" y2="489.92" stroke="#222" stroke-width="1"/>
<text x="395.5" y="492.3" font-size="8.5" fill="#333" text-anchor="end">600</text>
<line x1="401.70" y1="545.90" x2="401.70" y2="548.40" stroke="#222" stroke-width="0.9"/>
<line x1="408.40" y1="545.90" x2="408.40" y2="547.30" stroke="#222" stroke-width="0.9"/>
<line x1="415.10" y1="545.90" x2="415.10" y2="547.30" stroke="#222" stroke-width="0.9"/>
<line x1="421.80" y1="545.90" x2="421.80" y2="547.30" stroke="#222" stroke-width="0.9"/>
<line x1="428.50" y1="545.90" x2="428.50" y2="547.30" stroke="#222" stroke-width="0.9"/>
<line x1="435.20" y1="545.90" x2="435.20" y2="548.40" stroke="#222" stroke-width="0.9"/>
<line x1="441.90" y1="545.90" x2="441.90" y2="547.30" stroke="#222" stroke-width="0.9"/>
<line x1="448.60" y1="545.90" x2="448.60" y2="547.30" stroke="#222" stroke-width="0.9"/>
<line x1="455.30" y1="545.90" x2="455.30" y2="547.30" stroke="#222" stroke-width="0.9"/>
<line x1="462.00" y1="545.90" x2="462.00" y2="547.30" stroke="#222" stroke-width="0.9"/>
<line x1="468.70" y1="545.90" x2="468.70" y2="548.40" stroke="#222" stroke-width="0.9"/>
<line x1="475.40" y1="545.90" x2="475.40" y2="547.30" stroke="#222" stroke-width="0.9"/>
<line x1="482.10" y1="545.90" x2="482.10" y2="547.30" stroke="#222" stroke-width="0.9"/>
<line x1="488.80" y1="545.90" x2="488.80" y2="547.30" stroke="#222" stroke-width="0.9"/>
<line x1="495.50" y1="545.90" x2="495.50" y2="547.30" stroke="#222" stroke-width="0.9"/>
<line x1="502.20" y1="545.90" x2="502.20" y2="548.40" stroke="#222" stroke-width="0.9"/>
<text x="401.7" y="558.8" font-size="8.3" fill="#333" text-anchor="middle">0</text>
<text x="435.2" y="558.8" font-size="8.3" fill="#333" text-anchor="middle">5</text>
<text x="468.7" y="558.8" font-size="8.3" fill="#333" text-anchor="middle">10</text>
<text x="502.2" y="558.8" font-size="8.3" fill="#333" text-anchor="middle">15</text>
<text transform="translate(365.0,509.5) rotate(-90)" x="0" y="0" font-size="10.4" fill="#333" text-anchor="middle" textLength="41" lengthAdjust="spacingAndGlyphs" stroke="#333" stroke-width="0.22">Plug density</text>
<text transform="translate(377.3,509.5) rotate(-90)" x="0" y="0" font-size="10.4" fill="#333" text-anchor="middle" textLength="87" lengthAdjust="spacingAndGlyphs" stroke="#333" stroke-width="0.22">(α-GPIX SFI/plug volume)</text>
<line x1="402.50" y1="489.17" x2="402.50" y2="490.67" stroke="#dfe7c2" stroke-width="1.0" opacity="1"/>
<line x1="404.50" y1="489.17" x2="404.50" y2="490.67" stroke="#dfe7c2" stroke-width="1.0" opacity="1"/>
<line x1="406.50" y1="529.08" x2="406.50" y2="530.57" stroke="#dfe7c2" stroke-width="1.0" opacity="1"/>
<line x1="408.50" y1="529.48" x2="408.50" y2="530.97" stroke="#dfe7c2" stroke-width="1.0" opacity="1"/>
<line x1="410.50" y1="529.48" x2="410.50" y2="530.97" stroke="#dfe7c2" stroke-width="1.0" opacity="1"/>
<line x1="412.50" y1="529.48" x2="412.50" y2="530.97" stroke="#dfe7c2" stroke-width="1.0" opacity="1"/>
<line x1="414.50" y1="529.48" x2="414.50" y2="530.97" stroke="#dfe7c2" stroke-width="1.0" opacity="1"/>
<line x1="416.50" y1="529.48" x2="416.50" y2="530.97" stroke="#dfe7c2" stroke-width="1.0" opacity="1"/>
<line x1="418.50" y1="529.48" x2="418.50" y2="530.97" stroke="#dfe7c2" stroke-width="1.0" opacity="1"/>
<line x1="420.50" y1="529.48" x2="420.50" y2="530.97" stroke="#dfe7c2" stroke-width="1.0" opacity="1"/>
<line x1="422.50" y1="529.48" x2="422.50" y2="530.97" stroke="#dfe7c2" stroke-width="1.0" opacity="1"/>
<line x1="424.50" y1="529.48" x2="424.50" y2="530.97" stroke="#dfe7c2" stroke-width="1.0" opacity="1"/>
<line x1="426.50" y1="529.48" x2="426.50" y2="530.97" stroke="#dfe7c2" stroke-width="1.0" opacity="1"/>
<line x1="428.50" y1="529.48" x2="428.50" y2="530.97" stroke="#dfe7c2" stroke-width="1.0" opacity="1"/>
<line x1="430.50" y1="529.48" x2="430.50" y2="530.97" stroke="#dfe7c2" stroke-width="1.0" opacity="1"/>
<line x1="432.50" y1="529.48" x2="432.50" y2="530.97" stroke="#dfe7c2" stroke-width="1.0" opacity="1"/>
<line x1="434.50" y1="529.48" x2="434.50" y2="530.97" stroke="#dfe7c2" stroke-width="1.0" opacity="1"/>
<line x1="436.50" y1="529.48" x2="436.50" y2="530.97" stroke="#dfe7c2" stroke-width="1.0" opacity="1"/>
<line x1="438.50" y1="529.48" x2="438.50" y2="530.97" stroke="#dfe7c2" stroke-width="1.0" opacity="1"/>
<line x1="440.50" y1="529.48" x2="440.50" y2="530.97" stroke="#dfe7c2" stroke-width="1.0" opacity="1"/>
<line x1="442.50" y1="529.48" x2="442.50" y2="530.97" stroke="#dfe7c2" stroke-width="1.0" opacity="1"/>
<line x1="444.50" y1="529.48" x2="444.50" y2="530.97" stroke="#dfe7c2" stroke-width="1.0" opacity="1"/>
<line x1="446.50" y1="529.48" x2="446.50" y2="530.97" stroke="#dfe7c2" stroke-width="1.0" opacity="1"/>
<line x1="448.50" y1="529.48" x2="448.50" y2="530.97" stroke="#dfe7c2" stroke-width="1.0" opacity="1"/>
<line x1="450.50" y1="529.48" x2="450.50" y2="530.97" stroke="#dfe7c2" stroke-width="1.0" opacity="1"/>
<line x1="452.50" y1="529.48" x2="452.50" y2="530.97" stroke="#dfe7c2" stroke-width="1.0" opacity="1"/>
<line x1="454.50" y1="529.48" x2="454.50" y2="530.97" stroke="#dfe7c2" stroke-width="1.0" opacity="1"/>
<line x1="456.50" y1="529.48" x2="456.50" y2="530.97" stroke="#dfe7c2" stroke-width="1.0" opacity="1"/>
<line x1="458.50" y1="529.48" x2="458.50" y2="530.97" stroke="#dfe7c2" stroke-width="1.0" opacity="1"/>
<line x1="460.50" y1="529.48" x2="460.50" y2="530.97" stroke="#dfe7c2" stroke-width="1.0" opacity="1"/>
<line x1="462.50" y1="529.48" x2="462.50" y2="530.97" stroke="#dfe7c2" stroke-width="1.0" opacity="1"/>
<line x1="464.50" y1="529.48" x2="464.50" y2="530.97" stroke="#dfe7c2" stroke-width="1.0" opacity="1"/>
<line x1="466.50" y1="529.48" x2="466.50" y2="530.97" stroke="#dfe7c2" stroke-width="1.0" opacity="1"/>
<line x1="468.50" y1="529.48" x2="468.50" y2="530.97" stroke="#dfe7c2" stroke-width="1.0" opacity="1"/>
<line x1="470.50" y1="529.48" x2="470.50" y2="530.97" stroke="#dfe7c2" stroke-width="1.0" opacity="1"/>
<line x1="472.50" y1="529.48" x2="472.50" y2="530.97" stroke="#dfe7c2" stroke-width="1.0" opacity="1"/>
<line x1="474.50" y1="529.48" x2="474.50" y2="530.97" stroke="#dfe7c2" stroke-width="1.0" opacity="1"/>
<line x1="476.50" y1="529.48" x2="476.50" y2="530.97" stroke="#dfe7c2" stroke-width="1.0" opacity="1"/>
<line x1="478.50" y1="529.48" x2="478.50" y2="530.97" stroke="#dfe7c2" stroke-width="1.0" opacity="1"/>
<line x1="480.50" y1="529.48" x2="480.50" y2="530.97" stroke="#dfe7c2" stroke-width="1.0" opacity="1"/>
<line x1="482.50" y1="529.48" x2="482.50" y2="530.97" stroke="#dfe7c2" stroke-width="1.0" opacity="1"/>
<line x1="484.50" y1="529.48" x2="484.50" y2="530.97" stroke="#dfe7c2" stroke-width="1.0" opacity="1"/>
<line x1="486.50" y1="529.48" x2="486.50" y2="530.97" stroke="#dfe7c2" stroke-width="1.0" opacity="1"/>
<line x1="488.50" y1="529.48" x2="488.50" y2="530.97" stroke="#dfe7c2" stroke-width="1.0" opacity="1"/>
<line x1="490.50" y1="529.48" x2="490.50" y2="530.97" stroke="#dfe7c2" stroke-width="1.0" opacity="1"/>
<path d="M402.37 489.92 L404.37 489.92 L406.37 529.82 L408.37 530.23 L410.37 530.23 L412.37 530.23 L414.37 530.23 L416.37 530.23 L418.37 530.23 L420.37 530.23 L422.37 530.23 L424.37 530.23 L426.37 530.23 L428.37 530.23 L430.37 530.23 L432.37 530.23 L434.37 530.23 L436.37 530.23 L438.37 530.23 L440.37 530.23 L442.37 530.23 L444.37 530.23 L446.37 530.23 L448.37 530.23 L450.37 530.23 L452.37 530.23 L454.37 530.23 L456.37 530.23 L458.37 530.23 L460.37 530.23 L462.37 530.23 L464.37 530.23 L466.37 530.23 L468.37 530.23 L470.37 530.23 L472.37 530.23 L474.37 530.23 L476.37 530.23 L478.37 530.23 L480.37 530.23 L482.37 530.23 L484.37 530.23 L486.37 530.23 L488.37 530.23 L490.37 530.23" fill="none" stroke="#c2cd92" stroke-width="1.2" stroke-linejoin="round"/>
<line x1="405.38" y1="480.59" x2="405.38" y2="545.90" stroke="#c8c890" stroke-width="1"/>
<line x1="407.50" y1="519.47" x2="407.50" y2="529.41" stroke="#eee5f2" stroke-width="1"/>
<line x1="406.50" y1="519.47" x2="406.50" y2="529.41" stroke="#a88cba" stroke-width="1.0" opacity="1"/>
<line x1="409.50" y1="519.42" x2="409.50" y2="529.46" stroke="#eee5f2" stroke-width="1"/>
<line x1="408.50" y1="519.42" x2="408.50" y2="529.46" stroke="#a88cba" stroke-width="1.0" opacity="1"/>
<line x1="411.50" y1="513.59" x2="411.50" y2="522.49" stroke="#eee5f2" stroke-width="1"/>
<line x1="410.50" y1="513.59" x2="410.50" y2="522.49" stroke="#a88cba" stroke-width="1.0" opacity="1"/>
<line x1="413.50" y1="508.32" x2="413.50" y2="516.47" stroke="#eee5f2" stroke-width="1"/>
<line x1="412.50" y1="508.32" x2="412.50" y2="516.47" stroke="#a88cba" stroke-width="1.0" opacity="1"/>
<line x1="415.50" y1="517.24" x2="415.50" y2="524.52" stroke="#eee5f2" stroke-width="1"/>
<line x1="414.50" y1="517.24" x2="414.50" y2="524.52" stroke="#a88cba" stroke-width="1.0" opacity="1"/>
<line x1="417.50" y1="518.05" x2="417.50" y2="526.91" stroke="#eee5f2" stroke-width="1"/>
<line x1="416.50" y1="518.05" x2="416.50" y2="526.91" stroke="#a88cba" stroke-width="1.0" opacity="1"/>
<line x1="419.50" y1="518.25" x2="419.50" y2="526.78" stroke="#eee5f2" stroke-width="1"/>
<line x1="418.50" y1="518.25" x2="418.50" y2="526.78" stroke="#a88cba" stroke-width="1.0" opacity="1"/>
<line x1="421.50" y1="518.54" x2="421.50" y2="526.74" stroke="#eee5f2" stroke-width="1"/>
<line x1="420.50" y1="518.54" x2="420.50" y2="526.74" stroke="#a88cba" stroke-width="1.0" opacity="1"/>
<line x1="423.50" y1="517.82" x2="423.50" y2="527.55" stroke="#eee5f2" stroke-width="1"/>
<line x1="422.50" y1="517.82" x2="422.50" y2="527.55" stroke="#a88cba" stroke-width="1.0" opacity="1"/>
<line x1="425.50" y1="518.51" x2="425.50" y2="527.59" stroke="#eee5f2" stroke-width="1"/>
<line x1="424.50" y1="518.51" x2="424.50" y2="527.59" stroke="#a88cba" stroke-width="1.0" opacity="1"/>
<line x1="427.50" y1="518.72" x2="427.50" y2="526.64" stroke="#eee5f2" stroke-width="1"/>
<line x1="426.50" y1="518.72" x2="426.50" y2="526.64" stroke="#a88cba" stroke-width="1.0" opacity="1"/>
<line x1="429.50" y1="517.76" x2="429.50" y2="527.74" stroke="#eee5f2" stroke-width="1"/>
<line x1="428.50" y1="517.76" x2="428.50" y2="527.74" stroke="#a88cba" stroke-width="1.0" opacity="1"/>
<line x1="431.50" y1="518.02" x2="431.50" y2="527.99" stroke="#eee5f2" stroke-width="1"/>
<line x1="430.50" y1="518.02" x2="430.50" y2="527.99" stroke="#a88cba" stroke-width="1.0" opacity="1"/>
<line x1="433.50" y1="517.41" x2="433.50" y2="527.52" stroke="#eee5f2" stroke-width="1"/>
<line x1="432.50" y1="517.41" x2="432.50" y2="527.52" stroke="#a88cba" stroke-width="1.0" opacity="1"/>
<line x1="435.50" y1="518.99" x2="435.50" y2="526.58" stroke="#eee5f2" stroke-width="1"/>
<line x1="434.50" y1="518.99" x2="434.50" y2="526.58" stroke="#a88cba" stroke-width="1.0" opacity="1"/>
<line x1="437.50" y1="515.62" x2="437.50" y2="525.60" stroke="#eee5f2" stroke-width="1"/>
<line x1="436.50" y1="515.62" x2="436.50" y2="525.60" stroke="#a88cba" stroke-width="1.0" opacity="1"/>
<line x1="439.50" y1="517.66" x2="439.50" y2="525.25" stroke="#eee5f2" stroke-width="1"/>
<line x1="438.50" y1="517.66" x2="438.50" y2="525.25" stroke="#a88cba" stroke-width="1.0" opacity="1"/>
<line x1="441.50" y1="518.26" x2="441.50" y2="527.67" stroke="#eee5f2" stroke-width="1"/>
<line x1="440.50" y1="518.26" x2="440.50" y2="527.67" stroke="#a88cba" stroke-width="1.0" opacity="1"/>
<line x1="443.50" y1="517.71" x2="443.50" y2="528.18" stroke="#eee5f2" stroke-width="1"/>
<line x1="442.50" y1="517.71" x2="442.50" y2="528.18" stroke="#a88cba" stroke-width="1.0" opacity="1"/>
<line x1="445.50" y1="518.72" x2="445.50" y2="526.68" stroke="#eee5f2" stroke-width="1"/>
<line x1="444.50" y1="518.72" x2="444.50" y2="526.68" stroke="#a88cba" stroke-width="1.0" opacity="1"/>
<line x1="447.50" y1="518.47" x2="447.50" y2="526.96" stroke="#eee5f2" stroke-width="1"/>
<line x1="446.50" y1="518.47" x2="446.50" y2="526.96" stroke="#a88cba" stroke-width="1.0" opacity="1"/>
<line x1="449.50" y1="517.32" x2="449.50" y2="527.65" stroke="#eee5f2" stroke-width="1"/>
<line x1="448.50" y1="517.32" x2="448.50" y2="527.65" stroke="#a88cba" stroke-width="1.0" opacity="1"/>
<line x1="451.50" y1="517.71" x2="451.50" y2="527.15" stroke="#eee5f2" stroke-width="1"/>
<line x1="450.50" y1="517.71" x2="450.50" y2="527.15" stroke="#a88cba" stroke-width="1.0" opacity="1"/>
<line x1="453.50" y1="516.97" x2="453.50" y2="526.96" stroke="#eee5f2" stroke-width="1"/>
<line x1="452.50" y1="516.97" x2="452.50" y2="526.96" stroke="#a88cba" stroke-width="1.0" opacity="1"/>
<line x1="455.50" y1="518.81" x2="455.50" y2="526.18" stroke="#eee5f2" stroke-width="1"/>
<line x1="454.50" y1="518.81" x2="454.50" y2="526.18" stroke="#a88cba" stroke-width="1.0" opacity="1"/>
<line x1="457.50" y1="518.51" x2="457.50" y2="527.81" stroke="#eee5f2" stroke-width="1"/>
<line x1="456.50" y1="518.51" x2="456.50" y2="527.81" stroke="#a88cba" stroke-width="1.0" opacity="1"/>
<line x1="459.50" y1="518.57" x2="459.50" y2="527.83" stroke="#eee5f2" stroke-width="1"/>
<line x1="458.50" y1="518.57" x2="458.50" y2="527.83" stroke="#a88cba" stroke-width="1.0" opacity="1"/>
<line x1="461.50" y1="518.30" x2="461.50" y2="528.53" stroke="#eee5f2" stroke-width="1"/>
<line x1="460.50" y1="518.30" x2="460.50" y2="528.53" stroke="#a88cba" stroke-width="1.0" opacity="1"/>
<line x1="463.50" y1="519.07" x2="463.50" y2="526.74" stroke="#eee5f2" stroke-width="1"/>
<line x1="462.50" y1="519.07" x2="462.50" y2="526.74" stroke="#a88cba" stroke-width="1.0" opacity="1"/>
<line x1="465.50" y1="518.56" x2="465.50" y2="526.89" stroke="#eee5f2" stroke-width="1"/>
<line x1="464.50" y1="518.56" x2="464.50" y2="526.89" stroke="#a88cba" stroke-width="1.0" opacity="1"/>
<line x1="467.50" y1="518.77" x2="467.50" y2="527.67" stroke="#eee5f2" stroke-width="1"/>
<line x1="466.50" y1="518.77" x2="466.50" y2="527.67" stroke="#a88cba" stroke-width="1.0" opacity="1"/>
<line x1="469.50" y1="519.27" x2="469.50" y2="527.25" stroke="#eee5f2" stroke-width="1"/>
<line x1="468.50" y1="519.27" x2="468.50" y2="527.25" stroke="#a88cba" stroke-width="1.0" opacity="1"/>
<line x1="471.50" y1="517.61" x2="471.50" y2="527.23" stroke="#eee5f2" stroke-width="1"/>
<line x1="470.50" y1="517.61" x2="470.50" y2="527.23" stroke="#a88cba" stroke-width="1.0" opacity="1"/>
<line x1="473.50" y1="518.41" x2="473.50" y2="528.30" stroke="#eee5f2" stroke-width="1"/>
<line x1="472.50" y1="518.41" x2="472.50" y2="528.30" stroke="#a88cba" stroke-width="1.0" opacity="1"/>
<line x1="475.50" y1="519.13" x2="475.50" y2="527.52" stroke="#eee5f2" stroke-width="1"/>
<line x1="474.50" y1="519.13" x2="474.50" y2="527.52" stroke="#a88cba" stroke-width="1.0" opacity="1"/>
<line x1="477.50" y1="517.63" x2="477.50" y2="526.99" stroke="#eee5f2" stroke-width="1"/>
<line x1="476.50" y1="517.63" x2="476.50" y2="526.99" stroke="#a88cba" stroke-width="1.0" opacity="1"/>
<line x1="479.50" y1="518.68" x2="479.50" y2="527.22" stroke="#eee5f2" stroke-width="1"/>
<line x1="478.50" y1="518.68" x2="478.50" y2="527.22" stroke="#a88cba" stroke-width="1.0" opacity="1"/>
<line x1="481.50" y1="518.98" x2="481.50" y2="526.69" stroke="#eee5f2" stroke-width="1"/>
<line x1="480.50" y1="518.98" x2="480.50" y2="526.69" stroke="#a88cba" stroke-width="1.0" opacity="1"/>
<line x1="483.50" y1="518.40" x2="483.50" y2="525.86" stroke="#eee5f2" stroke-width="1"/>
<line x1="482.50" y1="518.40" x2="482.50" y2="525.86" stroke="#a88cba" stroke-width="1.0" opacity="1"/>
<line x1="485.50" y1="517.86" x2="485.50" y2="527.64" stroke="#eee5f2" stroke-width="1"/>
<line x1="484.50" y1="517.86" x2="484.50" y2="527.64" stroke="#a88cba" stroke-width="1.0" opacity="1"/>
<line x1="487.50" y1="517.47" x2="487.50" y2="528.04" stroke="#eee5f2" stroke-width="1"/>
<line x1="486.50" y1="517.47" x2="486.50" y2="528.04" stroke="#a88cba" stroke-width="1.0" opacity="1"/>
<line x1="489.50" y1="517.61" x2="489.50" y2="528.18" stroke="#eee5f2" stroke-width="1"/>
<line x1="488.50" y1="517.61" x2="488.50" y2="528.18" stroke="#a88cba" stroke-width="1.0" opacity="1"/>
<line x1="491.50" y1="517.39" x2="491.50" y2="526.91" stroke="#eee5f2" stroke-width="1"/>
<line x1="490.50" y1="517.39" x2="490.50" y2="526.91" stroke="#a88cba" stroke-width="1.0" opacity="1"/>
<path d="M402.37 494.58 L404.37 521.13 L406.37 524.44 L408.37 524.44 L410.37 518.04 L412.37 512.39 L414.37 520.88 L416.37 522.48 L418.37 522.51 L420.37 522.64 L422.37 522.68 L424.37 523.05 L426.37 522.68 L428.37 522.75 L430.37 523.01 L432.37 522.47 L434.37 522.79 L436.37 520.61 L438.37 521.45 L440.37 522.96 L442.37 522.95 L444.37 522.70 L446.37 522.71 L448.37 522.49 L450.37 522.43 L452.37 521.96 L454.37 522.49 L456.37 523.16 L458.37 523.20 L460.37 523.41 L462.37 522.90 L464.37 522.72 L466.37 523.22 L468.37 523.26 L470.37 522.42 L472.37 523.35 L474.37 523.32 L476.37 522.31 L478.37 522.95 L480.37 522.83 L482.37 522.13 L484.37 522.75 L486.37 522.75 L488.37 522.90 L490.37 522.15" fill="none" stroke="#4e2a72" stroke-width="1.2" stroke-linejoin="round"/>
<line x1="411.75" y1="480.59" x2="411.75" y2="545.90" stroke="#7a4a95" stroke-width="1"/>
<line x1="437.21" y1="507.65" x2="437.21" y2="531.90" stroke="#555" stroke-width="0.9"/>
<line x1="451.28" y1="513.25" x2="451.28" y2="531.90" stroke="#555" stroke-width="0.9"/>
<path d="M401.7 485.3 L405.1 493.7 L405.1 540.3 L401.7 545.9 Z" fill="#8a6a9e" opacity="0.9"/>
<path d="M498.9 513.2 H506.8 V538.6 H498.9" fill="none" stroke="#333" stroke-width="1.1"/>
<circle cx="510.9" cy="522.2" r="1.05" fill="#222"/>
<circle cx="510.9" cy="525.8" r="1.05" fill="#222"/>
<circle cx="510.9" cy="529.4" r="1.05" fill="#222"/>
<text x="453.5" y="571.2" font-size="9.5" fill="#333" text-anchor="middle" textLength="51.4" lengthAdjust="spacingAndGlyphs" stroke="#333" stroke-width="0.2">Time (minutes)</text>
<line x1="404.20" y1="584.20" x2="418.00" y2="584.20" stroke="#7a5a92" stroke-width="1.3"/>
<text x="421.2" y="586.7" font-size="8.7" fill="#333" textLength="35.5" lengthAdjust="spacingAndGlyphs">Wild-type</text>
<line x1="463.50" y1="584.20" x2="476.20" y2="584.20" stroke="#d2d8b4" stroke-width="1.3"/>
<text x="479.3" y="586.7" font-size="8.7" fill="#333">F12<tspan font-size="6" dy="-3.6">–/–</tspan></text>
<rect x="0.5" y="0.5" width="519" height="595" fill="none" stroke="#555" stroke-width="1"/>
</svg>
</body></html>
